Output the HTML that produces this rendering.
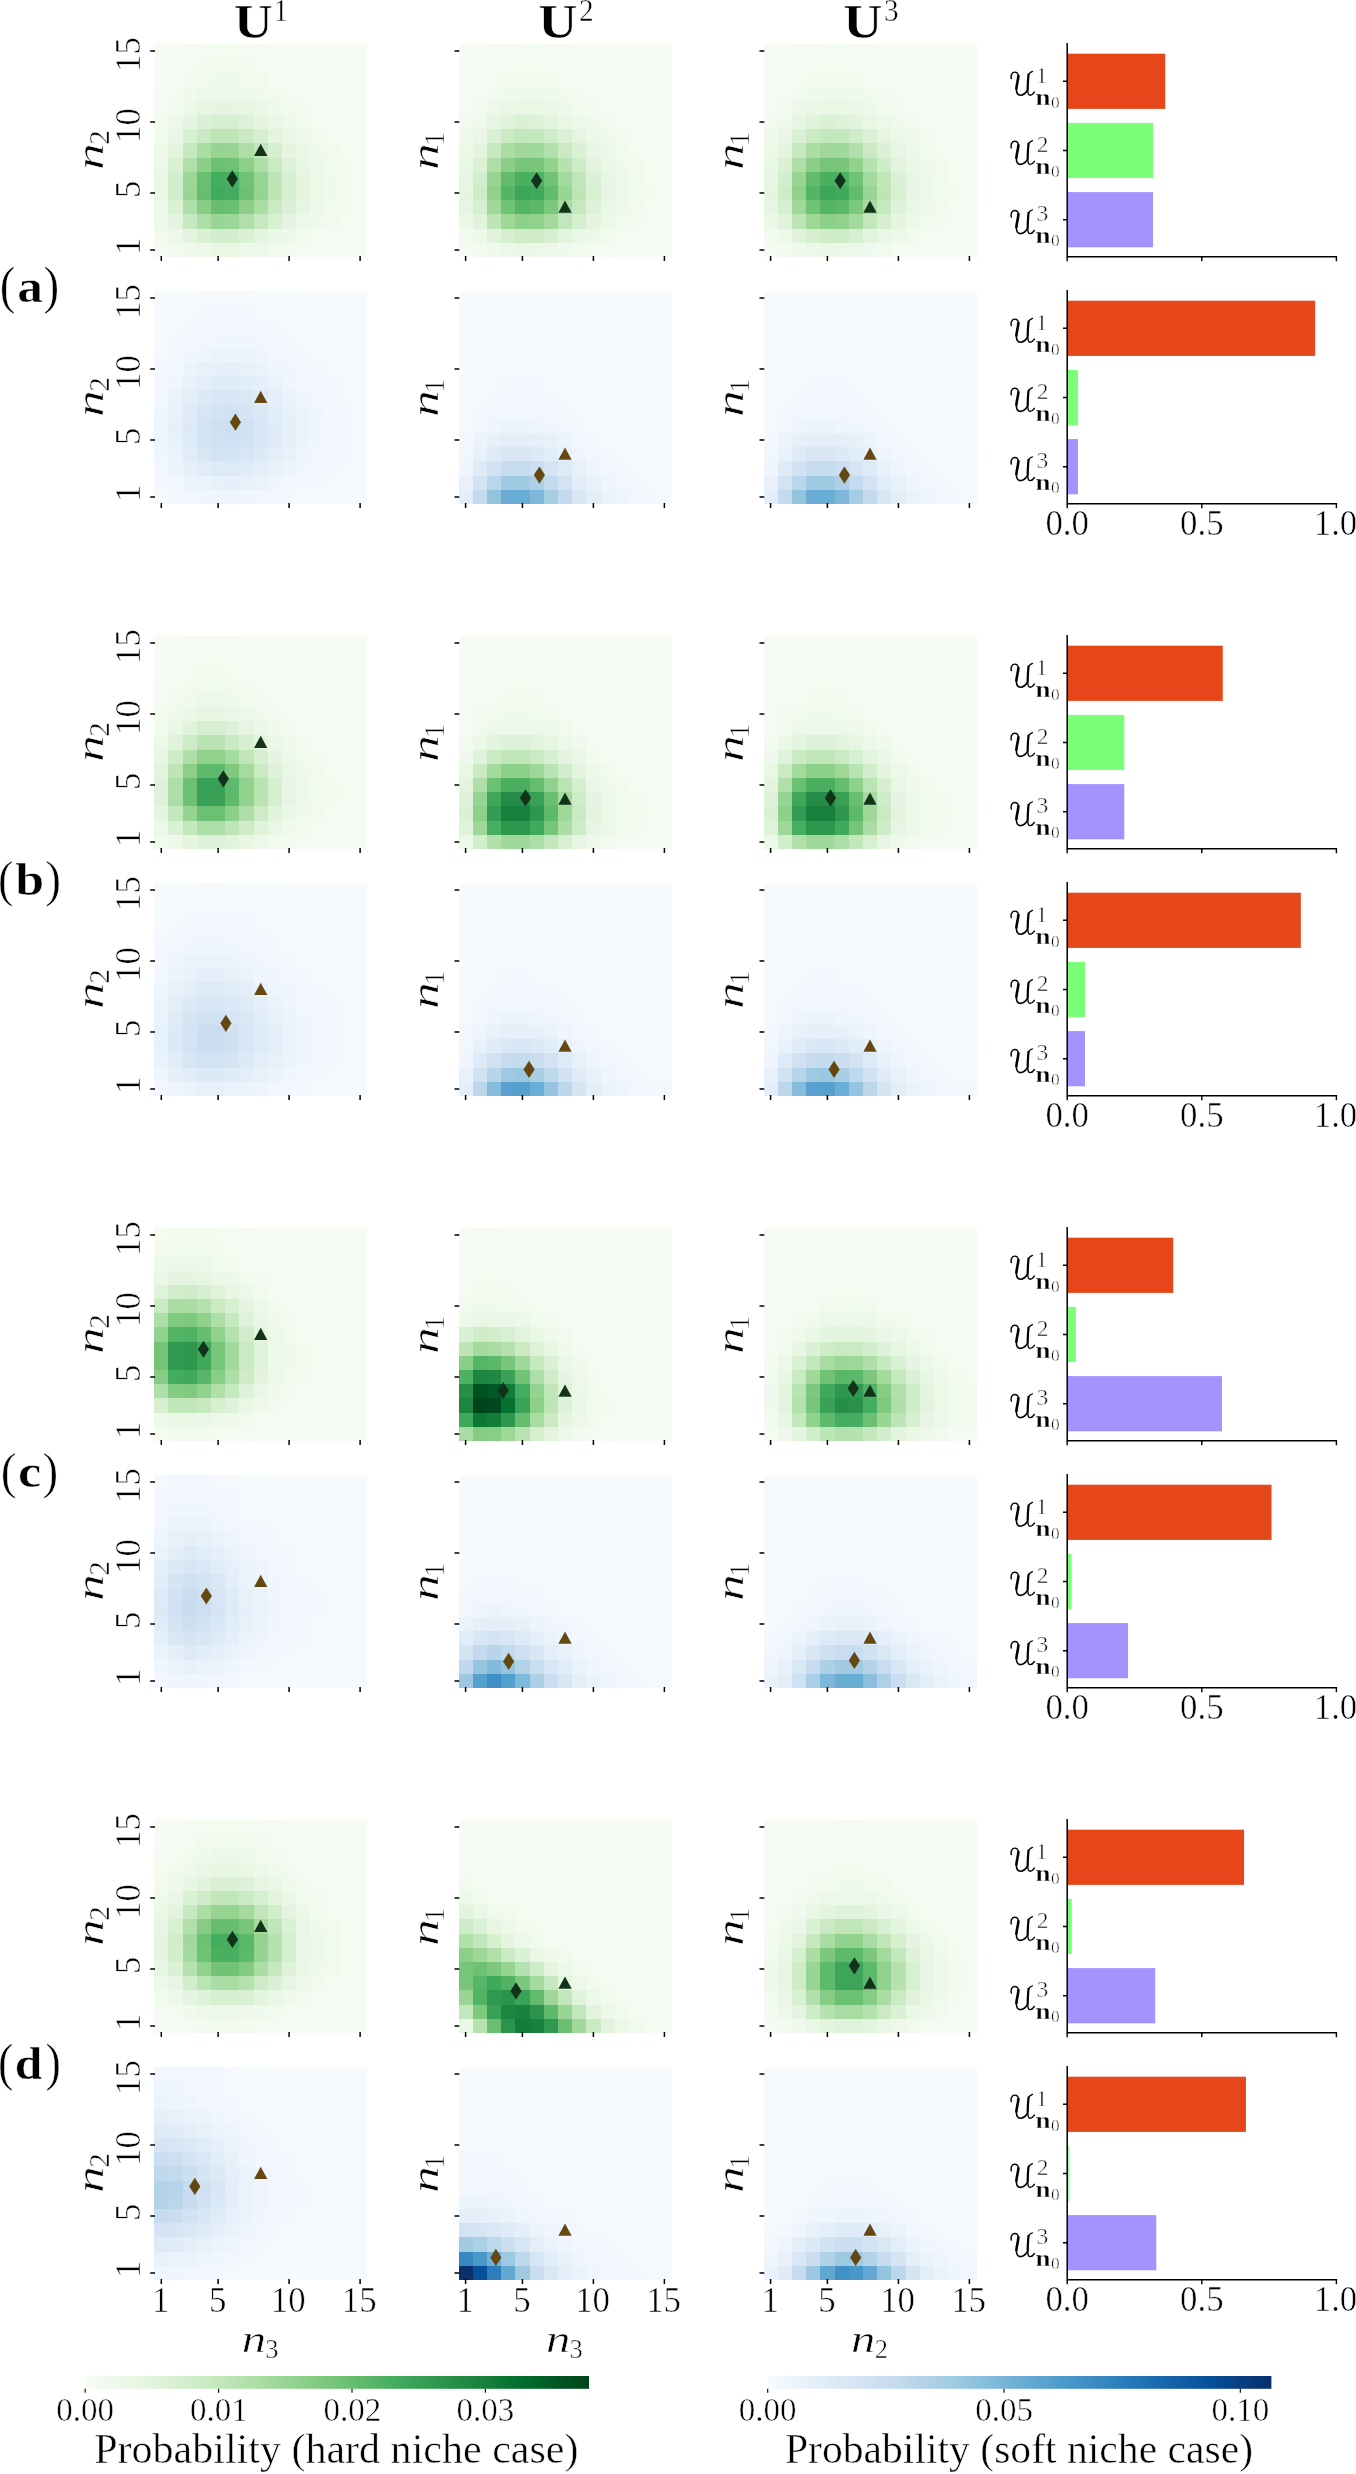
<!DOCTYPE html><html><head><meta charset="utf-8"><style>html,body{margin:0;padding:0;background:#fff}svg{display:block;will-change:transform}text{font-family:"Liberation Serif",serif;font-kerning:none;stroke:#fff;stroke-width:0.5px}</style></head><body><svg width="1356" height="2474" viewBox="0 0 1356 2474">
<rect width="1356" height="2474" fill="#fff"/>
<defs><g id="calU" fill="none" stroke="#000" stroke-linecap="round"><path stroke-width="1.4" d="M3.3 10.6C2.6 8.0 3.6 4.2 6.4 4.1C8.8 4.0 10.6 5.5 10.4 8.5"/><path stroke-width="2.6" d="M10.4 8.0C10.2 12 8.7 16 8.4 20.5"/><path stroke-width="1.6" d="M8.4 20.5C8.2 25 9.8 27.2 12.2 27.2C15.3 27.2 17.8 25.2 19.5 22.0"/><path stroke-width="1.1" d="M24.6 3.4C22.6 4.0 20.9 5.0 20.4 7.5"/><path stroke-width="2.2" d="M20.5 6.5C20.1 11 19.7 16 19.7 21"/><path stroke-width="1.4" d="M19.7 21C19.7 25.3 20.6 27.2 22.2 27.2C23.8 27.2 25.4 25.6 26.4 24.1"/></g></defs>
<text transform="translate(233.85,38.06) scale(1.110,1)" font-size="48.90" font-weight="bold">U</text>
<text transform="translate(273.43,21.00) scale(0.920,1)" font-size="31.80">1</text>
<text transform="translate(538.15,38.06) scale(1.110,1)" font-size="48.90" font-weight="bold">U</text>
<text transform="translate(579.01,21.00) scale(0.920,1)" font-size="31.80">2</text>
<text transform="translate(843.15,38.06) scale(1.110,1)" font-size="48.90" font-weight="bold">U</text>
<text transform="translate(883.90,21.00) scale(0.920,1)" font-size="31.80">3</text>
<g transform="translate(154.20,44.00) scale(14.20000)" shape-rendering="crispEdges">
<path fill="#f5fbf3" d="M0 14h1v1h-1zM11 14h1v1h-1zM13 13h1v1h-1zM14 12h1v1h-1zM14 7h1v1h-1zM13 6h1v1h-1zM12 4h1v1h-1zM0 3h1v1h-1zM10 2h1v1h-1zM1 1h1v1h-1zM8 1h1v1h-1zM2 0h1v1h-1zM7 0h1v1h-1z"/>
<path fill="#f2faf0" d="M1 14h1v1h-1zM0 13h1v1h-1zM12 12h1v1h-1zM13 10h1v1h-1zM13 9h1v1h-1zM12 7h1v1h-1zM11 6h1v1h-1zM8 3h1v1h-1zM2 2h1v1h-1zM7 2h1v1h-1zM4 1h1v1h-1zM5 1h1v1h-1z"/>
<path fill="#eff9eb" d="M2 14h1v1h-1zM0 12h1v1h-1zM10 6h1v1h-1zM9 5h1v1h-1zM8 4h1v1h-1z"/>
<path fill="#ecf8e8" d="M3 14h1v1h-1zM6 14h1v1h-1zM10 12h1v1h-1zM0 11h1v1h-1zM11 10h1v1h-1zM11 9h1v1h-1zM0 8h1v1h-1zM2 4h1v1h-1zM4 3h1v1h-1zM5 3h1v1h-1z"/>
<path fill="#e9f7e5" d="M4 14h1v1h-1zM5 14h1v1h-1zM8 13h1v1h-1zM0 10h1v1h-1zM0 9h1v1h-1zM1 6h1v1h-1z"/>
<path fill="#eef8ea" d="M7 14h1v1h-1zM1 13h1v1h-1zM9 13h1v1h-1zM11 11h1v1h-1zM11 8h1v1h-1zM0 7h1v1h-1zM1 5h1v1h-1zM3 3h1v1h-1zM6 3h1v1h-1z"/>
<path fill="#f1faee" d="M8 14h1v1h-1zM10 13h1v1h-1zM12 11h1v1h-1zM12 8h1v1h-1zM0 6h1v1h-1zM10 5h1v1h-1zM1 4h1v1h-1zM9 4h1v1h-1zM3 2h1v1h-1zM6 2h1v1h-1z"/>
<path fill="#f3faf0" d="M9 14h1v1h-1zM13 11h1v1h-1zM13 8h1v1h-1zM0 5h1v1h-1zM10 4h1v1h-1zM3 1h1v1h-1zM6 1h1v1h-1z"/>
<path fill="#f4fbf2" d="M10 14h1v1h-1zM12 13h1v1h-1zM14 11h1v1h-1zM14 8h1v1h-1zM12 5h1v1h-1zM0 4h1v1h-1zM11 4h1v1h-1zM10 3h1v1h-1zM1 2h1v1h-1zM9 2h1v1h-1zM3 0h1v1h-1zM6 0h1v1h-1z"/>
<path fill="#f6fcf4" d="M12 14h1v1h-1zM13 14h1v1h-1zM14 14h1v1h-1zM14 13h1v1h-1zM14 6h1v1h-1zM13 5h1v1h-1zM14 5h1v1h-1zM13 4h1v1h-1zM14 4h1v1h-1zM11 3h1v1h-1zM12 3h1v1h-1zM13 3h1v1h-1zM14 3h1v1h-1zM0 2h1v1h-1zM11 2h1v1h-1zM12 2h1v1h-1zM13 2h1v1h-1zM14 2h1v1h-1zM0 1h1v1h-1zM9 1h1v1h-1zM10 1h1v1h-1zM11 1h1v1h-1zM12 1h1v1h-1zM13 1h1v1h-1zM14 1h1v1h-1zM0 0h1v1h-1zM1 0h1v1h-1zM8 0h1v1h-1zM9 0h1v1h-1zM10 0h1v1h-1zM11 0h1v1h-1zM12 0h1v1h-1zM13 0h1v1h-1zM14 0h1v1h-1z"/>
<path fill="#e4f5df" d="M2 13h1v1h-1zM7 13h1v1h-1zM1 12h1v1h-1zM1 7h1v1h-1zM8 6h1v1h-1z"/>
<path fill="#dbf1d5" d="M3 13h1v1h-1zM6 13h1v1h-1zM1 11h1v1h-1zM1 8h1v1h-1z"/>
<path fill="#d3eecd" d="M4 13h1v1h-1zM5 13h1v1h-1zM1 10h1v1h-1zM1 9h1v1h-1z"/>
<path fill="#f4fbf1" d="M11 13h1v1h-1zM13 12h1v1h-1zM14 10h1v1h-1zM14 9h1v1h-1zM13 7h1v1h-1zM12 6h1v1h-1zM11 5h1v1h-1zM1 3h1v1h-1zM9 3h1v1h-1zM8 2h1v1h-1zM2 1h1v1h-1zM7 1h1v1h-1zM4 0h1v1h-1zM5 0h1v1h-1z"/>
<path fill="#c7e9c0" d="M2 12h1v1h-1z"/>
<path fill="#aedea7" d="M3 12h1v1h-1zM2 11h1v1h-1zM7 8h1v1h-1zM6 7h1v1h-1z"/>
<path fill="#99d595" d="M4 12h1v1h-1zM2 10h1v1h-1z"/>
<path fill="#9cd797" d="M5 12h1v1h-1zM2 9h1v1h-1z"/>
<path fill="#b0dfaa" d="M6 12h1v1h-1zM2 8h1v1h-1z"/>
<path fill="#c6e8bf" d="M7 12h1v1h-1zM2 7h1v1h-1z"/>
<path fill="#d8f0d2" d="M8 12h1v1h-1zM2 6h1v1h-1z"/>
<path fill="#e6f5e1" d="M9 12h1v1h-1zM2 5h1v1h-1z"/>
<path fill="#f0f9ed" d="M11 12h1v1h-1zM12 9h1v1h-1zM11 7h1v1h-1zM2 3h1v1h-1zM7 3h1v1h-1zM5 2h1v1h-1z"/>
<path fill="#86cc85" d="M3 11h1v1h-1z"/>
<path fill="#68be70" d="M4 11h1v1h-1zM3 10h1v1h-1z"/>
<path fill="#6abf71" d="M5 11h1v1h-1zM3 9h1v1h-1z"/>
<path fill="#8ace88" d="M6 11h1v1h-1zM3 8h1v1h-1z"/>
<path fill="#aadda4" d="M7 11h1v1h-1zM3 7h1v1h-1z"/>
<path fill="#c9eac2" d="M8 11h1v1h-1zM3 6h1v1h-1z"/>
<path fill="#dbf1d6" d="M9 11h1v1h-1zM3 5h1v1h-1z"/>
<path fill="#e7f6e3" d="M10 11h1v1h-1zM3 4h1v1h-1z"/>
<path fill="#40aa5d" d="M4 10h1v1h-1z"/>
<path fill="#45ad5f" d="M5 10h1v1h-1zM4 9h1v1h-1z"/>
<path fill="#6bc072" d="M6 10h1v1h-1zM4 8h1v1h-1z"/>
<path fill="#97d492" d="M7 10h1v1h-1zM4 7h1v1h-1z"/>
<path fill="#bde5b6" d="M8 10h1v1h-1zM4 6h1v1h-1z"/>
<path fill="#d6efd0" d="M9 10h1v1h-1zM9 9h1v1h-1zM4 5h1v1h-1zM5 5h1v1h-1z"/>
<path fill="#e5f5e0" d="M10 10h1v1h-1zM10 9h1v1h-1zM9 7h1v1h-1zM7 5h1v1h-1zM4 4h1v1h-1zM5 4h1v1h-1z"/>
<path fill="#eff9ec" d="M12 10h1v1h-1zM4 2h1v1h-1z"/>
<path fill="#46ae60" d="M5 9h1v1h-1z"/>
<path fill="#70c274" d="M6 9h1v1h-1zM5 8h1v1h-1z"/>
<path fill="#98d594" d="M7 9h1v1h-1zM5 7h1v1h-1z"/>
<path fill="#bee5b8" d="M8 9h1v1h-1zM5 6h1v1h-1z"/>
<path fill="#8dd08a" d="M6 8h1v1h-1z"/>
<path fill="#cbeac4" d="M8 8h1v1h-1zM6 6h1v1h-1z"/>
<path fill="#ddf2d8" d="M9 8h1v1h-1zM6 5h1v1h-1z"/>
<path fill="#e8f6e4" d="M10 8h1v1h-1zM6 4h1v1h-1z"/>
<path fill="#c3e7bc" d="M7 7h1v1h-1z"/>
<path fill="#d7efd1" d="M8 7h1v1h-1zM7 6h1v1h-1z"/>
<path fill="#ebf7e7" d="M10 7h1v1h-1zM7 4h1v1h-1z"/>
<path fill="#eaf7e6" d="M9 6h1v1h-1zM8 5h1v1h-1z"/>
</g>
<path stroke="#000" stroke-width="1.5" d="M150.20 249.90h4.8M161.30 256.00v4.9M150.20 193.10h4.8M218.10 256.00v4.9M150.20 122.10h4.8M289.10 256.00v4.9M150.20 51.10h4.8M360.10 256.00v4.9"/>
<path fill="#13321a" d="M232.30 170.30L237.90 178.90L232.30 187.50L226.70 178.90z"/>
<path fill="#13321a" d="M260.70 143.80L267.35 156.00L254.05 156.00z"/>
<text transform="translate(103.00,150.50) rotate(-90) translate(-19.42,0.00) scale(1.400,1)" font-size="38.40" font-style="italic">n</text>
<text transform="translate(103.00,150.50) rotate(-90) translate(5.73,6.00)" font-size="29.00">2</text>
<text transform="translate(140.1,249.90) rotate(-90) translate(-5.08,0.00)" font-size="34.80">1</text>
<text transform="translate(140.1,193.10) rotate(-90) translate(-4.93,0.00)" font-size="34.80">5</text>
<text transform="translate(140.1,122.10) rotate(-90) translate(-20.87,0.00)" font-size="34.80">10</text>
<text transform="translate(140.1,51.10) rotate(-90) translate(-20.85,0.00)" font-size="34.80">15</text>
<g transform="translate(458.50,44.00) scale(14.20000)" shape-rendering="crispEdges">
<path fill="#f4fbf2" d="M0 14h1v1h-1zM13 12h1v1h-1zM14 11h1v1h-1zM14 10h1v1h-1zM14 9h1v1h-1zM14 8h1v1h-1zM13 7h1v1h-1zM12 6h1v1h-1zM11 5h1v1h-1zM0 4h1v1h-1zM10 4h1v1h-1zM1 3h1v1h-1zM9 3h1v1h-1zM2 1h1v1h-1zM6 1h1v1h-1zM4 0h1v1h-1zM5 0h1v1h-1z"/>
<path fill="#f3faf0" d="M1 14h1v1h-1zM12 12h1v1h-1zM13 10h1v1h-1zM11 6h1v1h-1zM10 5h1v1h-1zM9 4h1v1h-1zM8 3h1v1h-1zM3 2h1v1h-1zM6 2h1v1h-1z"/>
<path fill="#eff9ec" d="M2 14h1v1h-1zM0 6h1v1h-1zM1 5h1v1h-1zM3 3h1v1h-1z"/>
<path fill="#ecf8e8" d="M3 14h1v1h-1zM5 14h1v1h-1zM1 13h1v1h-1zM10 12h1v1h-1zM0 7h1v1h-1zM9 6h1v1h-1zM8 5h1v1h-1z"/>
<path fill="#ebf7e7" d="M4 14h1v1h-1zM0 12h1v1h-1zM10 8h1v1h-1zM6 4h1v1h-1z"/>
<path fill="#edf8ea" d="M6 14h1v1h-1z"/>
<path fill="#f0f9ed" d="M7 14h1v1h-1zM11 8h1v1h-1zM10 6h1v1h-1zM9 5h1v1h-1zM6 3h1v1h-1z"/>
<path fill="#f1faee" d="M8 14h1v1h-1zM0 13h1v1h-1zM10 13h1v1h-1zM11 12h1v1h-1zM12 10h1v1h-1zM12 9h1v1h-1zM11 7h1v1h-1zM8 4h1v1h-1zM2 3h1v1h-1zM7 3h1v1h-1z"/>
<path fill="#f4fbf1" d="M9 14h1v1h-1zM11 13h1v1h-1zM13 11h1v1h-1zM13 9h1v1h-1zM13 8h1v1h-1zM12 7h1v1h-1zM2 2h1v1h-1zM7 2h1v1h-1zM3 1h1v1h-1zM4 1h1v1h-1zM5 1h1v1h-1z"/>
<path fill="#f5fbf3" d="M10 14h1v1h-1zM12 13h1v1h-1zM14 12h1v1h-1zM14 7h1v1h-1zM13 6h1v1h-1zM12 5h1v1h-1zM11 4h1v1h-1zM0 3h1v1h-1zM10 3h1v1h-1zM1 2h1v1h-1zM8 2h1v1h-1zM7 1h1v1h-1zM8 1h1v1h-1zM2 0h1v1h-1zM3 0h1v1h-1zM6 0h1v1h-1zM7 0h1v1h-1z"/>
<path fill="#f6fcf4" d="M11 14h1v1h-1zM12 14h1v1h-1zM13 14h1v1h-1zM14 14h1v1h-1zM13 13h1v1h-1zM14 13h1v1h-1zM14 6h1v1h-1zM13 5h1v1h-1zM14 5h1v1h-1zM12 4h1v1h-1zM13 4h1v1h-1zM14 4h1v1h-1zM11 3h1v1h-1zM12 3h1v1h-1zM13 3h1v1h-1zM14 3h1v1h-1zM0 2h1v1h-1zM9 2h1v1h-1zM10 2h1v1h-1zM11 2h1v1h-1zM12 2h1v1h-1zM13 2h1v1h-1zM14 2h1v1h-1zM0 1h1v1h-1zM1 1h1v1h-1zM9 1h1v1h-1zM10 1h1v1h-1zM11 1h1v1h-1zM12 1h1v1h-1zM13 1h1v1h-1zM14 1h1v1h-1zM0 0h1v1h-1zM1 0h1v1h-1zM8 0h1v1h-1zM9 0h1v1h-1zM10 0h1v1h-1zM11 0h1v1h-1zM12 0h1v1h-1zM13 0h1v1h-1zM14 0h1v1h-1z"/>
<path fill="#e0f3db" d="M2 13h1v1h-1zM1 12h1v1h-1zM3 5h1v1h-1z"/>
<path fill="#d5efcf" d="M3 13h1v1h-1z"/>
<path fill="#ceecc8" d="M4 13h1v1h-1zM8 8h1v1h-1z"/>
<path fill="#cfecc9" d="M5 13h1v1h-1zM1 10h1v1h-1z"/>
<path fill="#d7efd1" d="M6 13h1v1h-1z"/>
<path fill="#e3f4de" d="M7 13h1v1h-1zM6 5h1v1h-1z"/>
<path fill="#e9f7e5" d="M8 13h1v1h-1zM10 11h1v1h-1zM0 8h1v1h-1zM7 5h1v1h-1zM4 4h1v1h-1zM5 4h1v1h-1z"/>
<path fill="#eef8ea" d="M9 13h1v1h-1zM11 10h1v1h-1zM11 9h1v1h-1zM10 7h1v1h-1zM2 4h1v1h-1z"/>
<path fill="#bde5b6" d="M2 12h1v1h-1zM8 10h1v1h-1z"/>
<path fill="#9ed798" d="M3 12h1v1h-1z"/>
<path fill="#8dd08a" d="M4 12h1v1h-1z"/>
<path fill="#90d18d" d="M5 12h1v1h-1zM2 10h1v1h-1z"/>
<path fill="#a4da9e" d="M6 12h1v1h-1z"/>
<path fill="#c3e7bc" d="M7 12h1v1h-1zM4 6h1v1h-1z"/>
<path fill="#d6efd0" d="M8 12h1v1h-1zM1 11h1v1h-1z"/>
<path fill="#e5f5e0" d="M9 12h1v1h-1zM0 10h1v1h-1z"/>
<path fill="#e7f6e3" d="M0 11h1v1h-1zM10 10h1v1h-1zM9 7h1v1h-1zM2 5h1v1h-1z"/>
<path fill="#9fd899" d="M2 11h1v1h-1zM4 7h1v1h-1z"/>
<path fill="#70c274" d="M3 11h1v1h-1zM6 9h1v1h-1z"/>
<path fill="#55b567" d="M4 11h1v1h-1zM3 10h1v1h-1z"/>
<path fill="#5bb86a" d="M5 11h1v1h-1z"/>
<path fill="#7cc87c" d="M6 11h1v1h-1z"/>
<path fill="#a9dca3" d="M7 11h1v1h-1z"/>
<path fill="#c6e8bf" d="M8 11h1v1h-1z"/>
<path fill="#ddf2d8" d="M9 11h1v1h-1zM5 5h1v1h-1z"/>
<path fill="#eff9eb" d="M11 11h1v1h-1zM7 4h1v1h-1zM4 3h1v1h-1zM5 3h1v1h-1z"/>
<path fill="#f2faf0" d="M12 11h1v1h-1zM12 8h1v1h-1zM0 5h1v1h-1zM1 4h1v1h-1zM4 2h1v1h-1zM5 2h1v1h-1z"/>
<path fill="#3ca559" d="M4 10h1v1h-1z"/>
<path fill="#3fa95c" d="M5 10h1v1h-1z"/>
<path fill="#63bc6e" d="M6 10h1v1h-1zM3 9h1v1h-1z"/>
<path fill="#99d595" d="M7 10h1v1h-1z"/>
<path fill="#d8f0d2" d="M9 10h1v1h-1z"/>
<path fill="#e7f6e2" d="M0 9h1v1h-1z"/>
<path fill="#d3eecd" d="M1 9h1v1h-1z"/>
<path fill="#98d594" d="M2 9h1v1h-1z"/>
<path fill="#4aaf61" d="M4 9h1v1h-1z"/>
<path fill="#4db163" d="M5 9h1v1h-1z"/>
<path fill="#a3da9d" d="M7 9h1v1h-1z"/>
<path fill="#c1e6ba" d="M8 9h1v1h-1z"/>
<path fill="#dbf1d5" d="M9 9h1v1h-1zM8 7h1v1h-1z"/>
<path fill="#e8f6e4" d="M10 9h1v1h-1z"/>
<path fill="#dbf1d6" d="M1 8h1v1h-1zM7 6h1v1h-1zM4 5h1v1h-1z"/>
<path fill="#afdfa8" d="M2 8h1v1h-1z"/>
<path fill="#8ace88" d="M3 8h1v1h-1z"/>
<path fill="#76c578" d="M4 8h1v1h-1z"/>
<path fill="#79c67a" d="M5 8h1v1h-1z"/>
<path fill="#92d28f" d="M6 8h1v1h-1z"/>
<path fill="#b6e2af" d="M7 8h1v1h-1z"/>
<path fill="#e2f4dd" d="M9 8h1v1h-1z"/>
<path fill="#e4f5df" d="M1 7h1v1h-1z"/>
<path fill="#c7e9c0" d="M2 7h1v1h-1z"/>
<path fill="#abdda5" d="M3 7h1v1h-1z"/>
<path fill="#a0d99b" d="M5 7h1v1h-1z"/>
<path fill="#b2e0ac" d="M6 7h1v1h-1z"/>
<path fill="#cbeac4" d="M7 7h1v1h-1zM3 6h1v1h-1z"/>
<path fill="#eaf7e6" d="M1 6h1v1h-1zM3 4h1v1h-1z"/>
<path fill="#daf0d4" d="M2 6h1v1h-1z"/>
<path fill="#c4e8bd" d="M5 6h1v1h-1z"/>
<path fill="#cdecc7" d="M6 6h1v1h-1z"/>
<path fill="#e6f5e1" d="M8 6h1v1h-1z"/>
</g>
<path stroke="#000" stroke-width="1.5" d="M454.50 249.90h4.8M465.60 256.00v4.9M454.50 193.10h4.8M522.40 256.00v4.9M454.50 122.10h4.8M593.40 256.00v4.9M454.50 51.10h4.8M664.40 256.00v4.9"/>
<path fill="#13321a" d="M536.60 172.15L542.20 180.75L536.60 189.35L531.00 180.75z"/>
<path fill="#13321a" d="M565.00 200.60L571.65 212.80L558.35 212.80z"/>
<text transform="translate(438.10,150.50) rotate(-90) translate(-19.42,0.00) scale(1.400,1)" font-size="38.40" font-style="italic">n</text>
<text transform="translate(438.10,150.50) rotate(-90) translate(4.45,6.00)" font-size="29.00">1</text>
<g transform="translate(763.50,44.00) scale(14.20000)" shape-rendering="crispEdges">
<path fill="#f4fbf2" d="M0 14h1v1h-1zM13 12h1v1h-1zM14 11h1v1h-1zM14 10h1v1h-1zM14 9h1v1h-1zM14 8h1v1h-1zM13 7h1v1h-1zM12 6h1v1h-1zM11 5h1v1h-1zM0 4h1v1h-1zM10 4h1v1h-1zM1 3h1v1h-1zM9 3h1v1h-1zM2 1h1v1h-1zM6 1h1v1h-1zM4 0h1v1h-1zM5 0h1v1h-1z"/>
<path fill="#f3faf0" d="M1 14h1v1h-1zM12 12h1v1h-1zM13 10h1v1h-1zM11 6h1v1h-1zM10 5h1v1h-1zM9 4h1v1h-1zM8 3h1v1h-1zM3 2h1v1h-1zM6 2h1v1h-1z"/>
<path fill="#eff9ec" d="M2 14h1v1h-1zM0 6h1v1h-1zM1 5h1v1h-1zM3 3h1v1h-1z"/>
<path fill="#ecf8e8" d="M3 14h1v1h-1zM5 14h1v1h-1zM1 13h1v1h-1zM10 12h1v1h-1zM0 7h1v1h-1zM9 6h1v1h-1zM8 5h1v1h-1z"/>
<path fill="#ebf7e7" d="M4 14h1v1h-1zM0 12h1v1h-1zM10 8h1v1h-1zM6 4h1v1h-1z"/>
<path fill="#edf8ea" d="M6 14h1v1h-1z"/>
<path fill="#f0f9ed" d="M7 14h1v1h-1zM11 8h1v1h-1zM10 6h1v1h-1zM9 5h1v1h-1zM6 3h1v1h-1z"/>
<path fill="#f1faee" d="M8 14h1v1h-1zM0 13h1v1h-1zM10 13h1v1h-1zM11 12h1v1h-1zM12 10h1v1h-1zM12 9h1v1h-1zM11 7h1v1h-1zM8 4h1v1h-1zM2 3h1v1h-1zM7 3h1v1h-1z"/>
<path fill="#f4fbf1" d="M9 14h1v1h-1zM11 13h1v1h-1zM13 11h1v1h-1zM13 9h1v1h-1zM13 8h1v1h-1zM12 7h1v1h-1zM2 2h1v1h-1zM7 2h1v1h-1zM3 1h1v1h-1zM4 1h1v1h-1zM5 1h1v1h-1z"/>
<path fill="#f5fbf3" d="M10 14h1v1h-1zM12 13h1v1h-1zM14 12h1v1h-1zM14 7h1v1h-1zM13 6h1v1h-1zM12 5h1v1h-1zM11 4h1v1h-1zM0 3h1v1h-1zM10 3h1v1h-1zM1 2h1v1h-1zM8 2h1v1h-1zM7 1h1v1h-1zM8 1h1v1h-1zM2 0h1v1h-1zM3 0h1v1h-1zM6 0h1v1h-1zM7 0h1v1h-1z"/>
<path fill="#f6fcf4" d="M11 14h1v1h-1zM12 14h1v1h-1zM13 14h1v1h-1zM14 14h1v1h-1zM13 13h1v1h-1zM14 13h1v1h-1zM14 6h1v1h-1zM13 5h1v1h-1zM14 5h1v1h-1zM12 4h1v1h-1zM13 4h1v1h-1zM14 4h1v1h-1zM11 3h1v1h-1zM12 3h1v1h-1zM13 3h1v1h-1zM14 3h1v1h-1zM0 2h1v1h-1zM9 2h1v1h-1zM10 2h1v1h-1zM11 2h1v1h-1zM12 2h1v1h-1zM13 2h1v1h-1zM14 2h1v1h-1zM0 1h1v1h-1zM1 1h1v1h-1zM9 1h1v1h-1zM10 1h1v1h-1zM11 1h1v1h-1zM12 1h1v1h-1zM13 1h1v1h-1zM14 1h1v1h-1zM0 0h1v1h-1zM1 0h1v1h-1zM8 0h1v1h-1zM9 0h1v1h-1zM10 0h1v1h-1zM11 0h1v1h-1zM12 0h1v1h-1zM13 0h1v1h-1zM14 0h1v1h-1z"/>
<path fill="#e0f3db" d="M2 13h1v1h-1zM1 12h1v1h-1zM3 5h1v1h-1z"/>
<path fill="#d5efcf" d="M3 13h1v1h-1z"/>
<path fill="#ceecc8" d="M4 13h1v1h-1zM8 8h1v1h-1z"/>
<path fill="#cfecc9" d="M5 13h1v1h-1zM1 10h1v1h-1z"/>
<path fill="#d7efd1" d="M6 13h1v1h-1z"/>
<path fill="#e3f4de" d="M7 13h1v1h-1zM6 5h1v1h-1z"/>
<path fill="#e9f7e5" d="M8 13h1v1h-1zM10 11h1v1h-1zM0 8h1v1h-1zM7 5h1v1h-1zM4 4h1v1h-1zM5 4h1v1h-1z"/>
<path fill="#eef8ea" d="M9 13h1v1h-1zM11 10h1v1h-1zM11 9h1v1h-1zM10 7h1v1h-1zM2 4h1v1h-1z"/>
<path fill="#bde5b6" d="M2 12h1v1h-1zM8 10h1v1h-1z"/>
<path fill="#9ed798" d="M3 12h1v1h-1z"/>
<path fill="#8dd08a" d="M4 12h1v1h-1z"/>
<path fill="#90d18d" d="M5 12h1v1h-1zM2 10h1v1h-1z"/>
<path fill="#a4da9e" d="M6 12h1v1h-1z"/>
<path fill="#c3e7bc" d="M7 12h1v1h-1zM4 6h1v1h-1z"/>
<path fill="#d6efd0" d="M8 12h1v1h-1zM1 11h1v1h-1z"/>
<path fill="#e5f5e0" d="M9 12h1v1h-1zM0 10h1v1h-1z"/>
<path fill="#e7f6e3" d="M0 11h1v1h-1zM10 10h1v1h-1zM9 7h1v1h-1zM2 5h1v1h-1z"/>
<path fill="#9fd899" d="M2 11h1v1h-1zM4 7h1v1h-1z"/>
<path fill="#70c274" d="M3 11h1v1h-1zM6 9h1v1h-1z"/>
<path fill="#55b567" d="M4 11h1v1h-1zM3 10h1v1h-1z"/>
<path fill="#5bb86a" d="M5 11h1v1h-1z"/>
<path fill="#7cc87c" d="M6 11h1v1h-1z"/>
<path fill="#a9dca3" d="M7 11h1v1h-1z"/>
<path fill="#c6e8bf" d="M8 11h1v1h-1z"/>
<path fill="#ddf2d8" d="M9 11h1v1h-1zM5 5h1v1h-1z"/>
<path fill="#eff9eb" d="M11 11h1v1h-1zM7 4h1v1h-1zM4 3h1v1h-1zM5 3h1v1h-1z"/>
<path fill="#f2faf0" d="M12 11h1v1h-1zM12 8h1v1h-1zM0 5h1v1h-1zM1 4h1v1h-1zM4 2h1v1h-1zM5 2h1v1h-1z"/>
<path fill="#3ca559" d="M4 10h1v1h-1z"/>
<path fill="#3fa95c" d="M5 10h1v1h-1z"/>
<path fill="#63bc6e" d="M6 10h1v1h-1zM3 9h1v1h-1z"/>
<path fill="#99d595" d="M7 10h1v1h-1z"/>
<path fill="#d8f0d2" d="M9 10h1v1h-1z"/>
<path fill="#e7f6e2" d="M0 9h1v1h-1z"/>
<path fill="#d3eecd" d="M1 9h1v1h-1z"/>
<path fill="#98d594" d="M2 9h1v1h-1z"/>
<path fill="#4aaf61" d="M4 9h1v1h-1z"/>
<path fill="#4db163" d="M5 9h1v1h-1z"/>
<path fill="#a3da9d" d="M7 9h1v1h-1z"/>
<path fill="#c1e6ba" d="M8 9h1v1h-1z"/>
<path fill="#dbf1d5" d="M9 9h1v1h-1zM8 7h1v1h-1z"/>
<path fill="#e8f6e4" d="M10 9h1v1h-1z"/>
<path fill="#dbf1d6" d="M1 8h1v1h-1zM7 6h1v1h-1zM4 5h1v1h-1z"/>
<path fill="#afdfa8" d="M2 8h1v1h-1z"/>
<path fill="#8ace88" d="M3 8h1v1h-1z"/>
<path fill="#76c578" d="M4 8h1v1h-1z"/>
<path fill="#79c67a" d="M5 8h1v1h-1z"/>
<path fill="#92d28f" d="M6 8h1v1h-1z"/>
<path fill="#b6e2af" d="M7 8h1v1h-1z"/>
<path fill="#e2f4dd" d="M9 8h1v1h-1z"/>
<path fill="#e4f5df" d="M1 7h1v1h-1z"/>
<path fill="#c7e9c0" d="M2 7h1v1h-1z"/>
<path fill="#abdda5" d="M3 7h1v1h-1z"/>
<path fill="#a0d99b" d="M5 7h1v1h-1z"/>
<path fill="#b2e0ac" d="M6 7h1v1h-1z"/>
<path fill="#cbeac4" d="M7 7h1v1h-1zM3 6h1v1h-1z"/>
<path fill="#eaf7e6" d="M1 6h1v1h-1zM3 4h1v1h-1z"/>
<path fill="#daf0d4" d="M2 6h1v1h-1z"/>
<path fill="#c4e8bd" d="M5 6h1v1h-1z"/>
<path fill="#cdecc7" d="M6 6h1v1h-1z"/>
<path fill="#e6f5e1" d="M8 6h1v1h-1z"/>
</g>
<path stroke="#000" stroke-width="1.5" d="M759.50 249.90h4.8M770.60 256.00v4.9M759.50 193.10h4.8M827.40 256.00v4.9M759.50 122.10h4.8M898.40 256.00v4.9M759.50 51.10h4.8M969.40 256.00v4.9"/>
<path fill="#13321a" d="M840.18 172.15L845.78 180.75L840.18 189.35L834.58 180.75z"/>
<path fill="#13321a" d="M870.00 200.60L876.65 212.80L863.35 212.80z"/>
<text transform="translate(743.10,150.50) rotate(-90) translate(-19.42,0.00) scale(1.400,1)" font-size="38.40" font-style="italic">n</text>
<text transform="translate(743.10,150.50) rotate(-90) translate(4.45,6.00)" font-size="29.00">1</text>
<rect x="1067.20" y="53.70" width="97.99" height="55.2" fill="#e5471a"/>
<rect x="1067.20" y="122.90" width="85.87" height="55.2" fill="#7bff78"/>
<rect x="1067.20" y="192.10" width="85.87" height="55.2" fill="#a493ff"/>
<path stroke="#000" stroke-width="1.5" fill="none" d="M1067.20 43.00V256.70H1337.10"/>
<path stroke="#000" stroke-width="1.4" d="M1063.00 81.30h4.2M1063.00 150.50h4.2M1063.00 219.70h4.2M1067.20 257.00v4.2M1201.80 257.00v4.2M1336.40 257.00v4.2"/>
<use href="#calU" x="1008" y="68.00"/>
<text x="1035.63" y="82.80" font-size="23.50">1</text>
<text transform="translate(1035.36,105.00) scale(1.170,1)" font-size="23.60" font-weight="bold">n</text>
<text x="1050.94" y="107.70" font-size="17.30">0</text>
<use href="#calU" x="1008" y="137.20"/>
<text x="1036.67" y="152.00" font-size="23.50">2</text>
<text transform="translate(1035.36,174.20) scale(1.170,1)" font-size="23.60" font-weight="bold">n</text>
<text x="1050.94" y="176.90" font-size="17.30">0</text>
<use href="#calU" x="1008" y="206.40"/>
<text x="1036.58" y="221.20" font-size="23.50">3</text>
<text transform="translate(1035.36,243.40) scale(1.170,1)" font-size="23.60" font-weight="bold">n</text>
<text x="1050.94" y="246.10" font-size="17.30">0</text>
<g transform="translate(154.20,291.00) scale(14.20000)" shape-rendering="crispEdges">
<path fill="#f5fafe" d="M0 14h1v1h-1zM11 14h1v1h-1zM12 14h1v1h-1zM13 13h1v1h-1zM14 13h1v1h-1zM14 12h1v1h-1zM14 7h1v1h-1zM14 6h1v1h-1zM13 5h1v1h-1zM14 5h1v1h-1zM12 4h1v1h-1zM13 4h1v1h-1zM0 3h1v1h-1zM11 3h1v1h-1zM12 3h1v1h-1zM0 2h1v1h-1zM10 2h1v1h-1zM11 2h1v1h-1zM1 1h1v1h-1zM9 1h1v1h-1zM10 1h1v1h-1zM1 0h1v1h-1zM2 0h1v1h-1zM7 0h1v1h-1zM8 0h1v1h-1zM9 0h1v1h-1z"/>
<path fill="#f3f8fe" d="M1 14h1v1h-1zM9 14h1v1h-1zM0 13h1v1h-1zM11 13h1v1h-1zM12 12h1v1h-1zM13 11h1v1h-1zM13 10h1v1h-1zM13 9h1v1h-1zM13 8h1v1h-1zM12 6h1v1h-1zM0 5h1v1h-1zM11 5h1v1h-1zM10 4h1v1h-1zM1 3h1v1h-1zM9 3h1v1h-1zM2 2h1v1h-1zM8 2h1v1h-1zM3 1h1v1h-1zM4 1h1v1h-1zM5 1h1v1h-1zM6 1h1v1h-1z"/>
<path fill="#f2f7fd" d="M2 14h1v1h-1zM8 14h1v1h-1zM0 12h1v1h-1zM12 10h1v1h-1zM12 9h1v1h-1zM11 7h1v1h-1zM0 6h1v1h-1zM7 3h1v1h-1zM4 2h1v1h-1zM5 2h1v1h-1z"/>
<path fill="#eff6fc" d="M3 14h1v1h-1zM6 14h1v1h-1zM10 12h1v1h-1zM0 11h1v1h-1zM11 10h1v1h-1zM11 9h1v1h-1zM0 8h1v1h-1zM11 8h1v1h-1zM9 5h1v1h-1zM2 4h1v1h-1zM4 3h1v1h-1zM5 3h1v1h-1zM6 3h1v1h-1z"/>
<path fill="#eef5fc" d="M4 14h1v1h-1zM5 14h1v1h-1zM8 13h1v1h-1zM10 11h1v1h-1zM0 10h1v1h-1zM0 9h1v1h-1zM10 7h1v1h-1zM1 6h1v1h-1zM9 6h1v1h-1zM8 5h1v1h-1zM3 4h1v1h-1zM7 4h1v1h-1z"/>
<path fill="#f1f7fd" d="M7 14h1v1h-1zM1 13h1v1h-1zM9 13h1v1h-1zM11 11h1v1h-1zM0 7h1v1h-1zM10 6h1v1h-1zM1 5h1v1h-1zM8 4h1v1h-1zM3 3h1v1h-1z"/>
<path fill="#f5f9fe" d="M10 14h1v1h-1zM12 13h1v1h-1zM13 12h1v1h-1zM14 11h1v1h-1zM14 10h1v1h-1zM14 9h1v1h-1zM14 8h1v1h-1zM13 7h1v1h-1zM13 6h1v1h-1zM12 5h1v1h-1zM0 4h1v1h-1zM11 4h1v1h-1zM10 3h1v1h-1zM1 2h1v1h-1zM9 2h1v1h-1zM2 1h1v1h-1zM7 1h1v1h-1zM8 1h1v1h-1zM3 0h1v1h-1zM4 0h1v1h-1zM5 0h1v1h-1zM6 0h1v1h-1z"/>
<path fill="#f6faff" d="M13 14h1v1h-1zM14 14h1v1h-1zM14 4h1v1h-1zM13 3h1v1h-1zM14 3h1v1h-1zM12 2h1v1h-1zM13 2h1v1h-1zM14 2h1v1h-1zM0 1h1v1h-1zM11 1h1v1h-1zM12 1h1v1h-1zM13 1h1v1h-1zM14 1h1v1h-1zM0 0h1v1h-1zM10 0h1v1h-1zM11 0h1v1h-1zM12 0h1v1h-1zM13 0h1v1h-1zM14 0h1v1h-1z"/>
<path fill="#ecf4fb" d="M2 13h1v1h-1zM1 12h1v1h-1zM9 12h1v1h-1zM10 8h1v1h-1zM2 5h1v1h-1zM6 4h1v1h-1z"/>
<path fill="#eaf2fb" d="M3 13h1v1h-1zM1 11h1v1h-1zM8 6h1v1h-1z"/>
<path fill="#e7f1fa" d="M4 13h1v1h-1zM1 10h1v1h-1zM9 8h1v1h-1zM6 5h1v1h-1z"/>
<path fill="#e7f0fa" d="M5 13h1v1h-1zM2 12h1v1h-1zM9 10h1v1h-1zM1 9h1v1h-1zM4 5h1v1h-1z"/>
<path fill="#e8f1fa" d="M6 13h1v1h-1zM8 12h1v1h-1zM9 11h1v1h-1zM1 8h1v1h-1zM2 6h1v1h-1zM3 5h1v1h-1z"/>
<path fill="#eaf3fb" d="M7 13h1v1h-1zM1 7h1v1h-1zM9 7h1v1h-1zM7 5h1v1h-1z"/>
<path fill="#f2f8fd" d="M10 13h1v1h-1zM11 12h1v1h-1zM12 11h1v1h-1zM12 8h1v1h-1zM12 7h1v1h-1zM11 6h1v1h-1zM10 5h1v1h-1zM1 4h1v1h-1zM9 4h1v1h-1zM2 3h1v1h-1zM8 3h1v1h-1zM3 2h1v1h-1zM6 2h1v1h-1zM7 2h1v1h-1z"/>
<path fill="#e0ecf8" d="M3 12h1v1h-1zM2 11h1v1h-1z"/>
<path fill="#ddeaf7" d="M4 12h1v1h-1zM2 10h1v1h-1z"/>
<path fill="#dceaf6" d="M5 12h1v1h-1zM2 9h1v1h-1z"/>
<path fill="#dfecf7" d="M6 12h1v1h-1zM8 10h1v1h-1zM8 9h1v1h-1zM2 8h1v1h-1zM7 7h1v1h-1zM4 6h1v1h-1zM5 6h1v1h-1z"/>
<path fill="#e3eef9" d="M7 12h1v1h-1zM2 7h1v1h-1z"/>
<path fill="#d9e7f5" d="M3 11h1v1h-1z"/>
<path fill="#d3e4f3" d="M4 11h1v1h-1zM5 11h1v1h-1zM3 10h1v1h-1zM3 9h1v1h-1z"/>
<path fill="#d6e6f4" d="M6 11h1v1h-1zM3 8h1v1h-1z"/>
<path fill="#dce9f6" d="M7 11h1v1h-1zM3 7h1v1h-1z"/>
<path fill="#e3eef8" d="M8 11h1v1h-1zM3 6h1v1h-1z"/>
<path fill="#cfe1f2" d="M4 10h1v1h-1z"/>
<path fill="#cee0f2" d="M5 10h1v1h-1zM4 9h1v1h-1z"/>
<path fill="#d2e3f3" d="M6 10h1v1h-1zM4 8h1v1h-1z"/>
<path fill="#d8e7f5" d="M7 10h1v1h-1zM7 9h1v1h-1zM4 7h1v1h-1zM5 7h1v1h-1z"/>
<path fill="#ebf3fb" d="M10 10h1v1h-1zM10 9h1v1h-1zM4 4h1v1h-1zM5 4h1v1h-1z"/>
<path fill="#cddff1" d="M5 9h1v1h-1z"/>
<path fill="#d1e2f3" d="M6 9h1v1h-1zM5 8h1v1h-1z"/>
<path fill="#e5eff9" d="M9 9h1v1h-1zM8 7h1v1h-1zM7 6h1v1h-1zM5 5h1v1h-1z"/>
<path fill="#d5e5f4" d="M6 8h1v1h-1z"/>
<path fill="#dae8f6" d="M7 8h1v1h-1zM6 7h1v1h-1z"/>
<path fill="#e1edf8" d="M8 8h1v1h-1zM6 6h1v1h-1z"/>
</g>
<path stroke="#000" stroke-width="1.5" d="M150.20 496.90h4.8M161.30 503.00v4.9M150.20 440.10h4.8M218.10 503.00v4.9M150.20 369.10h4.8M289.10 503.00v4.9M150.20 298.10h4.8M360.10 503.00v4.9"/>
<path fill="#654811" d="M235.42 413.61L241.02 422.21L235.42 430.81L229.82 422.21z"/>
<path fill="#654811" d="M260.70 390.80L267.35 403.00L254.05 403.00z"/>
<text transform="translate(103.00,397.50) rotate(-90) translate(-19.42,0.00) scale(1.400,1)" font-size="38.40" font-style="italic">n</text>
<text transform="translate(103.00,397.50) rotate(-90) translate(5.73,6.00)" font-size="29.00">2</text>
<text transform="translate(140.1,496.90) rotate(-90) translate(-5.08,0.00)" font-size="34.80">1</text>
<text transform="translate(140.1,440.10) rotate(-90) translate(-4.93,0.00)" font-size="34.80">5</text>
<text transform="translate(140.1,369.10) rotate(-90) translate(-20.87,0.00)" font-size="34.80">10</text>
<text transform="translate(140.1,298.10) rotate(-90) translate(-20.85,0.00)" font-size="34.80">15</text>
<g transform="translate(458.50,291.00) scale(14.20000)" shape-rendering="crispEdges">
<path fill="#e3eef8" d="M0 14h1v1h-1zM9 14h1v1h-1zM3 10h1v1h-1zM4 10h1v1h-1z"/>
<path fill="#c4daee" d="M1 14h1v1h-1zM7 14h1v1h-1zM6 13h1v1h-1z"/>
<path fill="#92c4de" d="M2 14h1v1h-1z"/>
<path fill="#69add5" d="M3 14h1v1h-1zM4 14h1v1h-1z"/>
<path fill="#7db8da" d="M5 14h1v1h-1z"/>
<path fill="#a5cde3" d="M6 14h1v1h-1z"/>
<path fill="#d9e7f5" d="M8 14h1v1h-1zM3 11h1v1h-1zM4 11h1v1h-1z"/>
<path fill="#eaf3fb" d="M10 14h1v1h-1z"/>
<path fill="#eef5fc" d="M11 14h1v1h-1zM10 13h1v1h-1zM0 12h1v1h-1zM9 12h1v1h-1zM8 11h1v1h-1zM2 9h1v1h-1zM5 9h1v1h-1z"/>
<path fill="#f2f7fd" d="M12 14h1v1h-1zM1 9h1v1h-1zM7 9h1v1h-1zM2 8h1v1h-1zM5 8h1v1h-1z"/>
<path fill="#f3f8fe" d="M13 14h1v1h-1zM12 13h1v1h-1zM10 11h1v1h-1zM8 9h1v1h-1zM1 8h1v1h-1zM7 8h1v1h-1zM2 7h1v1h-1zM5 7h1v1h-1zM6 7h1v1h-1zM3 6h1v1h-1zM4 6h1v1h-1zM5 6h1v1h-1z"/>
<path fill="#f5f9fe" d="M14 14h1v1h-1zM13 13h1v1h-1zM14 13h1v1h-1zM12 12h1v1h-1zM11 11h1v1h-1zM10 10h1v1h-1zM0 9h1v1h-1zM9 9h1v1h-1zM8 8h1v1h-1zM1 7h1v1h-1zM7 7h1v1h-1zM2 6h1v1h-1zM6 6h1v1h-1zM3 5h1v1h-1zM4 5h1v1h-1zM5 5h1v1h-1z"/>
<path fill="#e8f1fa" d="M0 13h1v1h-1zM9 13h1v1h-1zM8 12h1v1h-1zM6 10h1v1h-1z"/>
<path fill="#d3e3f3" d="M1 13h1v1h-1zM7 13h1v1h-1z"/>
<path fill="#b9d6ea" d="M2 13h1v1h-1z"/>
<path fill="#a1cbe2" d="M3 13h1v1h-1zM4 13h1v1h-1z"/>
<path fill="#add0e6" d="M5 13h1v1h-1z"/>
<path fill="#e1edf8" d="M8 13h1v1h-1zM6 11h1v1h-1z"/>
<path fill="#f1f7fd" d="M11 13h1v1h-1zM10 12h1v1h-1zM0 11h1v1h-1zM9 11h1v1h-1zM8 10h1v1h-1zM3 8h1v1h-1zM4 8h1v1h-1z"/>
<path fill="#deebf7" d="M1 12h1v1h-1zM7 12h1v1h-1zM2 11h1v1h-1z"/>
<path fill="#d1e2f3" d="M2 12h1v1h-1z"/>
<path fill="#c7dcef" d="M3 12h1v1h-1zM4 12h1v1h-1z"/>
<path fill="#ccdff1" d="M5 12h1v1h-1z"/>
<path fill="#d6e5f4" d="M6 12h1v1h-1z"/>
<path fill="#f2f8fd" d="M11 12h1v1h-1zM0 10h1v1h-1zM9 10h1v1h-1zM6 8h1v1h-1zM3 7h1v1h-1zM4 7h1v1h-1z"/>
<path fill="#f5fafe" d="M13 12h1v1h-1zM14 12h1v1h-1zM12 11h1v1h-1zM13 11h1v1h-1zM14 11h1v1h-1zM11 10h1v1h-1zM12 10h1v1h-1zM13 10h1v1h-1zM10 9h1v1h-1zM11 9h1v1h-1zM0 8h1v1h-1zM9 8h1v1h-1zM10 8h1v1h-1zM0 7h1v1h-1zM8 7h1v1h-1zM9 7h1v1h-1zM1 6h1v1h-1zM7 6h1v1h-1zM8 6h1v1h-1zM1 5h1v1h-1zM2 5h1v1h-1zM6 5h1v1h-1zM7 5h1v1h-1zM1 4h1v1h-1zM2 4h1v1h-1zM3 4h1v1h-1zM4 4h1v1h-1zM5 4h1v1h-1zM6 4h1v1h-1zM7 4h1v1h-1zM2 3h1v1h-1zM3 3h1v1h-1zM4 3h1v1h-1zM5 3h1v1h-1z"/>
<path fill="#e7f1fa" d="M1 11h1v1h-1zM7 11h1v1h-1z"/>
<path fill="#dce9f6" d="M5 11h1v1h-1z"/>
<path fill="#ecf4fb" d="M1 10h1v1h-1zM7 10h1v1h-1zM3 9h1v1h-1zM4 9h1v1h-1z"/>
<path fill="#e7f0fa" d="M2 10h1v1h-1z"/>
<path fill="#e4eff9" d="M5 10h1v1h-1z"/>
<path fill="#f6faff" d="M14 10h1v1h-1zM12 9h1v1h-1zM13 9h1v1h-1zM14 9h1v1h-1zM11 8h1v1h-1zM12 8h1v1h-1zM13 8h1v1h-1zM14 8h1v1h-1zM10 7h1v1h-1zM11 7h1v1h-1zM12 7h1v1h-1zM13 7h1v1h-1zM14 7h1v1h-1zM0 6h1v1h-1zM9 6h1v1h-1zM10 6h1v1h-1zM11 6h1v1h-1zM12 6h1v1h-1zM13 6h1v1h-1zM14 6h1v1h-1zM0 5h1v1h-1zM8 5h1v1h-1zM9 5h1v1h-1zM10 5h1v1h-1zM11 5h1v1h-1zM12 5h1v1h-1zM13 5h1v1h-1zM14 5h1v1h-1zM0 4h1v1h-1zM8 4h1v1h-1zM9 4h1v1h-1zM10 4h1v1h-1zM11 4h1v1h-1zM12 4h1v1h-1zM13 4h1v1h-1zM14 4h1v1h-1zM0 3h1v1h-1zM1 3h1v1h-1zM6 3h1v1h-1zM7 3h1v1h-1zM8 3h1v1h-1zM9 3h1v1h-1zM10 3h1v1h-1zM11 3h1v1h-1zM12 3h1v1h-1zM13 3h1v1h-1zM14 3h1v1h-1zM0 2h1v1h-1zM1 2h1v1h-1zM2 2h1v1h-1zM3 2h1v1h-1zM4 2h1v1h-1zM5 2h1v1h-1zM6 2h1v1h-1zM7 2h1v1h-1zM8 2h1v1h-1zM9 2h1v1h-1zM10 2h1v1h-1zM11 2h1v1h-1zM12 2h1v1h-1zM13 2h1v1h-1zM14 2h1v1h-1zM0 1h1v1h-1zM1 1h1v1h-1zM2 1h1v1h-1zM3 1h1v1h-1zM4 1h1v1h-1zM5 1h1v1h-1zM6 1h1v1h-1zM7 1h1v1h-1zM8 1h1v1h-1zM9 1h1v1h-1zM10 1h1v1h-1zM11 1h1v1h-1zM12 1h1v1h-1zM13 1h1v1h-1zM14 1h1v1h-1zM0 0h1v1h-1zM1 0h1v1h-1zM2 0h1v1h-1zM3 0h1v1h-1zM4 0h1v1h-1zM5 0h1v1h-1zM6 0h1v1h-1zM7 0h1v1h-1zM8 0h1v1h-1zM9 0h1v1h-1zM10 0h1v1h-1zM11 0h1v1h-1zM12 0h1v1h-1zM13 0h1v1h-1zM14 0h1v1h-1z"/>
<path fill="#eff6fc" d="M6 9h1v1h-1z"/>
</g>
<path stroke="#000" stroke-width="1.5" d="M454.50 496.90h4.8M465.60 503.00v4.9M454.50 440.10h4.8M522.40 503.00v4.9M454.50 369.10h4.8M593.40 503.00v4.9M454.50 298.10h4.8M664.40 503.00v4.9"/>
<path fill="#654811" d="M539.44 466.43L545.04 475.03L539.44 483.63L533.84 475.03z"/>
<path fill="#654811" d="M565.00 447.60L571.65 459.80L558.35 459.80z"/>
<text transform="translate(438.10,397.50) rotate(-90) translate(-19.42,0.00) scale(1.400,1)" font-size="38.40" font-style="italic">n</text>
<text transform="translate(438.10,397.50) rotate(-90) translate(4.45,6.00)" font-size="29.00">1</text>
<g transform="translate(763.50,291.00) scale(14.20000)" shape-rendering="crispEdges">
<path fill="#e3eef8" d="M0 14h1v1h-1zM9 14h1v1h-1zM3 10h1v1h-1zM4 10h1v1h-1z"/>
<path fill="#c4daee" d="M1 14h1v1h-1zM7 14h1v1h-1zM6 13h1v1h-1z"/>
<path fill="#92c4de" d="M2 14h1v1h-1z"/>
<path fill="#69add5" d="M3 14h1v1h-1zM4 14h1v1h-1z"/>
<path fill="#7db8da" d="M5 14h1v1h-1z"/>
<path fill="#a5cde3" d="M6 14h1v1h-1z"/>
<path fill="#d9e7f5" d="M8 14h1v1h-1zM3 11h1v1h-1zM4 11h1v1h-1z"/>
<path fill="#eaf3fb" d="M10 14h1v1h-1z"/>
<path fill="#eef5fc" d="M11 14h1v1h-1zM10 13h1v1h-1zM0 12h1v1h-1zM9 12h1v1h-1zM8 11h1v1h-1zM2 9h1v1h-1zM5 9h1v1h-1z"/>
<path fill="#f2f7fd" d="M12 14h1v1h-1zM1 9h1v1h-1zM7 9h1v1h-1zM2 8h1v1h-1zM5 8h1v1h-1z"/>
<path fill="#f3f8fe" d="M13 14h1v1h-1zM12 13h1v1h-1zM10 11h1v1h-1zM8 9h1v1h-1zM1 8h1v1h-1zM7 8h1v1h-1zM2 7h1v1h-1zM5 7h1v1h-1zM6 7h1v1h-1zM3 6h1v1h-1zM4 6h1v1h-1zM5 6h1v1h-1z"/>
<path fill="#f5f9fe" d="M14 14h1v1h-1zM13 13h1v1h-1zM14 13h1v1h-1zM12 12h1v1h-1zM11 11h1v1h-1zM10 10h1v1h-1zM0 9h1v1h-1zM9 9h1v1h-1zM8 8h1v1h-1zM1 7h1v1h-1zM7 7h1v1h-1zM2 6h1v1h-1zM6 6h1v1h-1zM3 5h1v1h-1zM4 5h1v1h-1zM5 5h1v1h-1z"/>
<path fill="#e8f1fa" d="M0 13h1v1h-1zM9 13h1v1h-1zM8 12h1v1h-1zM6 10h1v1h-1z"/>
<path fill="#d3e3f3" d="M1 13h1v1h-1zM7 13h1v1h-1z"/>
<path fill="#b9d6ea" d="M2 13h1v1h-1z"/>
<path fill="#a1cbe2" d="M3 13h1v1h-1zM4 13h1v1h-1z"/>
<path fill="#add0e6" d="M5 13h1v1h-1z"/>
<path fill="#e1edf8" d="M8 13h1v1h-1zM6 11h1v1h-1z"/>
<path fill="#f1f7fd" d="M11 13h1v1h-1zM10 12h1v1h-1zM0 11h1v1h-1zM9 11h1v1h-1zM8 10h1v1h-1zM3 8h1v1h-1zM4 8h1v1h-1z"/>
<path fill="#deebf7" d="M1 12h1v1h-1zM7 12h1v1h-1zM2 11h1v1h-1z"/>
<path fill="#d1e2f3" d="M2 12h1v1h-1z"/>
<path fill="#c7dcef" d="M3 12h1v1h-1zM4 12h1v1h-1z"/>
<path fill="#ccdff1" d="M5 12h1v1h-1z"/>
<path fill="#d6e5f4" d="M6 12h1v1h-1z"/>
<path fill="#f2f8fd" d="M11 12h1v1h-1zM0 10h1v1h-1zM9 10h1v1h-1zM6 8h1v1h-1zM3 7h1v1h-1zM4 7h1v1h-1z"/>
<path fill="#f5fafe" d="M13 12h1v1h-1zM14 12h1v1h-1zM12 11h1v1h-1zM13 11h1v1h-1zM14 11h1v1h-1zM11 10h1v1h-1zM12 10h1v1h-1zM13 10h1v1h-1zM10 9h1v1h-1zM11 9h1v1h-1zM0 8h1v1h-1zM9 8h1v1h-1zM10 8h1v1h-1zM0 7h1v1h-1zM8 7h1v1h-1zM9 7h1v1h-1zM1 6h1v1h-1zM7 6h1v1h-1zM8 6h1v1h-1zM1 5h1v1h-1zM2 5h1v1h-1zM6 5h1v1h-1zM7 5h1v1h-1zM1 4h1v1h-1zM2 4h1v1h-1zM3 4h1v1h-1zM4 4h1v1h-1zM5 4h1v1h-1zM6 4h1v1h-1zM7 4h1v1h-1zM2 3h1v1h-1zM3 3h1v1h-1zM4 3h1v1h-1zM5 3h1v1h-1z"/>
<path fill="#e7f1fa" d="M1 11h1v1h-1zM7 11h1v1h-1z"/>
<path fill="#dce9f6" d="M5 11h1v1h-1z"/>
<path fill="#ecf4fb" d="M1 10h1v1h-1zM7 10h1v1h-1zM3 9h1v1h-1zM4 9h1v1h-1z"/>
<path fill="#e7f0fa" d="M2 10h1v1h-1z"/>
<path fill="#e4eff9" d="M5 10h1v1h-1z"/>
<path fill="#f6faff" d="M14 10h1v1h-1zM12 9h1v1h-1zM13 9h1v1h-1zM14 9h1v1h-1zM11 8h1v1h-1zM12 8h1v1h-1zM13 8h1v1h-1zM14 8h1v1h-1zM10 7h1v1h-1zM11 7h1v1h-1zM12 7h1v1h-1zM13 7h1v1h-1zM14 7h1v1h-1zM0 6h1v1h-1zM9 6h1v1h-1zM10 6h1v1h-1zM11 6h1v1h-1zM12 6h1v1h-1zM13 6h1v1h-1zM14 6h1v1h-1zM0 5h1v1h-1zM8 5h1v1h-1zM9 5h1v1h-1zM10 5h1v1h-1zM11 5h1v1h-1zM12 5h1v1h-1zM13 5h1v1h-1zM14 5h1v1h-1zM0 4h1v1h-1zM8 4h1v1h-1zM9 4h1v1h-1zM10 4h1v1h-1zM11 4h1v1h-1zM12 4h1v1h-1zM13 4h1v1h-1zM14 4h1v1h-1zM0 3h1v1h-1zM1 3h1v1h-1zM6 3h1v1h-1zM7 3h1v1h-1zM8 3h1v1h-1zM9 3h1v1h-1zM10 3h1v1h-1zM11 3h1v1h-1zM12 3h1v1h-1zM13 3h1v1h-1zM14 3h1v1h-1zM0 2h1v1h-1zM1 2h1v1h-1zM2 2h1v1h-1zM3 2h1v1h-1zM4 2h1v1h-1zM5 2h1v1h-1zM6 2h1v1h-1zM7 2h1v1h-1zM8 2h1v1h-1zM9 2h1v1h-1zM10 2h1v1h-1zM11 2h1v1h-1zM12 2h1v1h-1zM13 2h1v1h-1zM14 2h1v1h-1zM0 1h1v1h-1zM1 1h1v1h-1zM2 1h1v1h-1zM3 1h1v1h-1zM4 1h1v1h-1zM5 1h1v1h-1zM6 1h1v1h-1zM7 1h1v1h-1zM8 1h1v1h-1zM9 1h1v1h-1zM10 1h1v1h-1zM11 1h1v1h-1zM12 1h1v1h-1zM13 1h1v1h-1zM14 1h1v1h-1zM0 0h1v1h-1zM1 0h1v1h-1zM2 0h1v1h-1zM3 0h1v1h-1zM4 0h1v1h-1zM5 0h1v1h-1zM6 0h1v1h-1zM7 0h1v1h-1zM8 0h1v1h-1zM9 0h1v1h-1zM10 0h1v1h-1zM11 0h1v1h-1zM12 0h1v1h-1zM13 0h1v1h-1zM14 0h1v1h-1z"/>
<path fill="#eff6fc" d="M6 9h1v1h-1z"/>
</g>
<path stroke="#000" stroke-width="1.5" d="M759.50 496.90h4.8M770.60 503.00v4.9M759.50 440.10h4.8M827.40 503.00v4.9M759.50 369.10h4.8M898.40 503.00v4.9M759.50 298.10h4.8M969.40 503.00v4.9"/>
<path fill="#654811" d="M844.44 466.43L850.04 475.03L844.44 483.63L838.84 475.03z"/>
<path fill="#654811" d="M870.00 447.60L876.65 459.80L863.35 459.80z"/>
<text transform="translate(743.10,397.50) rotate(-90) translate(-19.42,0.00) scale(1.400,1)" font-size="38.40" font-style="italic">n</text>
<text transform="translate(743.10,397.50) rotate(-90) translate(4.45,6.00)" font-size="29.00">1</text>
<rect x="1067.20" y="300.70" width="247.93" height="55.2" fill="#e5471a"/>
<rect x="1067.20" y="369.90" width="10.77" height="55.2" fill="#7bff78"/>
<rect x="1067.20" y="439.10" width="10.77" height="55.2" fill="#a493ff"/>
<path stroke="#000" stroke-width="1.5" fill="none" d="M1067.20 290.00V503.70H1337.10"/>
<path stroke="#000" stroke-width="1.4" d="M1063.00 328.30h4.2M1063.00 397.50h4.2M1063.00 466.70h4.2M1067.20 504.00v4.2M1201.80 504.00v4.2M1336.40 504.00v4.2"/>
<use href="#calU" x="1008" y="315.00"/>
<text x="1035.63" y="329.80" font-size="23.50">1</text>
<text transform="translate(1035.36,352.00) scale(1.170,1)" font-size="23.60" font-weight="bold">n</text>
<text x="1050.94" y="354.70" font-size="17.30">0</text>
<use href="#calU" x="1008" y="384.20"/>
<text x="1036.67" y="399.00" font-size="23.50">2</text>
<text transform="translate(1035.36,421.20) scale(1.170,1)" font-size="23.60" font-weight="bold">n</text>
<text x="1050.94" y="423.90" font-size="17.30">0</text>
<use href="#calU" x="1008" y="453.40"/>
<text x="1036.58" y="468.20" font-size="23.50">3</text>
<text transform="translate(1035.36,490.40) scale(1.170,1)" font-size="23.60" font-weight="bold">n</text>
<text x="1050.94" y="493.10" font-size="17.30">0</text>
<text x="1045.45" y="535.30" font-size="34.80">0.0</text>
<text x="1180.07" y="535.30" font-size="34.80">0.5</text>
<text x="1313.78" y="535.30" font-size="34.80">1.0</text>
<text transform="translate(-0.27,302.86) scale(0.909,1)" font-size="51.83">(</text>
<text transform="translate(17.14,302.35) scale(1.121,1)" font-size="45.93" font-weight="bold">a</text>
<text transform="translate(43.38,302.86) scale(0.909,1)" font-size="51.83">)</text>
<g transform="translate(154.20,636.00) scale(14.20000)" shape-rendering="crispEdges">
<path fill="#f1faee" d="M0 14h1v1h-1zM8 14h1v1h-1zM11 11h1v1h-1zM11 10h1v1h-1zM10 8h1v1h-1zM0 6h1v1h-1zM6 4h1v1h-1zM3 3h1v1h-1zM4 3h1v1h-1z"/>
<path fill="#ecf8e8" d="M1 14h1v1h-1zM7 14h1v1h-1zM0 13h1v1h-1zM0 7h1v1h-1z"/>
<path fill="#e5f5e0" d="M2 14h1v1h-1zM0 12h1v1h-1z"/>
<path fill="#ddf2d8" d="M3 14h1v1h-1zM4 14h1v1h-1zM0 11h1v1h-1zM0 10h1v1h-1zM8 9h1v1h-1zM5 6h1v1h-1z"/>
<path fill="#e3f4de" d="M5 14h1v1h-1zM0 9h1v1h-1z"/>
<path fill="#e8f6e4" d="M6 14h1v1h-1zM0 8h1v1h-1z"/>
<path fill="#f3faf0" d="M9 14h1v1h-1zM12 11h1v1h-1zM12 10h1v1h-1zM11 8h1v1h-1zM10 7h1v1h-1zM0 5h1v1h-1zM7 4h1v1h-1zM6 3h1v1h-1zM3 2h1v1h-1zM4 2h1v1h-1z"/>
<path fill="#f4fbf2" d="M10 14h1v1h-1zM13 12h1v1h-1zM13 9h1v1h-1zM12 8h1v1h-1zM11 7h1v1h-1zM10 6h1v1h-1zM9 5h1v1h-1zM0 4h1v1h-1zM8 4h1v1h-1zM7 3h1v1h-1zM6 2h1v1h-1zM2 1h1v1h-1zM5 1h1v1h-1z"/>
<path fill="#f5fbf3" d="M11 14h1v1h-1zM12 13h1v1h-1zM13 13h1v1h-1zM14 12h1v1h-1zM14 11h1v1h-1zM14 10h1v1h-1zM14 9h1v1h-1zM13 8h1v1h-1zM12 7h1v1h-1zM11 6h1v1h-1zM10 5h1v1h-1zM9 4h1v1h-1zM0 3h1v1h-1zM8 3h1v1h-1zM1 2h1v1h-1zM7 2h1v1h-1zM1 1h1v1h-1zM6 1h1v1h-1zM2 0h1v1h-1zM3 0h1v1h-1zM4 0h1v1h-1zM5 0h1v1h-1z"/>
<path fill="#f6fcf4" d="M12 14h1v1h-1zM13 14h1v1h-1zM14 14h1v1h-1zM14 13h1v1h-1zM14 8h1v1h-1zM13 7h1v1h-1zM14 7h1v1h-1zM12 6h1v1h-1zM13 6h1v1h-1zM14 6h1v1h-1zM11 5h1v1h-1zM12 5h1v1h-1zM13 5h1v1h-1zM14 5h1v1h-1zM10 4h1v1h-1zM11 4h1v1h-1zM12 4h1v1h-1zM13 4h1v1h-1zM14 4h1v1h-1zM9 3h1v1h-1zM10 3h1v1h-1zM11 3h1v1h-1zM12 3h1v1h-1zM13 3h1v1h-1zM14 3h1v1h-1zM0 2h1v1h-1zM8 2h1v1h-1zM9 2h1v1h-1zM10 2h1v1h-1zM11 2h1v1h-1zM12 2h1v1h-1zM13 2h1v1h-1zM14 2h1v1h-1zM0 1h1v1h-1zM7 1h1v1h-1zM8 1h1v1h-1zM9 1h1v1h-1zM10 1h1v1h-1zM11 1h1v1h-1zM12 1h1v1h-1zM13 1h1v1h-1zM14 1h1v1h-1zM0 0h1v1h-1zM1 0h1v1h-1zM6 0h1v1h-1zM7 0h1v1h-1zM8 0h1v1h-1zM9 0h1v1h-1zM10 0h1v1h-1zM11 0h1v1h-1zM12 0h1v1h-1zM13 0h1v1h-1zM14 0h1v1h-1z"/>
<path fill="#dbf1d5" d="M1 13h1v1h-1z"/>
<path fill="#c4e8bd" d="M2 13h1v1h-1zM1 12h1v1h-1z"/>
<path fill="#aedea7" d="M3 13h1v1h-1zM4 13h1v1h-1zM1 11h1v1h-1zM1 10h1v1h-1z"/>
<path fill="#bee5b8" d="M5 13h1v1h-1zM1 9h1v1h-1z"/>
<path fill="#cfecc9" d="M6 13h1v1h-1zM1 8h1v1h-1z"/>
<path fill="#dff3da" d="M7 13h1v1h-1zM1 7h1v1h-1z"/>
<path fill="#e9f7e5" d="M8 13h1v1h-1zM1 6h1v1h-1z"/>
<path fill="#eff9ec" d="M9 13h1v1h-1zM10 12h1v1h-1zM8 6h1v1h-1zM1 5h1v1h-1zM2 4h1v1h-1z"/>
<path fill="#f2faf0" d="M10 13h1v1h-1zM11 12h1v1h-1zM11 9h1v1h-1zM9 6h1v1h-1zM8 5h1v1h-1zM1 4h1v1h-1zM2 3h1v1h-1zM5 3h1v1h-1z"/>
<path fill="#f4fbf1" d="M11 13h1v1h-1zM12 12h1v1h-1zM13 11h1v1h-1zM13 10h1v1h-1zM12 9h1v1h-1zM1 3h1v1h-1zM2 2h1v1h-1zM5 2h1v1h-1zM3 1h1v1h-1zM4 1h1v1h-1z"/>
<path fill="#97d492" d="M2 12h1v1h-1z"/>
<path fill="#6bc072" d="M3 12h1v1h-1zM4 12h1v1h-1zM2 11h1v1h-1zM2 10h1v1h-1z"/>
<path fill="#8bcf89" d="M5 12h1v1h-1zM2 9h1v1h-1z"/>
<path fill="#afdfa8" d="M6 12h1v1h-1zM2 8h1v1h-1z"/>
<path fill="#ccebc6" d="M7 12h1v1h-1zM2 7h1v1h-1z"/>
<path fill="#e0f3db" d="M8 12h1v1h-1zM2 6h1v1h-1z"/>
<path fill="#ebf7e7" d="M9 12h1v1h-1zM8 7h1v1h-1zM7 6h1v1h-1zM2 5h1v1h-1z"/>
<path fill="#37a055" d="M3 11h1v1h-1zM4 11h1v1h-1zM3 10h1v1h-1zM4 10h1v1h-1z"/>
<path fill="#5db96b" d="M5 11h1v1h-1zM5 10h1v1h-1zM3 9h1v1h-1zM4 9h1v1h-1z"/>
<path fill="#90d18d" d="M6 11h1v1h-1zM6 10h1v1h-1zM3 8h1v1h-1zM4 8h1v1h-1z"/>
<path fill="#bae3b3" d="M7 11h1v1h-1zM7 10h1v1h-1zM3 7h1v1h-1zM4 7h1v1h-1z"/>
<path fill="#d6efd0" d="M8 11h1v1h-1zM8 10h1v1h-1zM7 8h1v1h-1zM6 7h1v1h-1zM3 6h1v1h-1zM4 6h1v1h-1z"/>
<path fill="#e7f6e3" d="M9 11h1v1h-1zM9 10h1v1h-1zM3 5h1v1h-1zM4 5h1v1h-1z"/>
<path fill="#edf8ea" d="M10 11h1v1h-1zM10 10h1v1h-1zM9 8h1v1h-1zM6 5h1v1h-1zM3 4h1v1h-1zM4 4h1v1h-1z"/>
<path fill="#7fc97f" d="M5 9h1v1h-1z"/>
<path fill="#a5db9f" d="M6 9h1v1h-1zM5 8h1v1h-1z"/>
<path fill="#c9eac2" d="M7 9h1v1h-1zM5 7h1v1h-1z"/>
<path fill="#eaf7e6" d="M9 9h1v1h-1zM5 5h1v1h-1z"/>
<path fill="#eff9eb" d="M10 9h1v1h-1zM5 4h1v1h-1z"/>
<path fill="#c0e6b9" d="M6 8h1v1h-1z"/>
<path fill="#e6f5e1" d="M8 8h1v1h-1zM6 6h1v1h-1z"/>
<path fill="#e4f5df" d="M7 7h1v1h-1z"/>
<path fill="#f0f9ed" d="M9 7h1v1h-1zM7 5h1v1h-1z"/>
</g>
<path stroke="#000" stroke-width="1.5" d="M150.20 841.90h4.8M161.30 848.00v4.9M150.20 785.10h4.8M218.10 848.00v4.9M150.20 714.10h4.8M289.10 848.00v4.9M150.20 643.10h4.8M360.10 848.00v4.9"/>
<path fill="#13321a" d="M223.35 770.25L228.95 778.85L223.35 787.45L217.75 778.85z"/>
<path fill="#13321a" d="M260.70 735.80L267.35 748.00L254.05 748.00z"/>
<text transform="translate(103.00,742.50) rotate(-90) translate(-19.42,0.00) scale(1.400,1)" font-size="38.40" font-style="italic">n</text>
<text transform="translate(103.00,742.50) rotate(-90) translate(5.73,6.00)" font-size="29.00">2</text>
<text transform="translate(140.1,841.90) rotate(-90) translate(-5.08,0.00)" font-size="34.80">1</text>
<text transform="translate(140.1,785.10) rotate(-90) translate(-4.93,0.00)" font-size="34.80">5</text>
<text transform="translate(140.1,714.10) rotate(-90) translate(-20.87,0.00)" font-size="34.80">10</text>
<text transform="translate(140.1,643.10) rotate(-90) translate(-20.85,0.00)" font-size="34.80">15</text>
<g transform="translate(458.50,636.00) scale(14.20000)" shape-rendering="crispEdges">
<path fill="#ecf8e8" d="M0 14h1v1h-1zM10 12h1v1h-1zM7 7h1v1h-1zM3 6h1v1h-1zM4 6h1v1h-1zM5 6h1v1h-1z"/>
<path fill="#d2edcc" d="M1 14h1v1h-1z"/>
<path fill="#b2e0ac" d="M2 14h1v1h-1z"/>
<path fill="#a0d99b" d="M3 14h1v1h-1zM4 14h1v1h-1z"/>
<path fill="#aedea7" d="M5 14h1v1h-1z"/>
<path fill="#c3e7bc" d="M6 14h1v1h-1z"/>
<path fill="#d8f0d2" d="M7 14h1v1h-1z"/>
<path fill="#e7f6e2" d="M8 14h1v1h-1zM9 13h1v1h-1z"/>
<path fill="#eff9eb" d="M9 14h1v1h-1zM0 8h1v1h-1zM6 6h1v1h-1z"/>
<path fill="#f2faf0" d="M10 14h1v1h-1zM11 10h1v1h-1zM0 7h1v1h-1zM6 5h1v1h-1z"/>
<path fill="#f4fbf2" d="M11 14h1v1h-1zM13 13h1v1h-1zM14 12h1v1h-1zM13 11h1v1h-1zM14 11h1v1h-1zM13 10h1v1h-1zM12 9h1v1h-1zM0 6h1v1h-1zM1 4h1v1h-1zM6 4h1v1h-1zM2 3h1v1h-1zM5 3h1v1h-1zM3 2h1v1h-1zM4 2h1v1h-1z"/>
<path fill="#f5fbf3" d="M12 14h1v1h-1zM14 13h1v1h-1zM14 10h1v1h-1zM13 9h1v1h-1zM11 8h1v1h-1zM10 7h1v1h-1zM9 6h1v1h-1zM0 5h1v1h-1zM8 5h1v1h-1zM7 4h1v1h-1zM1 3h1v1h-1zM6 3h1v1h-1zM2 2h1v1h-1zM5 2h1v1h-1zM6 2h1v1h-1zM2 1h1v1h-1zM3 1h1v1h-1zM4 1h1v1h-1zM5 1h1v1h-1z"/>
<path fill="#f6fcf4" d="M13 14h1v1h-1zM14 14h1v1h-1zM14 9h1v1h-1zM12 8h1v1h-1zM13 8h1v1h-1zM14 8h1v1h-1zM11 7h1v1h-1zM12 7h1v1h-1zM13 7h1v1h-1zM14 7h1v1h-1zM10 6h1v1h-1zM11 6h1v1h-1zM12 6h1v1h-1zM13 6h1v1h-1zM14 6h1v1h-1zM9 5h1v1h-1zM10 5h1v1h-1zM11 5h1v1h-1zM12 5h1v1h-1zM13 5h1v1h-1zM14 5h1v1h-1zM0 4h1v1h-1zM8 4h1v1h-1zM9 4h1v1h-1zM10 4h1v1h-1zM11 4h1v1h-1zM12 4h1v1h-1zM13 4h1v1h-1zM14 4h1v1h-1zM0 3h1v1h-1zM7 3h1v1h-1zM8 3h1v1h-1zM9 3h1v1h-1zM10 3h1v1h-1zM11 3h1v1h-1zM12 3h1v1h-1zM13 3h1v1h-1zM14 3h1v1h-1zM0 2h1v1h-1zM1 2h1v1h-1zM7 2h1v1h-1zM8 2h1v1h-1zM9 2h1v1h-1zM10 2h1v1h-1zM11 2h1v1h-1zM12 2h1v1h-1zM13 2h1v1h-1zM14 2h1v1h-1zM0 1h1v1h-1zM1 1h1v1h-1zM6 1h1v1h-1zM7 1h1v1h-1zM8 1h1v1h-1zM9 1h1v1h-1zM10 1h1v1h-1zM11 1h1v1h-1zM12 1h1v1h-1zM13 1h1v1h-1zM14 1h1v1h-1zM0 0h1v1h-1zM1 0h1v1h-1zM2 0h1v1h-1zM3 0h1v1h-1zM4 0h1v1h-1zM5 0h1v1h-1zM6 0h1v1h-1zM7 0h1v1h-1zM8 0h1v1h-1zM9 0h1v1h-1zM10 0h1v1h-1zM11 0h1v1h-1zM12 0h1v1h-1zM13 0h1v1h-1zM14 0h1v1h-1z"/>
<path fill="#dff3da" d="M0 13h1v1h-1zM1 8h1v1h-1z"/>
<path fill="#9ed798" d="M1 13h1v1h-1zM5 9h1v1h-1z"/>
<path fill="#46ae60" d="M2 13h1v1h-1z"/>
<path fill="#2e964d" d="M3 13h1v1h-1zM4 13h1v1h-1zM5 12h1v1h-1z"/>
<path fill="#3fa95c" d="M5 13h1v1h-1z"/>
<path fill="#76c578" d="M6 13h1v1h-1z"/>
<path fill="#abdda5" d="M7 13h1v1h-1z"/>
<path fill="#cfecc9" d="M8 13h1v1h-1z"/>
<path fill="#eef8ea" d="M10 13h1v1h-1z"/>
<path fill="#f1faee" d="M11 13h1v1h-1zM11 12h1v1h-1zM11 11h1v1h-1zM10 9h1v1h-1zM9 8h1v1h-1zM1 6h1v1h-1zM7 6h1v1h-1zM2 5h1v1h-1zM5 5h1v1h-1z"/>
<path fill="#f3faf0" d="M12 13h1v1h-1zM12 12h1v1h-1zM12 11h1v1h-1zM1 5h1v1h-1zM3 4h1v1h-1zM4 4h1v1h-1zM5 4h1v1h-1z"/>
<path fill="#dbf1d5" d="M0 12h1v1h-1z"/>
<path fill="#8dd08a" d="M1 12h1v1h-1zM3 9h1v1h-1zM4 9h1v1h-1z"/>
<path fill="#339c52" d="M2 12h1v1h-1z"/>
<path fill="#16803c" d="M3 12h1v1h-1zM4 12h1v1h-1z"/>
<path fill="#5db96b" d="M6 12h1v1h-1z"/>
<path fill="#9fd899" d="M7 12h1v1h-1z"/>
<path fill="#caeac3" d="M8 12h1v1h-1zM5 8h1v1h-1z"/>
<path fill="#e4f5df" d="M9 12h1v1h-1zM0 10h1v1h-1zM8 9h1v1h-1zM7 8h1v1h-1zM2 7h1v1h-1z"/>
<path fill="#f4fbf1" d="M13 12h1v1h-1zM12 10h1v1h-1zM11 9h1v1h-1zM10 8h1v1h-1zM9 7h1v1h-1zM8 6h1v1h-1zM7 5h1v1h-1zM2 4h1v1h-1zM3 3h1v1h-1zM4 3h1v1h-1z"/>
<path fill="#ddf2d8" d="M0 11h1v1h-1z"/>
<path fill="#97d492" d="M1 11h1v1h-1z"/>
<path fill="#3ea75a" d="M2 11h1v1h-1z"/>
<path fill="#248c46" d="M3 11h1v1h-1zM4 11h1v1h-1z"/>
<path fill="#37a055" d="M5 11h1v1h-1z"/>
<path fill="#6abf71" d="M6 11h1v1h-1z"/>
<path fill="#a5db9f" d="M7 11h1v1h-1z"/>
<path fill="#cdecc7" d="M8 11h1v1h-1z"/>
<path fill="#e6f5e1" d="M9 11h1v1h-1z"/>
<path fill="#edf8ea" d="M10 11h1v1h-1zM9 9h1v1h-1zM2 6h1v1h-1z"/>
<path fill="#b0dfaa" d="M1 10h1v1h-1z"/>
<path fill="#6bc072" d="M2 10h1v1h-1z"/>
<path fill="#4aaf61" d="M3 10h1v1h-1zM4 10h1v1h-1z"/>
<path fill="#66bd6f" d="M5 10h1v1h-1z"/>
<path fill="#90d18d" d="M6 10h1v1h-1z"/>
<path fill="#bbe4b4" d="M7 10h1v1h-1z"/>
<path fill="#d7efd1" d="M8 10h1v1h-1z"/>
<path fill="#e9f7e5" d="M9 10h1v1h-1zM0 9h1v1h-1z"/>
<path fill="#eff9ec" d="M10 10h1v1h-1z"/>
<path fill="#cbeac4" d="M1 9h1v1h-1zM2 8h1v1h-1z"/>
<path fill="#a3da9d" d="M2 9h1v1h-1z"/>
<path fill="#b8e3b2" d="M6 9h1v1h-1z"/>
<path fill="#d1edcb" d="M7 9h1v1h-1z"/>
<path fill="#c1e6ba" d="M3 8h1v1h-1zM4 8h1v1h-1z"/>
<path fill="#d6efd0" d="M6 8h1v1h-1z"/>
<path fill="#ebf7e7" d="M8 8h1v1h-1zM1 7h1v1h-1z"/>
<path fill="#def2d9" d="M3 7h1v1h-1zM4 7h1v1h-1z"/>
<path fill="#e3f4de" d="M5 7h1v1h-1z"/>
<path fill="#e7f6e3" d="M6 7h1v1h-1z"/>
<path fill="#f0f9ed" d="M8 7h1v1h-1zM3 5h1v1h-1zM4 5h1v1h-1z"/>
</g>
<path stroke="#000" stroke-width="1.5" d="M454.50 841.90h4.8M465.60 848.00v4.9M454.50 785.10h4.8M522.40 848.00v4.9M454.50 714.10h4.8M593.40 848.00v4.9M454.50 643.10h4.8M664.40 848.00v4.9"/>
<path fill="#13321a" d="M525.52 789.28L531.12 797.88L525.52 806.48L519.92 797.88z"/>
<path fill="#13321a" d="M565.00 792.60L571.65 804.80L558.35 804.80z"/>
<text transform="translate(438.10,742.50) rotate(-90) translate(-19.42,0.00) scale(1.400,1)" font-size="38.40" font-style="italic">n</text>
<text transform="translate(438.10,742.50) rotate(-90) translate(4.45,6.00)" font-size="29.00">1</text>
<g transform="translate(763.50,636.00) scale(14.20000)" shape-rendering="crispEdges">
<path fill="#ecf8e8" d="M0 14h1v1h-1zM10 12h1v1h-1zM7 7h1v1h-1zM3 6h1v1h-1zM4 6h1v1h-1zM5 6h1v1h-1z"/>
<path fill="#d2edcc" d="M1 14h1v1h-1z"/>
<path fill="#b2e0ac" d="M2 14h1v1h-1z"/>
<path fill="#a0d99b" d="M3 14h1v1h-1zM4 14h1v1h-1z"/>
<path fill="#aedea7" d="M5 14h1v1h-1z"/>
<path fill="#c3e7bc" d="M6 14h1v1h-1z"/>
<path fill="#d8f0d2" d="M7 14h1v1h-1z"/>
<path fill="#e7f6e2" d="M8 14h1v1h-1zM9 13h1v1h-1z"/>
<path fill="#eff9eb" d="M9 14h1v1h-1zM0 8h1v1h-1zM6 6h1v1h-1z"/>
<path fill="#f2faf0" d="M10 14h1v1h-1zM11 10h1v1h-1zM0 7h1v1h-1zM6 5h1v1h-1z"/>
<path fill="#f4fbf2" d="M11 14h1v1h-1zM13 13h1v1h-1zM14 12h1v1h-1zM13 11h1v1h-1zM14 11h1v1h-1zM13 10h1v1h-1zM12 9h1v1h-1zM0 6h1v1h-1zM1 4h1v1h-1zM6 4h1v1h-1zM2 3h1v1h-1zM5 3h1v1h-1zM3 2h1v1h-1zM4 2h1v1h-1z"/>
<path fill="#f5fbf3" d="M12 14h1v1h-1zM14 13h1v1h-1zM14 10h1v1h-1zM13 9h1v1h-1zM11 8h1v1h-1zM10 7h1v1h-1zM9 6h1v1h-1zM0 5h1v1h-1zM8 5h1v1h-1zM7 4h1v1h-1zM1 3h1v1h-1zM6 3h1v1h-1zM2 2h1v1h-1zM5 2h1v1h-1zM6 2h1v1h-1zM2 1h1v1h-1zM3 1h1v1h-1zM4 1h1v1h-1zM5 1h1v1h-1z"/>
<path fill="#f6fcf4" d="M13 14h1v1h-1zM14 14h1v1h-1zM14 9h1v1h-1zM12 8h1v1h-1zM13 8h1v1h-1zM14 8h1v1h-1zM11 7h1v1h-1zM12 7h1v1h-1zM13 7h1v1h-1zM14 7h1v1h-1zM10 6h1v1h-1zM11 6h1v1h-1zM12 6h1v1h-1zM13 6h1v1h-1zM14 6h1v1h-1zM9 5h1v1h-1zM10 5h1v1h-1zM11 5h1v1h-1zM12 5h1v1h-1zM13 5h1v1h-1zM14 5h1v1h-1zM0 4h1v1h-1zM8 4h1v1h-1zM9 4h1v1h-1zM10 4h1v1h-1zM11 4h1v1h-1zM12 4h1v1h-1zM13 4h1v1h-1zM14 4h1v1h-1zM0 3h1v1h-1zM7 3h1v1h-1zM8 3h1v1h-1zM9 3h1v1h-1zM10 3h1v1h-1zM11 3h1v1h-1zM12 3h1v1h-1zM13 3h1v1h-1zM14 3h1v1h-1zM0 2h1v1h-1zM1 2h1v1h-1zM7 2h1v1h-1zM8 2h1v1h-1zM9 2h1v1h-1zM10 2h1v1h-1zM11 2h1v1h-1zM12 2h1v1h-1zM13 2h1v1h-1zM14 2h1v1h-1zM0 1h1v1h-1zM1 1h1v1h-1zM6 1h1v1h-1zM7 1h1v1h-1zM8 1h1v1h-1zM9 1h1v1h-1zM10 1h1v1h-1zM11 1h1v1h-1zM12 1h1v1h-1zM13 1h1v1h-1zM14 1h1v1h-1zM0 0h1v1h-1zM1 0h1v1h-1zM2 0h1v1h-1zM3 0h1v1h-1zM4 0h1v1h-1zM5 0h1v1h-1zM6 0h1v1h-1zM7 0h1v1h-1zM8 0h1v1h-1zM9 0h1v1h-1zM10 0h1v1h-1zM11 0h1v1h-1zM12 0h1v1h-1zM13 0h1v1h-1zM14 0h1v1h-1z"/>
<path fill="#dff3da" d="M0 13h1v1h-1zM1 8h1v1h-1z"/>
<path fill="#9ed798" d="M1 13h1v1h-1zM5 9h1v1h-1z"/>
<path fill="#46ae60" d="M2 13h1v1h-1z"/>
<path fill="#2e964d" d="M3 13h1v1h-1zM4 13h1v1h-1zM5 12h1v1h-1z"/>
<path fill="#3fa95c" d="M5 13h1v1h-1z"/>
<path fill="#76c578" d="M6 13h1v1h-1z"/>
<path fill="#abdda5" d="M7 13h1v1h-1z"/>
<path fill="#cfecc9" d="M8 13h1v1h-1z"/>
<path fill="#eef8ea" d="M10 13h1v1h-1z"/>
<path fill="#f1faee" d="M11 13h1v1h-1zM11 12h1v1h-1zM11 11h1v1h-1zM10 9h1v1h-1zM9 8h1v1h-1zM1 6h1v1h-1zM7 6h1v1h-1zM2 5h1v1h-1zM5 5h1v1h-1z"/>
<path fill="#f3faf0" d="M12 13h1v1h-1zM12 12h1v1h-1zM12 11h1v1h-1zM1 5h1v1h-1zM3 4h1v1h-1zM4 4h1v1h-1zM5 4h1v1h-1z"/>
<path fill="#dbf1d5" d="M0 12h1v1h-1z"/>
<path fill="#8dd08a" d="M1 12h1v1h-1zM3 9h1v1h-1zM4 9h1v1h-1z"/>
<path fill="#339c52" d="M2 12h1v1h-1z"/>
<path fill="#16803c" d="M3 12h1v1h-1zM4 12h1v1h-1z"/>
<path fill="#5db96b" d="M6 12h1v1h-1z"/>
<path fill="#9fd899" d="M7 12h1v1h-1z"/>
<path fill="#caeac3" d="M8 12h1v1h-1zM5 8h1v1h-1z"/>
<path fill="#e4f5df" d="M9 12h1v1h-1zM0 10h1v1h-1zM8 9h1v1h-1zM7 8h1v1h-1zM2 7h1v1h-1z"/>
<path fill="#f4fbf1" d="M13 12h1v1h-1zM12 10h1v1h-1zM11 9h1v1h-1zM10 8h1v1h-1zM9 7h1v1h-1zM8 6h1v1h-1zM7 5h1v1h-1zM2 4h1v1h-1zM3 3h1v1h-1zM4 3h1v1h-1z"/>
<path fill="#ddf2d8" d="M0 11h1v1h-1z"/>
<path fill="#97d492" d="M1 11h1v1h-1z"/>
<path fill="#3ea75a" d="M2 11h1v1h-1z"/>
<path fill="#248c46" d="M3 11h1v1h-1zM4 11h1v1h-1z"/>
<path fill="#37a055" d="M5 11h1v1h-1z"/>
<path fill="#6abf71" d="M6 11h1v1h-1z"/>
<path fill="#a5db9f" d="M7 11h1v1h-1z"/>
<path fill="#cdecc7" d="M8 11h1v1h-1z"/>
<path fill="#e6f5e1" d="M9 11h1v1h-1z"/>
<path fill="#edf8ea" d="M10 11h1v1h-1zM9 9h1v1h-1zM2 6h1v1h-1z"/>
<path fill="#b0dfaa" d="M1 10h1v1h-1z"/>
<path fill="#6bc072" d="M2 10h1v1h-1z"/>
<path fill="#4aaf61" d="M3 10h1v1h-1zM4 10h1v1h-1z"/>
<path fill="#66bd6f" d="M5 10h1v1h-1z"/>
<path fill="#90d18d" d="M6 10h1v1h-1z"/>
<path fill="#bbe4b4" d="M7 10h1v1h-1z"/>
<path fill="#d7efd1" d="M8 10h1v1h-1z"/>
<path fill="#e9f7e5" d="M9 10h1v1h-1zM0 9h1v1h-1z"/>
<path fill="#eff9ec" d="M10 10h1v1h-1z"/>
<path fill="#cbeac4" d="M1 9h1v1h-1zM2 8h1v1h-1z"/>
<path fill="#a3da9d" d="M2 9h1v1h-1z"/>
<path fill="#b8e3b2" d="M6 9h1v1h-1z"/>
<path fill="#d1edcb" d="M7 9h1v1h-1z"/>
<path fill="#c1e6ba" d="M3 8h1v1h-1zM4 8h1v1h-1z"/>
<path fill="#d6efd0" d="M6 8h1v1h-1z"/>
<path fill="#ebf7e7" d="M8 8h1v1h-1zM1 7h1v1h-1z"/>
<path fill="#def2d9" d="M3 7h1v1h-1zM4 7h1v1h-1z"/>
<path fill="#e3f4de" d="M5 7h1v1h-1z"/>
<path fill="#e7f6e3" d="M6 7h1v1h-1z"/>
<path fill="#f0f9ed" d="M8 7h1v1h-1zM3 5h1v1h-1zM4 5h1v1h-1z"/>
</g>
<path stroke="#000" stroke-width="1.5" d="M759.50 841.90h4.8M770.60 848.00v4.9M759.50 785.10h4.8M827.40 848.00v4.9M759.50 714.10h4.8M898.40 848.00v4.9M759.50 643.10h4.8M969.40 848.00v4.9"/>
<path fill="#13321a" d="M830.52 789.28L836.12 797.88L830.52 806.48L824.92 797.88z"/>
<path fill="#13321a" d="M870.00 792.60L876.65 804.80L863.35 804.80z"/>
<text transform="translate(743.10,742.50) rotate(-90) translate(-19.42,0.00) scale(1.400,1)" font-size="38.40" font-style="italic">n</text>
<text transform="translate(743.10,742.50) rotate(-90) translate(4.45,6.00)" font-size="29.00">1</text>
<rect x="1067.20" y="645.70" width="155.60" height="55.2" fill="#e5471a"/>
<rect x="1067.20" y="714.90" width="57.07" height="55.2" fill="#7bff78"/>
<rect x="1067.20" y="784.10" width="57.07" height="55.2" fill="#a493ff"/>
<path stroke="#000" stroke-width="1.5" fill="none" d="M1067.20 635.00V848.70H1337.10"/>
<path stroke="#000" stroke-width="1.4" d="M1063.00 673.30h4.2M1063.00 742.50h4.2M1063.00 811.70h4.2M1067.20 849.00v4.2M1201.80 849.00v4.2M1336.40 849.00v4.2"/>
<use href="#calU" x="1008" y="660.00"/>
<text x="1035.63" y="674.80" font-size="23.50">1</text>
<text transform="translate(1035.36,697.00) scale(1.170,1)" font-size="23.60" font-weight="bold">n</text>
<text x="1050.94" y="699.70" font-size="17.30">0</text>
<use href="#calU" x="1008" y="729.20"/>
<text x="1036.67" y="744.00" font-size="23.50">2</text>
<text transform="translate(1035.36,766.20) scale(1.170,1)" font-size="23.60" font-weight="bold">n</text>
<text x="1050.94" y="768.90" font-size="17.30">0</text>
<use href="#calU" x="1008" y="798.40"/>
<text x="1036.58" y="813.20" font-size="23.50">3</text>
<text transform="translate(1035.36,835.40) scale(1.170,1)" font-size="23.60" font-weight="bold">n</text>
<text x="1050.94" y="838.10" font-size="17.30">0</text>
<g transform="translate(154.20,883.00) scale(14.20000)" shape-rendering="crispEdges">
<path fill="#f2f7fd" d="M0 14h1v1h-1zM10 13h1v1h-1zM11 12h1v1h-1zM11 9h1v1h-1zM9 6h1v1h-1zM8 5h1v1h-1zM1 4h1v1h-1zM2 3h1v1h-1zM5 3h1v1h-1z"/>
<path fill="#eef5fc" d="M1 14h1v1h-1zM7 14h1v1h-1zM0 13h1v1h-1zM10 11h1v1h-1zM10 10h1v1h-1zM9 8h1v1h-1zM0 7h1v1h-1zM8 7h1v1h-1zM7 6h1v1h-1zM6 5h1v1h-1zM3 4h1v1h-1zM4 4h1v1h-1z"/>
<path fill="#eaf2fb" d="M2 14h1v1h-1zM5 14h1v1h-1zM0 12h1v1h-1zM0 9h1v1h-1zM7 7h1v1h-1z"/>
<path fill="#e7f1fa" d="M3 14h1v1h-1zM4 14h1v1h-1zM8 12h1v1h-1zM0 11h1v1h-1zM0 10h1v1h-1zM8 9h1v1h-1zM2 6h1v1h-1zM5 6h1v1h-1z"/>
<path fill="#ebf3fb" d="M6 14h1v1h-1zM9 9h1v1h-1zM0 8h1v1h-1zM5 5h1v1h-1z"/>
<path fill="#f1f7fd" d="M8 14h1v1h-1zM11 11h1v1h-1zM11 10h1v1h-1zM10 8h1v1h-1zM0 6h1v1h-1zM6 4h1v1h-1zM3 3h1v1h-1zM4 3h1v1h-1z"/>
<path fill="#f2f8fd" d="M9 14h1v1h-1zM12 11h1v1h-1zM12 10h1v1h-1zM11 8h1v1h-1zM10 7h1v1h-1zM0 5h1v1h-1zM7 4h1v1h-1zM6 3h1v1h-1zM3 2h1v1h-1zM4 2h1v1h-1z"/>
<path fill="#f3f8fe" d="M10 14h1v1h-1zM11 13h1v1h-1zM12 12h1v1h-1zM12 9h1v1h-1zM12 8h1v1h-1zM11 7h1v1h-1zM10 6h1v1h-1zM9 5h1v1h-1zM0 4h1v1h-1zM8 4h1v1h-1zM1 3h1v1h-1zM7 3h1v1h-1zM2 2h1v1h-1zM5 2h1v1h-1zM6 2h1v1h-1z"/>
<path fill="#f5f9fe" d="M11 14h1v1h-1zM12 13h1v1h-1zM13 12h1v1h-1zM13 11h1v1h-1zM14 11h1v1h-1zM13 10h1v1h-1zM14 10h1v1h-1zM13 9h1v1h-1zM13 8h1v1h-1zM12 7h1v1h-1zM11 6h1v1h-1zM10 5h1v1h-1zM9 4h1v1h-1zM0 3h1v1h-1zM8 3h1v1h-1zM1 2h1v1h-1zM7 2h1v1h-1zM2 1h1v1h-1zM3 1h1v1h-1zM4 1h1v1h-1zM5 1h1v1h-1zM6 1h1v1h-1zM3 0h1v1h-1zM4 0h1v1h-1z"/>
<path fill="#f5fafe" d="M12 14h1v1h-1zM13 14h1v1h-1zM13 13h1v1h-1zM14 13h1v1h-1zM14 12h1v1h-1zM14 9h1v1h-1zM14 8h1v1h-1zM13 7h1v1h-1zM14 7h1v1h-1zM12 6h1v1h-1zM13 6h1v1h-1zM14 6h1v1h-1zM11 5h1v1h-1zM12 5h1v1h-1zM13 5h1v1h-1zM10 4h1v1h-1zM11 4h1v1h-1zM12 4h1v1h-1zM9 3h1v1h-1zM10 3h1v1h-1zM11 3h1v1h-1zM0 2h1v1h-1zM8 2h1v1h-1zM9 2h1v1h-1zM10 2h1v1h-1zM0 1h1v1h-1zM1 1h1v1h-1zM7 1h1v1h-1zM8 1h1v1h-1zM9 1h1v1h-1zM1 0h1v1h-1zM2 0h1v1h-1zM5 0h1v1h-1zM6 0h1v1h-1zM7 0h1v1h-1zM8 0h1v1h-1z"/>
<path fill="#f6faff" d="M14 14h1v1h-1zM14 5h1v1h-1zM13 4h1v1h-1zM14 4h1v1h-1zM12 3h1v1h-1zM13 3h1v1h-1zM14 3h1v1h-1zM11 2h1v1h-1zM12 2h1v1h-1zM13 2h1v1h-1zM14 2h1v1h-1zM10 1h1v1h-1zM11 1h1v1h-1zM12 1h1v1h-1zM13 1h1v1h-1zM14 1h1v1h-1zM0 0h1v1h-1zM9 0h1v1h-1zM10 0h1v1h-1zM11 0h1v1h-1zM12 0h1v1h-1zM13 0h1v1h-1zM14 0h1v1h-1z"/>
<path fill="#e7f0fa" d="M1 13h1v1h-1z"/>
<path fill="#e0ecf8" d="M2 13h1v1h-1zM1 12h1v1h-1z"/>
<path fill="#dceaf6" d="M3 13h1v1h-1zM4 13h1v1h-1zM1 11h1v1h-1zM1 10h1v1h-1z"/>
<path fill="#dfecf7" d="M5 13h1v1h-1zM1 9h1v1h-1zM6 8h1v1h-1z"/>
<path fill="#e3eef9" d="M6 13h1v1h-1zM1 8h1v1h-1z"/>
<path fill="#e8f1fa" d="M7 13h1v1h-1zM1 7h1v1h-1z"/>
<path fill="#ecf4fb" d="M8 13h1v1h-1zM9 12h1v1h-1zM1 6h1v1h-1zM2 5h1v1h-1z"/>
<path fill="#eff6fc" d="M9 13h1v1h-1zM10 12h1v1h-1zM10 9h1v1h-1zM9 7h1v1h-1zM8 6h1v1h-1zM1 5h1v1h-1zM7 5h1v1h-1zM2 4h1v1h-1zM5 4h1v1h-1z"/>
<path fill="#d6e6f4" d="M2 12h1v1h-1z"/>
<path fill="#d2e3f3" d="M3 12h1v1h-1zM4 12h1v1h-1zM2 11h1v1h-1zM2 10h1v1h-1z"/>
<path fill="#d6e5f4" d="M5 12h1v1h-1zM2 9h1v1h-1z"/>
<path fill="#dce9f6" d="M6 12h1v1h-1zM2 8h1v1h-1z"/>
<path fill="#e3eef8" d="M7 12h1v1h-1zM2 7h1v1h-1z"/>
<path fill="#cbdef1" d="M3 11h1v1h-1zM4 11h1v1h-1zM3 10h1v1h-1zM4 10h1v1h-1z"/>
<path fill="#d0e1f2" d="M5 11h1v1h-1zM5 10h1v1h-1zM3 9h1v1h-1zM4 9h1v1h-1z"/>
<path fill="#d8e7f5" d="M6 11h1v1h-1zM6 10h1v1h-1zM3 8h1v1h-1zM4 8h1v1h-1z"/>
<path fill="#deebf7" d="M7 11h1v1h-1zM7 10h1v1h-1zM3 7h1v1h-1zM4 7h1v1h-1z"/>
<path fill="#e5eff9" d="M8 11h1v1h-1zM8 10h1v1h-1zM7 8h1v1h-1zM6 7h1v1h-1zM3 6h1v1h-1zM4 6h1v1h-1z"/>
<path fill="#eaf3fb" d="M9 11h1v1h-1zM9 10h1v1h-1zM8 8h1v1h-1zM6 6h1v1h-1zM3 5h1v1h-1zM4 5h1v1h-1z"/>
<path fill="#d5e5f4" d="M5 9h1v1h-1z"/>
<path fill="#dae8f6" d="M6 9h1v1h-1zM5 8h1v1h-1z"/>
<path fill="#e1edf8" d="M7 9h1v1h-1zM5 7h1v1h-1z"/>
</g>
<path stroke="#000" stroke-width="1.5" d="M150.20 1088.90h4.8M161.30 1095.00v4.9M150.20 1032.10h4.8M218.10 1095.00v4.9M150.20 961.10h4.8M289.10 1095.00v4.9M150.20 890.10h4.8M360.10 1095.00v4.9"/>
<path fill="#654811" d="M225.91 1014.70L231.51 1023.30L225.91 1031.90L220.31 1023.30z"/>
<path fill="#654811" d="M260.70 982.80L267.35 995.00L254.05 995.00z"/>
<text transform="translate(103.00,989.50) rotate(-90) translate(-19.42,0.00) scale(1.400,1)" font-size="38.40" font-style="italic">n</text>
<text transform="translate(103.00,989.50) rotate(-90) translate(5.73,6.00)" font-size="29.00">2</text>
<text transform="translate(140.1,1088.90) rotate(-90) translate(-5.08,0.00)" font-size="34.80">1</text>
<text transform="translate(140.1,1032.10) rotate(-90) translate(-4.93,0.00)" font-size="34.80">5</text>
<text transform="translate(140.1,961.10) rotate(-90) translate(-20.87,0.00)" font-size="34.80">10</text>
<text transform="translate(140.1,890.10) rotate(-90) translate(-20.85,0.00)" font-size="34.80">15</text>
<g transform="translate(458.50,883.00) scale(14.20000)" shape-rendering="crispEdges">
<path fill="#e3eef8" d="M0 14h1v1h-1zM9 14h1v1h-1z"/>
<path fill="#bcd7eb" d="M1 14h1v1h-1zM7 14h1v1h-1z"/>
<path fill="#85bcdc" d="M2 14h1v1h-1z"/>
<path fill="#58a1cf" d="M3 14h1v1h-1z"/>
<path fill="#56a0ce" d="M4 14h1v1h-1z"/>
<path fill="#6aaed6" d="M5 14h1v1h-1z"/>
<path fill="#94c4df" d="M6 14h1v1h-1z"/>
<path fill="#d6e5f4" d="M8 14h1v1h-1z"/>
<path fill="#eaf3fb" d="M10 14h1v1h-1z"/>
<path fill="#eef5fc" d="M11 14h1v1h-1zM10 13h1v1h-1zM0 12h1v1h-1zM9 12h1v1h-1zM8 11h1v1h-1zM1 10h1v1h-1zM7 10h1v1h-1zM2 9h1v1h-1zM5 9h1v1h-1z"/>
<path fill="#f2f7fd" d="M12 14h1v1h-1zM11 13h1v1h-1zM10 12h1v1h-1zM0 11h1v1h-1zM9 11h1v1h-1zM8 10h1v1h-1zM1 9h1v1h-1zM7 9h1v1h-1zM2 8h1v1h-1zM5 8h1v1h-1z"/>
<path fill="#f2f8fd" d="M13 14h1v1h-1zM12 13h1v1h-1zM6 8h1v1h-1zM3 7h1v1h-1zM4 7h1v1h-1z"/>
<path fill="#f3f8fe" d="M14 14h1v1h-1zM11 12h1v1h-1zM10 11h1v1h-1zM0 10h1v1h-1zM9 10h1v1h-1zM8 9h1v1h-1zM1 8h1v1h-1zM7 8h1v1h-1zM2 7h1v1h-1zM5 7h1v1h-1zM6 7h1v1h-1zM3 6h1v1h-1zM4 6h1v1h-1z"/>
<path fill="#e8f1fa" d="M0 13h1v1h-1zM9 13h1v1h-1zM2 10h1v1h-1z"/>
<path fill="#d1e2f3" d="M1 13h1v1h-1zM7 13h1v1h-1z"/>
<path fill="#b8d5ea" d="M2 13h1v1h-1z"/>
<path fill="#9dcae1" d="M3 13h1v1h-1z"/>
<path fill="#9ac8e0" d="M4 13h1v1h-1z"/>
<path fill="#a8cee4" d="M5 13h1v1h-1z"/>
<path fill="#bed8ec" d="M6 13h1v1h-1z"/>
<path fill="#dfecf7" d="M8 13h1v1h-1zM2 11h1v1h-1z"/>
<path fill="#f5f9fe" d="M13 13h1v1h-1zM14 13h1v1h-1zM12 12h1v1h-1zM13 12h1v1h-1zM11 11h1v1h-1zM10 10h1v1h-1zM0 9h1v1h-1zM9 9h1v1h-1zM8 8h1v1h-1zM1 7h1v1h-1zM7 7h1v1h-1zM2 6h1v1h-1zM5 6h1v1h-1zM6 6h1v1h-1zM2 5h1v1h-1zM3 5h1v1h-1zM4 5h1v1h-1zM5 5h1v1h-1z"/>
<path fill="#ddeaf7" d="M1 12h1v1h-1zM7 12h1v1h-1z"/>
<path fill="#d0e1f2" d="M2 12h1v1h-1z"/>
<path fill="#c6dbef" d="M3 12h1v1h-1z"/>
<path fill="#c4daee" d="M4 12h1v1h-1z"/>
<path fill="#cadef0" d="M5 12h1v1h-1z"/>
<path fill="#d3e3f3" d="M6 12h1v1h-1z"/>
<path fill="#e7f1fa" d="M8 12h1v1h-1zM1 11h1v1h-1zM7 11h1v1h-1z"/>
<path fill="#f5fafe" d="M14 12h1v1h-1zM12 11h1v1h-1zM13 11h1v1h-1zM14 11h1v1h-1zM11 10h1v1h-1zM12 10h1v1h-1zM10 9h1v1h-1zM11 9h1v1h-1zM0 8h1v1h-1zM9 8h1v1h-1zM0 7h1v1h-1zM8 7h1v1h-1zM9 7h1v1h-1zM1 6h1v1h-1zM7 6h1v1h-1zM8 6h1v1h-1zM1 5h1v1h-1zM6 5h1v1h-1zM7 5h1v1h-1zM1 4h1v1h-1zM2 4h1v1h-1zM3 4h1v1h-1zM4 4h1v1h-1zM5 4h1v1h-1zM6 4h1v1h-1zM7 4h1v1h-1zM2 3h1v1h-1zM3 3h1v1h-1zM4 3h1v1h-1zM5 3h1v1h-1zM6 3h1v1h-1zM3 2h1v1h-1zM4 2h1v1h-1z"/>
<path fill="#d9e8f5" d="M3 11h1v1h-1z"/>
<path fill="#d9e7f5" d="M4 11h1v1h-1z"/>
<path fill="#dce9f6" d="M5 11h1v1h-1z"/>
<path fill="#e1edf8" d="M6 11h1v1h-1z"/>
<path fill="#e5eff9" d="M3 10h1v1h-1z"/>
<path fill="#e4eff9" d="M4 10h1v1h-1z"/>
<path fill="#e7f0fa" d="M5 10h1v1h-1z"/>
<path fill="#eaf2fb" d="M6 10h1v1h-1z"/>
<path fill="#f6faff" d="M13 10h1v1h-1zM14 10h1v1h-1zM12 9h1v1h-1zM13 9h1v1h-1zM14 9h1v1h-1zM10 8h1v1h-1zM11 8h1v1h-1zM12 8h1v1h-1zM13 8h1v1h-1zM14 8h1v1h-1zM10 7h1v1h-1zM11 7h1v1h-1zM12 7h1v1h-1zM13 7h1v1h-1zM14 7h1v1h-1zM0 6h1v1h-1zM9 6h1v1h-1zM10 6h1v1h-1zM11 6h1v1h-1zM12 6h1v1h-1zM13 6h1v1h-1zM14 6h1v1h-1zM0 5h1v1h-1zM8 5h1v1h-1zM9 5h1v1h-1zM10 5h1v1h-1zM11 5h1v1h-1zM12 5h1v1h-1zM13 5h1v1h-1zM14 5h1v1h-1zM0 4h1v1h-1zM8 4h1v1h-1zM9 4h1v1h-1zM10 4h1v1h-1zM11 4h1v1h-1zM12 4h1v1h-1zM13 4h1v1h-1zM14 4h1v1h-1zM0 3h1v1h-1zM1 3h1v1h-1zM7 3h1v1h-1zM8 3h1v1h-1zM9 3h1v1h-1zM10 3h1v1h-1zM11 3h1v1h-1zM12 3h1v1h-1zM13 3h1v1h-1zM14 3h1v1h-1zM0 2h1v1h-1zM1 2h1v1h-1zM2 2h1v1h-1zM5 2h1v1h-1zM6 2h1v1h-1zM7 2h1v1h-1zM8 2h1v1h-1zM9 2h1v1h-1zM10 2h1v1h-1zM11 2h1v1h-1zM12 2h1v1h-1zM13 2h1v1h-1zM14 2h1v1h-1zM0 1h1v1h-1zM1 1h1v1h-1zM2 1h1v1h-1zM3 1h1v1h-1zM4 1h1v1h-1zM5 1h1v1h-1zM6 1h1v1h-1zM7 1h1v1h-1zM8 1h1v1h-1zM9 1h1v1h-1zM10 1h1v1h-1zM11 1h1v1h-1zM12 1h1v1h-1zM13 1h1v1h-1zM14 1h1v1h-1zM0 0h1v1h-1zM1 0h1v1h-1zM2 0h1v1h-1zM3 0h1v1h-1zM4 0h1v1h-1zM5 0h1v1h-1zM6 0h1v1h-1zM7 0h1v1h-1zM8 0h1v1h-1zM9 0h1v1h-1zM10 0h1v1h-1zM11 0h1v1h-1zM12 0h1v1h-1zM13 0h1v1h-1zM14 0h1v1h-1z"/>
<path fill="#ecf4fb" d="M3 9h1v1h-1zM4 9h1v1h-1z"/>
<path fill="#eff6fc" d="M6 9h1v1h-1z"/>
<path fill="#f1f7fd" d="M3 8h1v1h-1zM4 8h1v1h-1z"/>
</g>
<path stroke="#000" stroke-width="1.5" d="M454.50 1088.90h4.8M465.60 1095.00v4.9M454.50 1032.10h4.8M522.40 1095.00v4.9M454.50 961.10h4.8M593.40 1095.00v4.9M454.50 890.10h4.8M664.40 1095.00v4.9"/>
<path fill="#654811" d="M529.07 1060.85L534.67 1069.45L529.07 1078.05L523.47 1069.45z"/>
<path fill="#654811" d="M565.00 1039.60L571.65 1051.80L558.35 1051.80z"/>
<text transform="translate(438.10,989.50) rotate(-90) translate(-19.42,0.00) scale(1.400,1)" font-size="38.40" font-style="italic">n</text>
<text transform="translate(438.10,989.50) rotate(-90) translate(4.45,6.00)" font-size="29.00">1</text>
<g transform="translate(763.50,883.00) scale(14.20000)" shape-rendering="crispEdges">
<path fill="#e3eef8" d="M0 14h1v1h-1zM9 14h1v1h-1z"/>
<path fill="#bcd7eb" d="M1 14h1v1h-1zM7 14h1v1h-1z"/>
<path fill="#85bcdc" d="M2 14h1v1h-1z"/>
<path fill="#58a1cf" d="M3 14h1v1h-1z"/>
<path fill="#56a0ce" d="M4 14h1v1h-1z"/>
<path fill="#6aaed6" d="M5 14h1v1h-1z"/>
<path fill="#94c4df" d="M6 14h1v1h-1z"/>
<path fill="#d6e5f4" d="M8 14h1v1h-1z"/>
<path fill="#eaf3fb" d="M10 14h1v1h-1z"/>
<path fill="#eef5fc" d="M11 14h1v1h-1zM10 13h1v1h-1zM0 12h1v1h-1zM9 12h1v1h-1zM8 11h1v1h-1zM1 10h1v1h-1zM7 10h1v1h-1zM2 9h1v1h-1zM5 9h1v1h-1z"/>
<path fill="#f2f7fd" d="M12 14h1v1h-1zM11 13h1v1h-1zM10 12h1v1h-1zM0 11h1v1h-1zM9 11h1v1h-1zM8 10h1v1h-1zM1 9h1v1h-1zM7 9h1v1h-1zM2 8h1v1h-1zM5 8h1v1h-1z"/>
<path fill="#f2f8fd" d="M13 14h1v1h-1zM12 13h1v1h-1zM6 8h1v1h-1zM3 7h1v1h-1zM4 7h1v1h-1z"/>
<path fill="#f3f8fe" d="M14 14h1v1h-1zM11 12h1v1h-1zM10 11h1v1h-1zM0 10h1v1h-1zM9 10h1v1h-1zM8 9h1v1h-1zM1 8h1v1h-1zM7 8h1v1h-1zM2 7h1v1h-1zM5 7h1v1h-1zM6 7h1v1h-1zM3 6h1v1h-1zM4 6h1v1h-1z"/>
<path fill="#e8f1fa" d="M0 13h1v1h-1zM9 13h1v1h-1zM2 10h1v1h-1z"/>
<path fill="#d1e2f3" d="M1 13h1v1h-1zM7 13h1v1h-1z"/>
<path fill="#b8d5ea" d="M2 13h1v1h-1z"/>
<path fill="#9dcae1" d="M3 13h1v1h-1z"/>
<path fill="#9ac8e0" d="M4 13h1v1h-1z"/>
<path fill="#a8cee4" d="M5 13h1v1h-1z"/>
<path fill="#bed8ec" d="M6 13h1v1h-1z"/>
<path fill="#dfecf7" d="M8 13h1v1h-1zM2 11h1v1h-1z"/>
<path fill="#f5f9fe" d="M13 13h1v1h-1zM14 13h1v1h-1zM12 12h1v1h-1zM13 12h1v1h-1zM11 11h1v1h-1zM10 10h1v1h-1zM0 9h1v1h-1zM9 9h1v1h-1zM8 8h1v1h-1zM1 7h1v1h-1zM7 7h1v1h-1zM2 6h1v1h-1zM5 6h1v1h-1zM6 6h1v1h-1zM2 5h1v1h-1zM3 5h1v1h-1zM4 5h1v1h-1zM5 5h1v1h-1z"/>
<path fill="#ddeaf7" d="M1 12h1v1h-1zM7 12h1v1h-1z"/>
<path fill="#d0e1f2" d="M2 12h1v1h-1z"/>
<path fill="#c6dbef" d="M3 12h1v1h-1z"/>
<path fill="#c4daee" d="M4 12h1v1h-1z"/>
<path fill="#cadef0" d="M5 12h1v1h-1z"/>
<path fill="#d3e3f3" d="M6 12h1v1h-1z"/>
<path fill="#e7f1fa" d="M8 12h1v1h-1zM1 11h1v1h-1zM7 11h1v1h-1z"/>
<path fill="#f5fafe" d="M14 12h1v1h-1zM12 11h1v1h-1zM13 11h1v1h-1zM14 11h1v1h-1zM11 10h1v1h-1zM12 10h1v1h-1zM10 9h1v1h-1zM11 9h1v1h-1zM0 8h1v1h-1zM9 8h1v1h-1zM0 7h1v1h-1zM8 7h1v1h-1zM9 7h1v1h-1zM1 6h1v1h-1zM7 6h1v1h-1zM8 6h1v1h-1zM1 5h1v1h-1zM6 5h1v1h-1zM7 5h1v1h-1zM1 4h1v1h-1zM2 4h1v1h-1zM3 4h1v1h-1zM4 4h1v1h-1zM5 4h1v1h-1zM6 4h1v1h-1zM7 4h1v1h-1zM2 3h1v1h-1zM3 3h1v1h-1zM4 3h1v1h-1zM5 3h1v1h-1zM6 3h1v1h-1zM3 2h1v1h-1zM4 2h1v1h-1z"/>
<path fill="#d9e8f5" d="M3 11h1v1h-1z"/>
<path fill="#d9e7f5" d="M4 11h1v1h-1z"/>
<path fill="#dce9f6" d="M5 11h1v1h-1z"/>
<path fill="#e1edf8" d="M6 11h1v1h-1z"/>
<path fill="#e5eff9" d="M3 10h1v1h-1z"/>
<path fill="#e4eff9" d="M4 10h1v1h-1z"/>
<path fill="#e7f0fa" d="M5 10h1v1h-1z"/>
<path fill="#eaf2fb" d="M6 10h1v1h-1z"/>
<path fill="#f6faff" d="M13 10h1v1h-1zM14 10h1v1h-1zM12 9h1v1h-1zM13 9h1v1h-1zM14 9h1v1h-1zM10 8h1v1h-1zM11 8h1v1h-1zM12 8h1v1h-1zM13 8h1v1h-1zM14 8h1v1h-1zM10 7h1v1h-1zM11 7h1v1h-1zM12 7h1v1h-1zM13 7h1v1h-1zM14 7h1v1h-1zM0 6h1v1h-1zM9 6h1v1h-1zM10 6h1v1h-1zM11 6h1v1h-1zM12 6h1v1h-1zM13 6h1v1h-1zM14 6h1v1h-1zM0 5h1v1h-1zM8 5h1v1h-1zM9 5h1v1h-1zM10 5h1v1h-1zM11 5h1v1h-1zM12 5h1v1h-1zM13 5h1v1h-1zM14 5h1v1h-1zM0 4h1v1h-1zM8 4h1v1h-1zM9 4h1v1h-1zM10 4h1v1h-1zM11 4h1v1h-1zM12 4h1v1h-1zM13 4h1v1h-1zM14 4h1v1h-1zM0 3h1v1h-1zM1 3h1v1h-1zM7 3h1v1h-1zM8 3h1v1h-1zM9 3h1v1h-1zM10 3h1v1h-1zM11 3h1v1h-1zM12 3h1v1h-1zM13 3h1v1h-1zM14 3h1v1h-1zM0 2h1v1h-1zM1 2h1v1h-1zM2 2h1v1h-1zM5 2h1v1h-1zM6 2h1v1h-1zM7 2h1v1h-1zM8 2h1v1h-1zM9 2h1v1h-1zM10 2h1v1h-1zM11 2h1v1h-1zM12 2h1v1h-1zM13 2h1v1h-1zM14 2h1v1h-1zM0 1h1v1h-1zM1 1h1v1h-1zM2 1h1v1h-1zM3 1h1v1h-1zM4 1h1v1h-1zM5 1h1v1h-1zM6 1h1v1h-1zM7 1h1v1h-1zM8 1h1v1h-1zM9 1h1v1h-1zM10 1h1v1h-1zM11 1h1v1h-1zM12 1h1v1h-1zM13 1h1v1h-1zM14 1h1v1h-1zM0 0h1v1h-1zM1 0h1v1h-1zM2 0h1v1h-1zM3 0h1v1h-1zM4 0h1v1h-1zM5 0h1v1h-1zM6 0h1v1h-1zM7 0h1v1h-1zM8 0h1v1h-1zM9 0h1v1h-1zM10 0h1v1h-1zM11 0h1v1h-1zM12 0h1v1h-1zM13 0h1v1h-1zM14 0h1v1h-1z"/>
<path fill="#ecf4fb" d="M3 9h1v1h-1zM4 9h1v1h-1z"/>
<path fill="#eff6fc" d="M6 9h1v1h-1z"/>
<path fill="#f1f7fd" d="M3 8h1v1h-1zM4 8h1v1h-1z"/>
</g>
<path stroke="#000" stroke-width="1.5" d="M759.50 1088.90h4.8M770.60 1095.00v4.9M759.50 1032.10h4.8M827.40 1095.00v4.9M759.50 961.10h4.8M898.40 1095.00v4.9M759.50 890.10h4.8M969.40 1095.00v4.9"/>
<path fill="#654811" d="M834.07 1060.85L839.67 1069.45L834.07 1078.05L828.47 1069.45z"/>
<path fill="#654811" d="M870.00 1039.60L876.65 1051.80L863.35 1051.80z"/>
<text transform="translate(743.10,989.50) rotate(-90) translate(-19.42,0.00) scale(1.400,1)" font-size="38.40" font-style="italic">n</text>
<text transform="translate(743.10,989.50) rotate(-90) translate(4.45,6.00)" font-size="29.00">1</text>
<rect x="1067.20" y="892.70" width="233.67" height="55.2" fill="#e5471a"/>
<rect x="1067.20" y="961.90" width="17.77" height="55.2" fill="#7bff78"/>
<rect x="1067.20" y="1031.10" width="17.77" height="55.2" fill="#a493ff"/>
<path stroke="#000" stroke-width="1.5" fill="none" d="M1067.20 882.00V1095.70H1337.10"/>
<path stroke="#000" stroke-width="1.4" d="M1063.00 920.30h4.2M1063.00 989.50h4.2M1063.00 1058.70h4.2M1067.20 1096.00v4.2M1201.80 1096.00v4.2M1336.40 1096.00v4.2"/>
<use href="#calU" x="1008" y="907.00"/>
<text x="1035.63" y="921.80" font-size="23.50">1</text>
<text transform="translate(1035.36,944.00) scale(1.170,1)" font-size="23.60" font-weight="bold">n</text>
<text x="1050.94" y="946.70" font-size="17.30">0</text>
<use href="#calU" x="1008" y="976.20"/>
<text x="1036.67" y="991.00" font-size="23.50">2</text>
<text transform="translate(1035.36,1013.20) scale(1.170,1)" font-size="23.60" font-weight="bold">n</text>
<text x="1050.94" y="1015.90" font-size="17.30">0</text>
<use href="#calU" x="1008" y="1045.40"/>
<text x="1036.58" y="1060.20" font-size="23.50">3</text>
<text transform="translate(1035.36,1082.40) scale(1.170,1)" font-size="23.60" font-weight="bold">n</text>
<text x="1050.94" y="1085.10" font-size="17.30">0</text>
<text x="1045.45" y="1127.30" font-size="34.80">0.0</text>
<text x="1180.07" y="1127.30" font-size="34.80">0.5</text>
<text x="1313.78" y="1127.30" font-size="34.80">1.0</text>
<text transform="translate(-2.04,895.64) scale(0.900,1)" font-size="51.50">(</text>
<text transform="translate(15.34,895.34) scale(1.103,1)" font-size="47.04" font-weight="bold">b</text>
<text transform="translate(45.17,895.64) scale(0.922,1)" font-size="51.50">)</text>
<g transform="translate(154.20,1228.00) scale(14.20000)" shape-rendering="crispEdges">
<path fill="#f4fbf1" d="M0 14h1v1h-1zM4 14h1v1h-1zM7 13h1v1h-1zM11 9h1v1h-1zM11 8h1v1h-1zM10 7h1v1h-1zM9 5h1v1h-1zM8 4h1v1h-1zM6 2h1v1h-1zM5 1h1v1h-1zM0 0h1v1h-1zM4 0h1v1h-1z"/>
<path fill="#f3faf0" d="M1 14h1v1h-1zM2 14h1v1h-1zM3 14h1v1h-1zM10 10h1v1h-1zM10 9h1v1h-1zM10 8h1v1h-1zM7 3h1v1h-1zM4 1h1v1h-1zM1 0h1v1h-1zM2 0h1v1h-1zM3 0h1v1h-1z"/>
<path fill="#f4fbf2" d="M5 14h1v1h-1zM9 12h1v1h-1zM10 11h1v1h-1zM11 10h1v1h-1zM11 7h1v1h-1zM10 6h1v1h-1zM9 4h1v1h-1zM5 0h1v1h-1z"/>
<path fill="#f5fbf3" d="M6 14h1v1h-1zM8 13h1v1h-1zM10 12h1v1h-1zM11 11h1v1h-1zM12 10h1v1h-1zM12 9h1v1h-1zM13 9h1v1h-1zM12 8h1v1h-1zM13 8h1v1h-1zM12 7h1v1h-1zM11 6h1v1h-1zM10 5h1v1h-1zM11 5h1v1h-1zM8 3h1v1h-1zM7 2h1v1h-1zM6 1h1v1h-1zM6 0h1v1h-1z"/>
<path fill="#f6fcf4" d="M7 14h1v1h-1zM8 14h1v1h-1zM9 14h1v1h-1zM10 14h1v1h-1zM11 14h1v1h-1zM12 14h1v1h-1zM13 14h1v1h-1zM14 14h1v1h-1zM9 13h1v1h-1zM10 13h1v1h-1zM11 13h1v1h-1zM12 13h1v1h-1zM13 13h1v1h-1zM14 13h1v1h-1zM11 12h1v1h-1zM12 12h1v1h-1zM13 12h1v1h-1zM14 12h1v1h-1zM12 11h1v1h-1zM13 11h1v1h-1zM14 11h1v1h-1zM13 10h1v1h-1zM14 10h1v1h-1zM14 9h1v1h-1zM14 8h1v1h-1zM13 7h1v1h-1zM14 7h1v1h-1zM12 6h1v1h-1zM13 6h1v1h-1zM14 6h1v1h-1zM12 5h1v1h-1zM13 5h1v1h-1zM14 5h1v1h-1zM10 4h1v1h-1zM11 4h1v1h-1zM12 4h1v1h-1zM13 4h1v1h-1zM14 4h1v1h-1zM9 3h1v1h-1zM10 3h1v1h-1zM11 3h1v1h-1zM12 3h1v1h-1zM13 3h1v1h-1zM14 3h1v1h-1zM8 2h1v1h-1zM9 2h1v1h-1zM10 2h1v1h-1zM11 2h1v1h-1zM12 2h1v1h-1zM13 2h1v1h-1zM14 2h1v1h-1zM7 1h1v1h-1zM8 1h1v1h-1zM9 1h1v1h-1zM10 1h1v1h-1zM11 1h1v1h-1zM12 1h1v1h-1zM13 1h1v1h-1zM14 1h1v1h-1zM7 0h1v1h-1zM8 0h1v1h-1zM9 0h1v1h-1zM10 0h1v1h-1zM11 0h1v1h-1zM12 0h1v1h-1zM13 0h1v1h-1zM14 0h1v1h-1z"/>
<path fill="#ecf8e8" d="M0 13h1v1h-1zM8 9h1v1h-1zM8 8h1v1h-1zM7 5h1v1h-1zM6 4h1v1h-1z"/>
<path fill="#e9f7e5" d="M1 13h1v1h-1zM2 13h1v1h-1zM6 12h1v1h-1zM7 11h1v1h-1zM7 6h1v1h-1z"/>
<path fill="#eaf7e6" d="M3 13h1v1h-1z"/>
<path fill="#edf8ea" d="M4 13h1v1h-1zM8 10h1v1h-1zM8 7h1v1h-1z"/>
<path fill="#eff9ec" d="M5 13h1v1h-1zM8 11h1v1h-1zM8 6h1v1h-1z"/>
<path fill="#f2faf0" d="M6 13h1v1h-1zM8 12h1v1h-1zM9 11h1v1h-1zM9 6h1v1h-1zM5 2h1v1h-1zM0 1h1v1h-1z"/>
<path fill="#d5efcf" d="M0 12h1v1h-1zM4 12h1v1h-1z"/>
<path fill="#c1e6ba" d="M1 12h1v1h-1z"/>
<path fill="#c0e6b9" d="M2 12h1v1h-1z"/>
<path fill="#c7e9c0" d="M3 12h1v1h-1zM5 11h1v1h-1zM5 6h1v1h-1z"/>
<path fill="#dff3da" d="M5 12h1v1h-1zM7 9h1v1h-1zM7 8h1v1h-1zM0 4h1v1h-1zM4 4h1v1h-1z"/>
<path fill="#eff9eb" d="M7 12h1v1h-1zM3 2h1v1h-1z"/>
<path fill="#afdfa8" d="M0 11h1v1h-1zM4 6h1v1h-1z"/>
<path fill="#84cc83" d="M1 11h1v1h-1z"/>
<path fill="#80ca80" d="M2 11h1v1h-1zM1 6h1v1h-1z"/>
<path fill="#91d28e" d="M3 11h1v1h-1zM0 7h1v1h-1z"/>
<path fill="#b0dfaa" d="M4 11h1v1h-1z"/>
<path fill="#ddf2d8" d="M6 11h1v1h-1zM6 6h1v1h-1z"/>
<path fill="#86cc85" d="M0 10h1v1h-1z"/>
<path fill="#43ac5e" d="M1 10h1v1h-1z"/>
<path fill="#3fa85b" d="M2 10h1v1h-1zM3 9h1v1h-1zM3 8h1v1h-1z"/>
<path fill="#58b668" d="M3 10h1v1h-1z"/>
<path fill="#88ce87" d="M4 10h1v1h-1z"/>
<path fill="#aedea7" d="M5 10h1v1h-1zM0 6h1v1h-1z"/>
<path fill="#cfecc9" d="M6 10h1v1h-1zM2 4h1v1h-1z"/>
<path fill="#e3f4de" d="M7 10h1v1h-1z"/>
<path fill="#f1faee" d="M9 10h1v1h-1zM9 7h1v1h-1zM8 5h1v1h-1zM7 4h1v1h-1zM6 3h1v1h-1zM4 2h1v1h-1zM1 1h1v1h-1zM2 1h1v1h-1zM3 1h1v1h-1z"/>
<path fill="#73c476" d="M0 9h1v1h-1zM0 8h1v1h-1z"/>
<path fill="#319a50" d="M1 9h1v1h-1zM1 8h1v1h-1z"/>
<path fill="#2e964d" d="M2 9h1v1h-1zM2 8h1v1h-1z"/>
<path fill="#76c578" d="M4 9h1v1h-1zM4 8h1v1h-1z"/>
<path fill="#a0d99b" d="M5 9h1v1h-1zM5 8h1v1h-1z"/>
<path fill="#caeac3" d="M6 9h1v1h-1zM6 8h1v1h-1z"/>
<path fill="#f0f9ed" d="M9 9h1v1h-1zM9 8h1v1h-1zM0 2h1v1h-1z"/>
<path fill="#53b466" d="M1 7h1v1h-1z"/>
<path fill="#4eb264" d="M2 7h1v1h-1z"/>
<path fill="#68be70" d="M3 7h1v1h-1z"/>
<path fill="#92d28f" d="M4 7h1v1h-1z"/>
<path fill="#b4e1ad" d="M5 7h1v1h-1z"/>
<path fill="#d2edcc" d="M6 7h1v1h-1z"/>
<path fill="#e5f5e0" d="M7 7h1v1h-1z"/>
<path fill="#7fc97f" d="M2 6h1v1h-1z"/>
<path fill="#90d18d" d="M3 6h1v1h-1z"/>
<path fill="#c9eac2" d="M0 5h1v1h-1zM4 5h1v1h-1z"/>
<path fill="#abdda5" d="M1 5h1v1h-1z"/>
<path fill="#aadda4" d="M2 5h1v1h-1z"/>
<path fill="#b5e1ae" d="M3 5h1v1h-1z"/>
<path fill="#d7efd1" d="M5 5h1v1h-1z"/>
<path fill="#e6f5e1" d="M6 5h1v1h-1zM1 3h1v1h-1zM2 3h1v1h-1z"/>
<path fill="#d1edcb" d="M1 4h1v1h-1z"/>
<path fill="#d6efd0" d="M3 4h1v1h-1z"/>
<path fill="#e7f6e2" d="M5 4h1v1h-1z"/>
<path fill="#ebf7e7" d="M0 3h1v1h-1zM4 3h1v1h-1z"/>
<path fill="#e7f6e3" d="M3 3h1v1h-1z"/>
<path fill="#eef8ea" d="M5 3h1v1h-1zM1 2h1v1h-1zM2 2h1v1h-1z"/>
</g>
<path stroke="#000" stroke-width="1.5" d="M150.20 1433.90h4.8M161.30 1440.00v4.9M150.20 1377.10h4.8M218.10 1440.00v4.9M150.20 1306.10h4.8M289.10 1440.00v4.9M150.20 1235.10h4.8M360.10 1440.00v4.9"/>
<path fill="#13321a" d="M203.47 1340.67L209.07 1349.27L203.47 1357.87L197.87 1349.27z"/>
<path fill="#13321a" d="M260.70 1327.80L267.35 1340.00L254.05 1340.00z"/>
<text transform="translate(103.00,1334.50) rotate(-90) translate(-19.42,0.00) scale(1.400,1)" font-size="38.40" font-style="italic">n</text>
<text transform="translate(103.00,1334.50) rotate(-90) translate(5.73,6.00)" font-size="29.00">2</text>
<text transform="translate(140.1,1433.90) rotate(-90) translate(-5.08,0.00)" font-size="34.80">1</text>
<text transform="translate(140.1,1377.10) rotate(-90) translate(-4.93,0.00)" font-size="34.80">5</text>
<text transform="translate(140.1,1306.10) rotate(-90) translate(-20.87,0.00)" font-size="34.80">10</text>
<text transform="translate(140.1,1235.10) rotate(-90) translate(-20.85,0.00)" font-size="34.80">15</text>
<g transform="translate(458.50,1228.00) scale(14.20000)" shape-rendering="crispEdges">
<path fill="#a9dca3" d="M0 14h1v1h-1z"/>
<path fill="#84cc83" d="M1 14h1v1h-1z"/>
<path fill="#88ce87" d="M2 14h1v1h-1z"/>
<path fill="#9ed798" d="M3 14h1v1h-1z"/>
<path fill="#bae3b3" d="M4 14h1v1h-1z"/>
<path fill="#d5efcf" d="M5 14h1v1h-1z"/>
<path fill="#e4f5df" d="M6 14h1v1h-1z"/>
<path fill="#edf8ea" d="M7 14h1v1h-1zM8 13h1v1h-1zM4 6h1v1h-1z"/>
<path fill="#f1faee" d="M8 14h1v1h-1zM9 12h1v1h-1zM9 11h1v1h-1zM5 6h1v1h-1zM0 5h1v1h-1zM3 5h1v1h-1z"/>
<path fill="#f4fbf2" d="M9 14h1v1h-1zM11 12h1v1h-1zM10 10h1v1h-1zM8 7h1v1h-1zM7 6h1v1h-1zM4 4h1v1h-1zM0 3h1v1h-1zM3 3h1v1h-1zM1 2h1v1h-1zM2 2h1v1h-1z"/>
<path fill="#f5fbf3" d="M10 14h1v1h-1zM11 13h1v1h-1zM12 12h1v1h-1zM13 12h1v1h-1zM14 12h1v1h-1zM11 11h1v1h-1zM11 10h1v1h-1zM10 9h1v1h-1zM9 8h1v1h-1zM6 5h1v1h-1zM5 4h1v1h-1zM4 3h1v1h-1zM0 2h1v1h-1zM3 2h1v1h-1zM4 2h1v1h-1zM1 1h1v1h-1zM2 1h1v1h-1zM1 0h1v1h-1zM2 0h1v1h-1z"/>
<path fill="#f6fcf4" d="M11 14h1v1h-1zM12 14h1v1h-1zM13 14h1v1h-1zM14 14h1v1h-1zM12 13h1v1h-1zM13 13h1v1h-1zM14 13h1v1h-1zM12 11h1v1h-1zM13 11h1v1h-1zM14 11h1v1h-1zM12 10h1v1h-1zM13 10h1v1h-1zM14 10h1v1h-1zM11 9h1v1h-1zM12 9h1v1h-1zM13 9h1v1h-1zM14 9h1v1h-1zM10 8h1v1h-1zM11 8h1v1h-1zM12 8h1v1h-1zM13 8h1v1h-1zM14 8h1v1h-1zM9 7h1v1h-1zM10 7h1v1h-1zM11 7h1v1h-1zM12 7h1v1h-1zM13 7h1v1h-1zM14 7h1v1h-1zM8 6h1v1h-1zM9 6h1v1h-1zM10 6h1v1h-1zM11 6h1v1h-1zM12 6h1v1h-1zM13 6h1v1h-1zM14 6h1v1h-1zM7 5h1v1h-1zM8 5h1v1h-1zM9 5h1v1h-1zM10 5h1v1h-1zM11 5h1v1h-1zM12 5h1v1h-1zM13 5h1v1h-1zM14 5h1v1h-1zM6 4h1v1h-1zM7 4h1v1h-1zM8 4h1v1h-1zM9 4h1v1h-1zM10 4h1v1h-1zM11 4h1v1h-1zM12 4h1v1h-1zM13 4h1v1h-1zM14 4h1v1h-1zM5 3h1v1h-1zM6 3h1v1h-1zM7 3h1v1h-1zM8 3h1v1h-1zM9 3h1v1h-1zM10 3h1v1h-1zM11 3h1v1h-1zM12 3h1v1h-1zM13 3h1v1h-1zM14 3h1v1h-1zM5 2h1v1h-1zM6 2h1v1h-1zM7 2h1v1h-1zM8 2h1v1h-1zM9 2h1v1h-1zM10 2h1v1h-1zM11 2h1v1h-1zM12 2h1v1h-1zM13 2h1v1h-1zM14 2h1v1h-1zM0 1h1v1h-1zM3 1h1v1h-1zM4 1h1v1h-1zM5 1h1v1h-1zM6 1h1v1h-1zM7 1h1v1h-1zM8 1h1v1h-1zM9 1h1v1h-1zM10 1h1v1h-1zM11 1h1v1h-1zM12 1h1v1h-1zM13 1h1v1h-1zM14 1h1v1h-1zM0 0h1v1h-1zM3 0h1v1h-1zM4 0h1v1h-1zM5 0h1v1h-1zM6 0h1v1h-1zM7 0h1v1h-1zM8 0h1v1h-1zM9 0h1v1h-1zM10 0h1v1h-1zM11 0h1v1h-1zM12 0h1v1h-1zM13 0h1v1h-1zM14 0h1v1h-1z"/>
<path fill="#3fa85b" d="M0 13h1v1h-1z"/>
<path fill="#0d7836" d="M1 13h1v1h-1z"/>
<path fill="#137d39" d="M2 13h1v1h-1z"/>
<path fill="#2f974e" d="M3 13h1v1h-1z"/>
<path fill="#66bd6f" d="M4 13h1v1h-1z"/>
<path fill="#a8dca2" d="M5 13h1v1h-1zM2 8h1v1h-1z"/>
<path fill="#cbeac4" d="M6 13h1v1h-1zM4 8h1v1h-1z"/>
<path fill="#e5f5e0" d="M7 13h1v1h-1z"/>
<path fill="#f2faf0" d="M9 13h1v1h-1zM9 10h1v1h-1zM7 7h1v1h-1zM4 5h1v1h-1zM1 4h1v1h-1z"/>
<path fill="#f4fbf1" d="M10 13h1v1h-1zM10 11h1v1h-1zM9 9h1v1h-1zM5 5h1v1h-1zM0 4h1v1h-1zM1 3h1v1h-1zM2 3h1v1h-1z"/>
<path fill="#1c8540" d="M0 12h1v1h-1zM1 10h1v1h-1z"/>
<path fill="#00441b" d="M1 12h1v1h-1z"/>
<path fill="#00481d" d="M2 12h1v1h-1z"/>
<path fill="#067230" d="M3 12h1v1h-1z"/>
<path fill="#3aa357" d="M4 12h1v1h-1z"/>
<path fill="#8bcf89" d="M5 12h1v1h-1z"/>
<path fill="#bde5b6" d="M6 12h1v1h-1z"/>
<path fill="#def2d9" d="M7 12h1v1h-1z"/>
<path fill="#ebf7e7" d="M8 12h1v1h-1z"/>
<path fill="#f3faf0" d="M10 12h1v1h-1zM8 8h1v1h-1zM6 6h1v1h-1zM2 4h1v1h-1zM3 4h1v1h-1z"/>
<path fill="#268e47" d="M0 11h1v1h-1z"/>
<path fill="#005221" d="M1 11h1v1h-1z"/>
<path fill="#005924" d="M2 11h1v1h-1z"/>
<path fill="#127c39" d="M3 11h1v1h-1z"/>
<path fill="#43ac5e" d="M4 11h1v1h-1z"/>
<path fill="#95d391" d="M5 11h1v1h-1z"/>
<path fill="#c1e6ba" d="M6 11h1v1h-1z"/>
<path fill="#e0f3db" d="M7 11h1v1h-1z"/>
<path fill="#ecf8e8" d="M8 11h1v1h-1zM0 6h1v1h-1z"/>
<path fill="#4db163" d="M0 10h1v1h-1z"/>
<path fill="#208843" d="M2 10h1v1h-1z"/>
<path fill="#39a257" d="M3 10h1v1h-1z"/>
<path fill="#72c375" d="M4 10h1v1h-1z"/>
<path fill="#aedea7" d="M5 10h1v1h-1z"/>
<path fill="#ceecc8" d="M6 10h1v1h-1z"/>
<path fill="#e6f5e1" d="M7 10h1v1h-1z"/>
<path fill="#eef8ea" d="M8 10h1v1h-1z"/>
<path fill="#8ace88" d="M0 9h1v1h-1z"/>
<path fill="#55b567" d="M1 9h1v1h-1z"/>
<path fill="#5bb86a" d="M2 9h1v1h-1z"/>
<path fill="#79c67a" d="M3 9h1v1h-1z"/>
<path fill="#a0d99b" d="M4 9h1v1h-1z"/>
<path fill="#c7e9c0" d="M5 9h1v1h-1z"/>
<path fill="#dbf1d6" d="M6 9h1v1h-1zM0 7h1v1h-1z"/>
<path fill="#eaf7e6" d="M7 9h1v1h-1zM3 6h1v1h-1z"/>
<path fill="#f0f9ed" d="M8 9h1v1h-1zM2 5h1v1h-1z"/>
<path fill="#bee5b8" d="M0 8h1v1h-1z"/>
<path fill="#a4da9e" d="M1 8h1v1h-1z"/>
<path fill="#b5e1ae" d="M3 8h1v1h-1z"/>
<path fill="#ddf2d8" d="M5 8h1v1h-1z"/>
<path fill="#e8f6e4" d="M6 8h1v1h-1zM1 6h1v1h-1z"/>
<path fill="#eff9ec" d="M7 8h1v1h-1zM1 5h1v1h-1z"/>
<path fill="#cfecc9" d="M1 7h1v1h-1z"/>
<path fill="#d1edcb" d="M2 7h1v1h-1z"/>
<path fill="#d8f0d2" d="M3 7h1v1h-1z"/>
<path fill="#e2f4dd" d="M4 7h1v1h-1z"/>
<path fill="#e9f7e5" d="M5 7h1v1h-1zM2 6h1v1h-1z"/>
<path fill="#eff9eb" d="M6 7h1v1h-1z"/>
</g>
<path stroke="#000" stroke-width="1.5" d="M454.50 1433.90h4.8M465.60 1440.00v4.9M454.50 1377.10h4.8M522.40 1440.00v4.9M454.50 1306.10h4.8M593.40 1440.00v4.9M454.50 1235.10h4.8M664.40 1440.00v4.9"/>
<path fill="#13321a" d="M503.23 1381.99L508.83 1390.59L503.23 1399.19L497.63 1390.59z"/>
<path fill="#13321a" d="M565.00 1384.60L571.65 1396.80L558.35 1396.80z"/>
<text transform="translate(438.10,1334.50) rotate(-90) translate(-19.42,0.00) scale(1.400,1)" font-size="38.40" font-style="italic">n</text>
<text transform="translate(438.10,1334.50) rotate(-90) translate(4.45,6.00)" font-size="29.00">1</text>
<g transform="translate(763.50,1228.00) scale(14.20000)" shape-rendering="crispEdges">
<path fill="#f4fbf1" d="M0 14h1v1h-1zM14 10h1v1h-1zM13 9h1v1h-1zM12 8h1v1h-1zM10 6h1v1h-1zM3 5h1v1h-1zM8 5h1v1h-1zM4 4h1v1h-1zM5 4h1v1h-1zM6 4h1v1h-1z"/>
<path fill="#eff9eb" d="M1 14h1v1h-1zM11 14h1v1h-1zM12 10h1v1h-1zM2 7h1v1h-1z"/>
<path fill="#e4f5df" d="M2 14h1v1h-1zM1 11h1v1h-1zM11 11h1v1h-1zM4 7h1v1h-1z"/>
<path fill="#d1edcb" d="M3 14h1v1h-1z"/>
<path fill="#bee5b8" d="M4 14h1v1h-1zM9 13h1v1h-1z"/>
<path fill="#b5e1ae" d="M5 14h1v1h-1zM2 12h1v1h-1z"/>
<path fill="#b6e2af" d="M6 14h1v1h-1z"/>
<path fill="#c4e8bd" d="M7 14h1v1h-1zM2 13h1v1h-1zM3 9h1v1h-1z"/>
<path fill="#d3eecd" d="M8 14h1v1h-1z"/>
<path fill="#e2f4dd" d="M9 14h1v1h-1zM5 7h1v1h-1zM6 7h1v1h-1z"/>
<path fill="#e9f7e5" d="M10 14h1v1h-1zM3 7h1v1h-1z"/>
<path fill="#f2faf0" d="M12 14h1v1h-1zM13 10h1v1h-1zM2 6h1v1h-1zM9 6h1v1h-1zM4 5h1v1h-1zM7 5h1v1h-1z"/>
<path fill="#f4fbf2" d="M13 14h1v1h-1zM14 9h1v1h-1zM0 8h1v1h-1zM2 5h1v1h-1zM9 5h1v1h-1zM3 4h1v1h-1zM7 4h1v1h-1zM5 3h1v1h-1z"/>
<path fill="#f5fbf3" d="M14 14h1v1h-1zM13 8h1v1h-1zM14 8h1v1h-1zM0 7h1v1h-1zM12 7h1v1h-1zM1 6h1v1h-1zM11 6h1v1h-1zM10 5h1v1h-1zM8 4h1v1h-1zM9 4h1v1h-1zM3 3h1v1h-1zM4 3h1v1h-1zM6 3h1v1h-1zM7 3h1v1h-1zM4 2h1v1h-1zM5 2h1v1h-1zM6 2h1v1h-1z"/>
<path fill="#f1faee" d="M0 13h1v1h-1zM13 13h1v1h-1zM13 12h1v1h-1zM13 11h1v1h-1zM0 10h1v1h-1zM12 9h1v1h-1zM1 8h1v1h-1zM11 8h1v1h-1zM10 7h1v1h-1zM5 5h1v1h-1zM6 5h1v1h-1z"/>
<path fill="#e7f6e2" d="M1 13h1v1h-1zM11 13h1v1h-1z"/>
<path fill="#92d28f" d="M3 13h1v1h-1z"/>
<path fill="#5db96b" d="M4 13h1v1h-1z"/>
<path fill="#45ad5f" d="M5 13h1v1h-1zM7 12h1v1h-1z"/>
<path fill="#46ae60" d="M6 13h1v1h-1z"/>
<path fill="#6bc072" d="M7 13h1v1h-1z"/>
<path fill="#99d595" d="M8 13h1v1h-1z"/>
<path fill="#d7efd1" d="M10 13h1v1h-1z"/>
<path fill="#eef8ea" d="M12 13h1v1h-1zM9 7h1v1h-1zM7 6h1v1h-1z"/>
<path fill="#f3faf0" d="M14 13h1v1h-1zM14 12h1v1h-1zM14 11h1v1h-1zM0 9h1v1h-1zM1 7h1v1h-1zM11 7h1v1h-1z"/>
<path fill="#eff9ec" d="M0 12h1v1h-1z"/>
<path fill="#e3f4de" d="M1 12h1v1h-1zM11 12h1v1h-1z"/>
<path fill="#78c679" d="M3 12h1v1h-1z"/>
<path fill="#39a257" d="M4 12h1v1h-1z"/>
<path fill="#268e47" d="M5 12h1v1h-1z"/>
<path fill="#29914a" d="M6 12h1v1h-1z"/>
<path fill="#7fc97f" d="M8 12h1v1h-1z"/>
<path fill="#afdfa8" d="M9 12h1v1h-1zM7 9h1v1h-1z"/>
<path fill="#ceecc8" d="M10 12h1v1h-1zM4 8h1v1h-1z"/>
<path fill="#ecf8e8" d="M12 12h1v1h-1zM12 11h1v1h-1zM1 9h1v1h-1zM11 9h1v1h-1zM10 8h1v1h-1zM5 6h1v1h-1zM6 6h1v1h-1z"/>
<path fill="#f0f9ed" d="M0 11h1v1h-1zM3 6h1v1h-1zM8 6h1v1h-1z"/>
<path fill="#bae3b3" d="M2 11h1v1h-1z"/>
<path fill="#7dc87e" d="M3 11h1v1h-1zM7 10h1v1h-1z"/>
<path fill="#3fa85b" d="M4 11h1v1h-1z"/>
<path fill="#2e964d" d="M5 11h1v1h-1z"/>
<path fill="#309950" d="M6 11h1v1h-1z"/>
<path fill="#4eb264" d="M7 11h1v1h-1z"/>
<path fill="#86cc85" d="M8 11h1v1h-1z"/>
<path fill="#b2e0ac" d="M9 11h1v1h-1z"/>
<path fill="#cfecc9" d="M10 11h1v1h-1z"/>
<path fill="#e8f6e4" d="M1 10h1v1h-1zM11 10h1v1h-1zM2 8h1v1h-1z"/>
<path fill="#caeac3" d="M2 10h1v1h-1zM6 8h1v1h-1z"/>
<path fill="#9fd899" d="M3 10h1v1h-1z"/>
<path fill="#70c274" d="M4 10h1v1h-1z"/>
<path fill="#5ab769" d="M5 10h1v1h-1z"/>
<path fill="#5bb86a" d="M6 10h1v1h-1z"/>
<path fill="#a4da9e" d="M8 10h1v1h-1z"/>
<path fill="#c6e8bf" d="M9 10h1v1h-1z"/>
<path fill="#dbf1d5" d="M10 10h1v1h-1z"/>
<path fill="#dbf1d6" d="M2 9h1v1h-1zM3 8h1v1h-1z"/>
<path fill="#a9dca3" d="M4 9h1v1h-1z"/>
<path fill="#9cd797" d="M5 9h1v1h-1z"/>
<path fill="#9ed798" d="M6 9h1v1h-1z"/>
<path fill="#c7e9c0" d="M8 9h1v1h-1z"/>
<path fill="#daf0d4" d="M9 9h1v1h-1z"/>
<path fill="#e6f5e1" d="M10 9h1v1h-1zM7 7h1v1h-1z"/>
<path fill="#c9eac2" d="M5 8h1v1h-1z"/>
<path fill="#d2edcc" d="M7 8h1v1h-1z"/>
<path fill="#def2d9" d="M8 8h1v1h-1z"/>
<path fill="#e7f6e3" d="M9 8h1v1h-1z"/>
<path fill="#eaf7e6" d="M8 7h1v1h-1z"/>
<path fill="#f6fcf4" d="M13 7h1v1h-1zM14 7h1v1h-1zM0 6h1v1h-1zM12 6h1v1h-1zM13 6h1v1h-1zM14 6h1v1h-1zM0 5h1v1h-1zM1 5h1v1h-1zM11 5h1v1h-1zM12 5h1v1h-1zM13 5h1v1h-1zM14 5h1v1h-1zM0 4h1v1h-1zM1 4h1v1h-1zM2 4h1v1h-1zM10 4h1v1h-1zM11 4h1v1h-1zM12 4h1v1h-1zM13 4h1v1h-1zM14 4h1v1h-1zM0 3h1v1h-1zM1 3h1v1h-1zM2 3h1v1h-1zM8 3h1v1h-1zM9 3h1v1h-1zM10 3h1v1h-1zM11 3h1v1h-1zM12 3h1v1h-1zM13 3h1v1h-1zM14 3h1v1h-1zM0 2h1v1h-1zM1 2h1v1h-1zM2 2h1v1h-1zM3 2h1v1h-1zM7 2h1v1h-1zM8 2h1v1h-1zM9 2h1v1h-1zM10 2h1v1h-1zM11 2h1v1h-1zM12 2h1v1h-1zM13 2h1v1h-1zM14 2h1v1h-1zM0 1h1v1h-1zM1 1h1v1h-1zM2 1h1v1h-1zM3 1h1v1h-1zM4 1h1v1h-1zM5 1h1v1h-1zM6 1h1v1h-1zM7 1h1v1h-1zM8 1h1v1h-1zM9 1h1v1h-1zM10 1h1v1h-1zM11 1h1v1h-1zM12 1h1v1h-1zM13 1h1v1h-1zM14 1h1v1h-1zM0 0h1v1h-1zM1 0h1v1h-1zM2 0h1v1h-1zM3 0h1v1h-1zM4 0h1v1h-1zM5 0h1v1h-1zM6 0h1v1h-1zM7 0h1v1h-1zM8 0h1v1h-1zM9 0h1v1h-1zM10 0h1v1h-1zM11 0h1v1h-1zM12 0h1v1h-1zM13 0h1v1h-1zM14 0h1v1h-1z"/>
<path fill="#edf8ea" d="M4 6h1v1h-1z"/>
</g>
<path stroke="#000" stroke-width="1.5" d="M759.50 1433.90h4.8M770.60 1440.00v4.9M759.50 1377.10h4.8M827.40 1440.00v4.9M759.50 1306.10h4.8M898.40 1440.00v4.9M759.50 1235.10h4.8M969.40 1440.00v4.9"/>
<path fill="#13321a" d="M853.24 1379.86L858.84 1388.46L853.24 1397.06L847.64 1388.46z"/>
<path fill="#13321a" d="M870.00 1384.60L876.65 1396.80L863.35 1396.80z"/>
<text transform="translate(743.10,1334.50) rotate(-90) translate(-19.42,0.00) scale(1.400,1)" font-size="38.40" font-style="italic">n</text>
<text transform="translate(743.10,1334.50) rotate(-90) translate(4.45,6.00)" font-size="29.00">1</text>
<rect x="1067.20" y="1237.70" width="106.06" height="55.2" fill="#e5471a"/>
<rect x="1067.20" y="1306.90" width="8.61" height="55.2" fill="#7bff78"/>
<rect x="1067.20" y="1376.10" width="154.79" height="55.2" fill="#a493ff"/>
<path stroke="#000" stroke-width="1.5" fill="none" d="M1067.20 1227.00V1440.70H1337.10"/>
<path stroke="#000" stroke-width="1.4" d="M1063.00 1265.30h4.2M1063.00 1334.50h4.2M1063.00 1403.70h4.2M1067.20 1441.00v4.2M1201.80 1441.00v4.2M1336.40 1441.00v4.2"/>
<use href="#calU" x="1008" y="1252.00"/>
<text x="1035.63" y="1266.80" font-size="23.50">1</text>
<text transform="translate(1035.36,1289.00) scale(1.170,1)" font-size="23.60" font-weight="bold">n</text>
<text x="1050.94" y="1291.70" font-size="17.30">0</text>
<use href="#calU" x="1008" y="1321.20"/>
<text x="1036.67" y="1336.00" font-size="23.50">2</text>
<text transform="translate(1035.36,1358.20) scale(1.170,1)" font-size="23.60" font-weight="bold">n</text>
<text x="1050.94" y="1360.90" font-size="17.30">0</text>
<use href="#calU" x="1008" y="1390.40"/>
<text x="1036.58" y="1405.20" font-size="23.50">3</text>
<text transform="translate(1035.36,1427.40) scale(1.170,1)" font-size="23.60" font-weight="bold">n</text>
<text x="1050.94" y="1430.10" font-size="17.30">0</text>
<g transform="translate(154.20,1475.00) scale(14.20000)" shape-rendering="crispEdges">
<path fill="#f2f8fd" d="M0 14h1v1h-1zM5 14h1v1h-1zM6 13h1v1h-1zM8 12h1v1h-1zM9 11h1v1h-1zM10 9h1v1h-1zM9 6h1v1h-1zM8 5h1v1h-1zM7 4h1v1h-1zM6 3h1v1h-1zM0 2h1v1h-1zM5 2h1v1h-1zM4 1h1v1h-1zM2 0h1v1h-1z"/>
<path fill="#eff6fc" d="M1 14h1v1h-1zM3 14h1v1h-1zM0 13h1v1h-1zM5 13h1v1h-1zM8 10h1v1h-1zM8 7h1v1h-1zM1 2h1v1h-1zM3 2h1v1h-1z"/>
<path fill="#eef5fc" d="M2 14h1v1h-1zM6 12h1v1h-1zM7 11h1v1h-1zM8 9h1v1h-1zM8 8h1v1h-1zM7 6h1v1h-1zM6 5h1v1h-1zM0 4h1v1h-1zM5 4h1v1h-1zM4 3h1v1h-1zM2 2h1v1h-1z"/>
<path fill="#f1f7fd" d="M4 14h1v1h-1zM7 12h1v1h-1zM8 11h1v1h-1zM9 9h1v1h-1zM7 5h1v1h-1zM6 4h1v1h-1zM0 3h1v1h-1zM5 3h1v1h-1zM4 2h1v1h-1zM2 1h1v1h-1z"/>
<path fill="#f5f9fe" d="M6 14h1v1h-1zM7 14h1v1h-1zM8 13h1v1h-1zM10 12h1v1h-1zM11 11h1v1h-1zM11 10h1v1h-1zM12 9h1v1h-1zM12 8h1v1h-1zM11 7h1v1h-1zM10 6h1v1h-1zM11 6h1v1h-1zM10 5h1v1h-1zM9 4h1v1h-1zM8 3h1v1h-1zM6 2h1v1h-1zM7 2h1v1h-1zM6 1h1v1h-1zM0 0h1v1h-1zM4 0h1v1h-1zM5 0h1v1h-1z"/>
<path fill="#f5fafe" d="M8 14h1v1h-1zM9 14h1v1h-1zM9 13h1v1h-1zM10 13h1v1h-1zM11 13h1v1h-1zM11 12h1v1h-1zM12 12h1v1h-1zM13 12h1v1h-1zM12 11h1v1h-1zM13 11h1v1h-1zM12 10h1v1h-1zM13 10h1v1h-1zM14 10h1v1h-1zM13 9h1v1h-1zM14 9h1v1h-1zM13 8h1v1h-1zM14 8h1v1h-1zM12 7h1v1h-1zM13 7h1v1h-1zM14 7h1v1h-1zM12 6h1v1h-1zM13 6h1v1h-1zM11 5h1v1h-1zM12 5h1v1h-1zM13 5h1v1h-1zM10 4h1v1h-1zM11 4h1v1h-1zM12 4h1v1h-1zM9 3h1v1h-1zM10 3h1v1h-1zM11 3h1v1h-1zM8 2h1v1h-1zM9 2h1v1h-1zM7 1h1v1h-1zM8 1h1v1h-1zM6 0h1v1h-1zM7 0h1v1h-1z"/>
<path fill="#f6faff" d="M10 14h1v1h-1zM11 14h1v1h-1zM12 14h1v1h-1zM13 14h1v1h-1zM14 14h1v1h-1zM12 13h1v1h-1zM13 13h1v1h-1zM14 13h1v1h-1zM14 12h1v1h-1zM14 11h1v1h-1zM14 6h1v1h-1zM14 5h1v1h-1zM13 4h1v1h-1zM14 4h1v1h-1zM12 3h1v1h-1zM13 3h1v1h-1zM14 3h1v1h-1zM10 2h1v1h-1zM11 2h1v1h-1zM12 2h1v1h-1zM13 2h1v1h-1zM14 2h1v1h-1zM9 1h1v1h-1zM10 1h1v1h-1zM11 1h1v1h-1zM12 1h1v1h-1zM13 1h1v1h-1zM14 1h1v1h-1zM8 0h1v1h-1zM9 0h1v1h-1zM10 0h1v1h-1zM11 0h1v1h-1zM12 0h1v1h-1zM13 0h1v1h-1zM14 0h1v1h-1z"/>
<path fill="#ebf3fb" d="M1 13h1v1h-1zM6 11h1v1h-1zM7 8h1v1h-1z"/>
<path fill="#e8f1fa" d="M2 13h1v1h-1zM6 10h1v1h-1z"/>
<path fill="#eaf3fb" d="M3 13h1v1h-1zM5 12h1v1h-1zM7 9h1v1h-1zM5 5h1v1h-1zM4 4h1v1h-1zM2 3h1v1h-1z"/>
<path fill="#ecf4fb" d="M4 13h1v1h-1zM7 10h1v1h-1zM7 7h1v1h-1zM6 6h1v1h-1zM1 3h1v1h-1zM3 3h1v1h-1z"/>
<path fill="#f3f8fe" d="M7 13h1v1h-1zM9 12h1v1h-1zM10 11h1v1h-1zM10 10h1v1h-1zM11 9h1v1h-1zM10 8h1v1h-1zM11 8h1v1h-1zM10 7h1v1h-1zM9 5h1v1h-1zM8 4h1v1h-1zM7 3h1v1h-1zM0 1h1v1h-1zM5 1h1v1h-1zM1 0h1v1h-1zM3 0h1v1h-1z"/>
<path fill="#eaf2fb" d="M0 12h1v1h-1zM6 7h1v1h-1zM0 5h1v1h-1z"/>
<path fill="#e3eef8" d="M1 12h1v1h-1zM5 7h1v1h-1zM1 5h1v1h-1z"/>
<path fill="#deebf7" d="M2 12h1v1h-1zM4 11h1v1h-1zM5 9h1v1h-1zM2 5h1v1h-1z"/>
<path fill="#e1edf8" d="M3 12h1v1h-1zM5 10h1v1h-1zM0 7h1v1h-1zM3 5h1v1h-1z"/>
<path fill="#e5eff9" d="M4 12h1v1h-1zM5 11h1v1h-1zM0 6h1v1h-1zM4 5h1v1h-1z"/>
<path fill="#e4eff9" d="M0 11h1v1h-1zM2 4h1v1h-1z"/>
<path fill="#dae8f6" d="M1 11h1v1h-1zM4 7h1v1h-1zM3 6h1v1h-1z"/>
<path fill="#d5e5f4" d="M2 11h1v1h-1z"/>
<path fill="#d9e7f5" d="M3 11h1v1h-1z"/>
<path fill="#dfecf7" d="M0 10h1v1h-1zM5 8h1v1h-1z"/>
<path fill="#d3e4f3" d="M1 10h1v1h-1zM3 7h1v1h-1z"/>
<path fill="#cddff1" d="M2 10h1v1h-1zM3 9h1v1h-1z"/>
<path fill="#d2e3f3" d="M3 10h1v1h-1z"/>
<path fill="#d9e8f5" d="M4 10h1v1h-1z"/>
<path fill="#f2f7fd" d="M9 10h1v1h-1zM9 8h1v1h-1zM9 7h1v1h-1zM8 6h1v1h-1zM1 1h1v1h-1zM3 1h1v1h-1z"/>
<path fill="#dceaf6" d="M0 9h1v1h-1zM1 6h1v1h-1z"/>
<path fill="#cfe1f2" d="M1 9h1v1h-1zM3 8h1v1h-1zM2 7h1v1h-1z"/>
<path fill="#c7dcef" d="M2 9h1v1h-1z"/>
<path fill="#d6e5f4" d="M4 9h1v1h-1zM1 7h1v1h-1z"/>
<path fill="#e7f0fa" d="M6 9h1v1h-1zM5 6h1v1h-1z"/>
<path fill="#ddeaf7" d="M0 8h1v1h-1z"/>
<path fill="#d1e2f3" d="M1 8h1v1h-1z"/>
<path fill="#c9ddf0" d="M2 8h1v1h-1z"/>
<path fill="#d6e6f4" d="M4 8h1v1h-1zM2 6h1v1h-1z"/>
<path fill="#e7f1fa" d="M6 8h1v1h-1zM1 4h1v1h-1zM3 4h1v1h-1z"/>
<path fill="#e0ecf8" d="M4 6h1v1h-1z"/>
</g>
<path stroke="#000" stroke-width="1.5" d="M150.20 1680.90h4.8M161.30 1687.00v4.9M150.20 1624.10h4.8M218.10 1687.00v4.9M150.20 1553.10h4.8M289.10 1687.00v4.9M150.20 1482.10h4.8M360.10 1687.00v4.9"/>
<path fill="#654811" d="M206.31 1587.38L211.91 1595.98L206.31 1604.58L200.71 1595.98z"/>
<path fill="#654811" d="M260.70 1574.80L267.35 1587.00L254.05 1587.00z"/>
<text transform="translate(103.00,1581.50) rotate(-90) translate(-19.42,0.00) scale(1.400,1)" font-size="38.40" font-style="italic">n</text>
<text transform="translate(103.00,1581.50) rotate(-90) translate(5.73,6.00)" font-size="29.00">2</text>
<text transform="translate(140.1,1680.90) rotate(-90) translate(-5.08,0.00)" font-size="34.80">1</text>
<text transform="translate(140.1,1624.10) rotate(-90) translate(-4.93,0.00)" font-size="34.80">5</text>
<text transform="translate(140.1,1553.10) rotate(-90) translate(-20.87,0.00)" font-size="34.80">10</text>
<text transform="translate(140.1,1482.10) rotate(-90) translate(-20.85,0.00)" font-size="34.80">15</text>
<g transform="translate(458.50,1475.00) scale(14.20000)" shape-rendering="crispEdges">
<path fill="#9cc9e1" d="M0 14h1v1h-1z"/>
<path fill="#56a0ce" d="M1 14h1v1h-1z"/>
<path fill="#3f8fc5" d="M2 14h1v1h-1z"/>
<path fill="#549fcd" d="M3 14h1v1h-1z"/>
<path fill="#7fb9da" d="M4 14h1v1h-1z"/>
<path fill="#add0e6" d="M5 14h1v1h-1z"/>
<path fill="#cbdef1" d="M6 14h1v1h-1z"/>
<path fill="#d9e7f5" d="M7 14h1v1h-1zM5 12h1v1h-1z"/>
<path fill="#e5eff9" d="M8 14h1v1h-1z"/>
<path fill="#eaf3fb" d="M9 14h1v1h-1zM8 13h1v1h-1zM6 11h1v1h-1zM0 10h1v1h-1z"/>
<path fill="#eef5fc" d="M10 14h1v1h-1zM9 13h1v1h-1zM8 12h1v1h-1zM7 11h1v1h-1zM1 9h1v1h-1zM3 9h1v1h-1z"/>
<path fill="#f2f7fd" d="M11 14h1v1h-1zM10 13h1v1h-1zM9 12h1v1h-1zM8 11h1v1h-1zM7 10h1v1h-1zM5 9h1v1h-1zM1 8h1v1h-1zM3 8h1v1h-1z"/>
<path fill="#f2f8fd" d="M12 14h1v1h-1zM0 8h1v1h-1zM4 8h1v1h-1zM2 7h1v1h-1z"/>
<path fill="#f5f9fe" d="M13 14h1v1h-1zM14 14h1v1h-1zM12 13h1v1h-1zM13 13h1v1h-1zM11 12h1v1h-1zM12 12h1v1h-1zM10 11h1v1h-1zM9 10h1v1h-1zM7 9h1v1h-1zM6 8h1v1h-1zM0 7h1v1h-1zM4 7h1v1h-1zM5 7h1v1h-1zM1 6h1v1h-1zM2 6h1v1h-1zM3 6h1v1h-1zM4 6h1v1h-1zM2 5h1v1h-1z"/>
<path fill="#bfd8ed" d="M0 13h1v1h-1z"/>
<path fill="#95c5df" d="M1 13h1v1h-1z"/>
<path fill="#82bbdb" d="M2 13h1v1h-1z"/>
<path fill="#94c4df" d="M3 13h1v1h-1z"/>
<path fill="#b2d2e8" d="M4 13h1v1h-1z"/>
<path fill="#c9ddf0" d="M5 13h1v1h-1z"/>
<path fill="#d8e7f5" d="M6 13h1v1h-1zM1 11h1v1h-1z"/>
<path fill="#e1edf8" d="M7 13h1v1h-1zM0 11h1v1h-1z"/>
<path fill="#f3f8fe" d="M11 13h1v1h-1zM10 12h1v1h-1zM9 11h1v1h-1zM8 10h1v1h-1zM6 9h1v1h-1zM5 8h1v1h-1zM1 7h1v1h-1zM3 7h1v1h-1z"/>
<path fill="#f5fafe" d="M14 13h1v1h-1zM13 12h1v1h-1zM14 12h1v1h-1zM11 11h1v1h-1zM12 11h1v1h-1zM13 11h1v1h-1zM10 10h1v1h-1zM11 10h1v1h-1zM8 9h1v1h-1zM9 9h1v1h-1zM7 8h1v1h-1zM8 8h1v1h-1zM6 7h1v1h-1zM7 7h1v1h-1zM0 6h1v1h-1zM5 6h1v1h-1zM6 6h1v1h-1zM0 5h1v1h-1zM1 5h1v1h-1zM3 5h1v1h-1zM4 5h1v1h-1zM5 5h1v1h-1zM0 4h1v1h-1zM1 4h1v1h-1zM2 4h1v1h-1zM3 4h1v1h-1zM4 4h1v1h-1zM1 3h1v1h-1zM2 3h1v1h-1zM3 3h1v1h-1z"/>
<path fill="#d3e4f3" d="M0 12h1v1h-1zM2 11h1v1h-1z"/>
<path fill="#c3daee" d="M1 12h1v1h-1z"/>
<path fill="#b8d5ea" d="M2 12h1v1h-1z"/>
<path fill="#c2d9ee" d="M3 12h1v1h-1z"/>
<path fill="#cee0f2" d="M4 12h1v1h-1z"/>
<path fill="#e3eef8" d="M6 12h1v1h-1zM2 10h1v1h-1z"/>
<path fill="#e8f1fa" d="M7 12h1v1h-1zM4 10h1v1h-1z"/>
<path fill="#d6e6f4" d="M3 11h1v1h-1z"/>
<path fill="#ddeaf7" d="M4 11h1v1h-1z"/>
<path fill="#e4eff9" d="M5 11h1v1h-1zM1 10h1v1h-1zM3 10h1v1h-1z"/>
<path fill="#f6faff" d="M14 11h1v1h-1zM12 10h1v1h-1zM13 10h1v1h-1zM14 10h1v1h-1zM10 9h1v1h-1zM11 9h1v1h-1zM12 9h1v1h-1zM13 9h1v1h-1zM14 9h1v1h-1zM9 8h1v1h-1zM10 8h1v1h-1zM11 8h1v1h-1zM12 8h1v1h-1zM13 8h1v1h-1zM14 8h1v1h-1zM8 7h1v1h-1zM9 7h1v1h-1zM10 7h1v1h-1zM11 7h1v1h-1zM12 7h1v1h-1zM13 7h1v1h-1zM14 7h1v1h-1zM7 6h1v1h-1zM8 6h1v1h-1zM9 6h1v1h-1zM10 6h1v1h-1zM11 6h1v1h-1zM12 6h1v1h-1zM13 6h1v1h-1zM14 6h1v1h-1zM6 5h1v1h-1zM7 5h1v1h-1zM8 5h1v1h-1zM9 5h1v1h-1zM10 5h1v1h-1zM11 5h1v1h-1zM12 5h1v1h-1zM13 5h1v1h-1zM14 5h1v1h-1zM5 4h1v1h-1zM6 4h1v1h-1zM7 4h1v1h-1zM8 4h1v1h-1zM9 4h1v1h-1zM10 4h1v1h-1zM11 4h1v1h-1zM12 4h1v1h-1zM13 4h1v1h-1zM14 4h1v1h-1zM0 3h1v1h-1zM4 3h1v1h-1zM5 3h1v1h-1zM6 3h1v1h-1zM7 3h1v1h-1zM8 3h1v1h-1zM9 3h1v1h-1zM10 3h1v1h-1zM11 3h1v1h-1zM12 3h1v1h-1zM13 3h1v1h-1zM14 3h1v1h-1zM0 2h1v1h-1zM1 2h1v1h-1zM2 2h1v1h-1zM3 2h1v1h-1zM4 2h1v1h-1zM5 2h1v1h-1zM6 2h1v1h-1zM7 2h1v1h-1zM8 2h1v1h-1zM9 2h1v1h-1zM10 2h1v1h-1zM11 2h1v1h-1zM12 2h1v1h-1zM13 2h1v1h-1zM14 2h1v1h-1zM0 1h1v1h-1zM1 1h1v1h-1zM2 1h1v1h-1zM3 1h1v1h-1zM4 1h1v1h-1zM5 1h1v1h-1zM6 1h1v1h-1zM7 1h1v1h-1zM8 1h1v1h-1zM9 1h1v1h-1zM10 1h1v1h-1zM11 1h1v1h-1zM12 1h1v1h-1zM13 1h1v1h-1zM14 1h1v1h-1zM0 0h1v1h-1zM1 0h1v1h-1zM2 0h1v1h-1zM3 0h1v1h-1zM4 0h1v1h-1zM5 0h1v1h-1zM6 0h1v1h-1zM7 0h1v1h-1zM8 0h1v1h-1zM9 0h1v1h-1zM10 0h1v1h-1zM11 0h1v1h-1zM12 0h1v1h-1zM13 0h1v1h-1zM14 0h1v1h-1z"/>
<path fill="#ecf4fb" d="M5 10h1v1h-1zM2 9h1v1h-1z"/>
<path fill="#eff6fc" d="M6 10h1v1h-1zM4 9h1v1h-1z"/>
<path fill="#f1f7fd" d="M0 9h1v1h-1zM2 8h1v1h-1z"/>
</g>
<path stroke="#000" stroke-width="1.5" d="M454.50 1680.90h4.8M465.60 1687.00v4.9M454.50 1624.10h4.8M522.40 1687.00v4.9M454.50 1553.10h4.8M593.40 1687.00v4.9M454.50 1482.10h4.8M664.40 1687.00v4.9"/>
<path fill="#654811" d="M508.63 1652.85L514.23 1661.45L508.63 1670.05L503.03 1661.45z"/>
<path fill="#654811" d="M565.00 1631.60L571.65 1643.80L558.35 1643.80z"/>
<text transform="translate(438.10,1581.50) rotate(-90) translate(-19.42,0.00) scale(1.400,1)" font-size="38.40" font-style="italic">n</text>
<text transform="translate(438.10,1581.50) rotate(-90) translate(4.45,6.00)" font-size="29.00">1</text>
<g transform="translate(763.50,1475.00) scale(14.20000)" shape-rendering="crispEdges">
<path fill="#eaf3fb" d="M0 14h1v1h-1zM12 14h1v1h-1zM9 11h1v1h-1zM4 10h1v1h-1zM7 10h1v1h-1z"/>
<path fill="#e3eef8" d="M1 14h1v1h-1zM10 13h1v1h-1zM9 12h1v1h-1z"/>
<path fill="#cfe1f2" d="M2 14h1v1h-1z"/>
<path fill="#abd0e6" d="M3 14h1v1h-1z"/>
<path fill="#7db8da" d="M4 14h1v1h-1z"/>
<path fill="#69add5" d="M5 14h1v1h-1zM6 14h1v1h-1z"/>
<path fill="#8abfdd" d="M7 14h1v1h-1z"/>
<path fill="#aed1e7" d="M8 14h1v1h-1z"/>
<path fill="#cbdef1" d="M9 14h1v1h-1z"/>
<path fill="#dae8f6" d="M10 14h1v1h-1zM5 11h1v1h-1zM6 11h1v1h-1z"/>
<path fill="#e4eff9" d="M11 14h1v1h-1zM2 12h1v1h-1zM3 11h1v1h-1zM8 11h1v1h-1z"/>
<path fill="#eef5fc" d="M13 14h1v1h-1zM0 13h1v1h-1zM12 13h1v1h-1zM1 12h1v1h-1zM11 12h1v1h-1zM10 11h1v1h-1zM3 10h1v1h-1zM8 10h1v1h-1zM5 9h1v1h-1zM6 9h1v1h-1z"/>
<path fill="#f2f7fd" d="M14 14h1v1h-1zM0 12h1v1h-1zM12 12h1v1h-1zM1 11h1v1h-1zM11 11h1v1h-1zM2 10h1v1h-1zM3 9h1v1h-1zM8 9h1v1h-1zM5 8h1v1h-1zM6 8h1v1h-1z"/>
<path fill="#e8f1fa" d="M1 13h1v1h-1zM5 10h1v1h-1zM6 10h1v1h-1z"/>
<path fill="#d9e8f5" d="M2 13h1v1h-1zM8 12h1v1h-1z"/>
<path fill="#c8dcf0" d="M3 13h1v1h-1z"/>
<path fill="#add0e6" d="M4 13h1v1h-1z"/>
<path fill="#a1cbe2" d="M5 13h1v1h-1zM6 13h1v1h-1z"/>
<path fill="#b4d3e9" d="M7 13h1v1h-1z"/>
<path fill="#c9ddf0" d="M8 13h1v1h-1zM5 12h1v1h-1zM6 12h1v1h-1z"/>
<path fill="#d8e7f5" d="M9 13h1v1h-1z"/>
<path fill="#eaf2fb" d="M11 13h1v1h-1zM10 12h1v1h-1z"/>
<path fill="#f1f7fd" d="M13 13h1v1h-1zM9 10h1v1h-1z"/>
<path fill="#f3f8fe" d="M14 13h1v1h-1zM13 12h1v1h-1zM0 11h1v1h-1zM12 11h1v1h-1zM1 10h1v1h-1zM2 9h1v1h-1zM9 9h1v1h-1zM3 8h1v1h-1zM8 8h1v1h-1zM4 7h1v1h-1zM5 7h1v1h-1zM6 7h1v1h-1z"/>
<path fill="#d9e7f5" d="M3 12h1v1h-1z"/>
<path fill="#cee0f2" d="M4 12h1v1h-1z"/>
<path fill="#d1e2f3" d="M7 12h1v1h-1z"/>
<path fill="#f5f9fe" d="M14 12h1v1h-1zM13 11h1v1h-1zM11 10h1v1h-1zM10 9h1v1h-1zM2 8h1v1h-1zM9 8h1v1h-1zM3 7h1v1h-1zM7 7h1v1h-1zM8 7h1v1h-1zM4 6h1v1h-1zM5 6h1v1h-1zM6 6h1v1h-1zM7 6h1v1h-1z"/>
<path fill="#ebf3fb" d="M2 11h1v1h-1z"/>
<path fill="#ddeaf7" d="M4 11h1v1h-1z"/>
<path fill="#dfecf7" d="M7 11h1v1h-1z"/>
<path fill="#f5fafe" d="M14 11h1v1h-1zM0 10h1v1h-1zM12 10h1v1h-1zM13 10h1v1h-1zM14 10h1v1h-1zM0 9h1v1h-1zM1 9h1v1h-1zM11 9h1v1h-1zM12 9h1v1h-1zM1 8h1v1h-1zM10 8h1v1h-1zM11 8h1v1h-1zM2 7h1v1h-1zM9 7h1v1h-1zM10 7h1v1h-1zM2 6h1v1h-1zM3 6h1v1h-1zM8 6h1v1h-1zM9 6h1v1h-1zM3 5h1v1h-1zM4 5h1v1h-1zM5 5h1v1h-1zM6 5h1v1h-1zM7 5h1v1h-1zM8 5h1v1h-1zM4 4h1v1h-1zM5 4h1v1h-1zM6 4h1v1h-1zM7 4h1v1h-1zM5 3h1v1h-1zM6 3h1v1h-1z"/>
<path fill="#f2f8fd" d="M10 10h1v1h-1zM4 8h1v1h-1zM7 8h1v1h-1z"/>
<path fill="#eff6fc" d="M4 9h1v1h-1zM7 9h1v1h-1z"/>
<path fill="#f6faff" d="M13 9h1v1h-1zM14 9h1v1h-1zM0 8h1v1h-1zM12 8h1v1h-1zM13 8h1v1h-1zM14 8h1v1h-1zM0 7h1v1h-1zM1 7h1v1h-1zM11 7h1v1h-1zM12 7h1v1h-1zM13 7h1v1h-1zM14 7h1v1h-1zM0 6h1v1h-1zM1 6h1v1h-1zM10 6h1v1h-1zM11 6h1v1h-1zM12 6h1v1h-1zM13 6h1v1h-1zM14 6h1v1h-1zM0 5h1v1h-1zM1 5h1v1h-1zM2 5h1v1h-1zM9 5h1v1h-1zM10 5h1v1h-1zM11 5h1v1h-1zM12 5h1v1h-1zM13 5h1v1h-1zM14 5h1v1h-1zM0 4h1v1h-1zM1 4h1v1h-1zM2 4h1v1h-1zM3 4h1v1h-1zM8 4h1v1h-1zM9 4h1v1h-1zM10 4h1v1h-1zM11 4h1v1h-1zM12 4h1v1h-1zM13 4h1v1h-1zM14 4h1v1h-1zM0 3h1v1h-1zM1 3h1v1h-1zM2 3h1v1h-1zM3 3h1v1h-1zM4 3h1v1h-1zM7 3h1v1h-1zM8 3h1v1h-1zM9 3h1v1h-1zM10 3h1v1h-1zM11 3h1v1h-1zM12 3h1v1h-1zM13 3h1v1h-1zM14 3h1v1h-1zM0 2h1v1h-1zM1 2h1v1h-1zM2 2h1v1h-1zM3 2h1v1h-1zM4 2h1v1h-1zM5 2h1v1h-1zM6 2h1v1h-1zM7 2h1v1h-1zM8 2h1v1h-1zM9 2h1v1h-1zM10 2h1v1h-1zM11 2h1v1h-1zM12 2h1v1h-1zM13 2h1v1h-1zM14 2h1v1h-1zM0 1h1v1h-1zM1 1h1v1h-1zM2 1h1v1h-1zM3 1h1v1h-1zM4 1h1v1h-1zM5 1h1v1h-1zM6 1h1v1h-1zM7 1h1v1h-1zM8 1h1v1h-1zM9 1h1v1h-1zM10 1h1v1h-1zM11 1h1v1h-1zM12 1h1v1h-1zM13 1h1v1h-1zM14 1h1v1h-1zM0 0h1v1h-1zM1 0h1v1h-1zM2 0h1v1h-1zM3 0h1v1h-1zM4 0h1v1h-1zM5 0h1v1h-1zM6 0h1v1h-1zM7 0h1v1h-1zM8 0h1v1h-1zM9 0h1v1h-1zM10 0h1v1h-1zM11 0h1v1h-1zM12 0h1v1h-1zM13 0h1v1h-1zM14 0h1v1h-1z"/>
</g>
<path stroke="#000" stroke-width="1.5" d="M759.50 1680.90h4.8M770.60 1687.00v4.9M759.50 1624.10h4.8M827.40 1687.00v4.9M759.50 1553.10h4.8M898.40 1687.00v4.9M759.50 1482.10h4.8M969.40 1687.00v4.9"/>
<path fill="#654811" d="M854.38 1651.85L859.98 1660.45L854.38 1669.05L848.78 1660.45z"/>
<path fill="#654811" d="M870.00 1631.60L876.65 1643.80L863.35 1643.80z"/>
<text transform="translate(743.10,1581.50) rotate(-90) translate(-19.42,0.00) scale(1.400,1)" font-size="38.40" font-style="italic">n</text>
<text transform="translate(743.10,1581.50) rotate(-90) translate(4.45,6.00)" font-size="29.00">1</text>
<rect x="1067.20" y="1484.70" width="204.32" height="55.2" fill="#e5471a"/>
<rect x="1067.20" y="1553.90" width="4.31" height="55.2" fill="#7bff78"/>
<rect x="1067.20" y="1623.10" width="60.84" height="55.2" fill="#a493ff"/>
<path stroke="#000" stroke-width="1.5" fill="none" d="M1067.20 1474.00V1687.70H1337.10"/>
<path stroke="#000" stroke-width="1.4" d="M1063.00 1512.30h4.2M1063.00 1581.50h4.2M1063.00 1650.70h4.2M1067.20 1688.00v4.2M1201.80 1688.00v4.2M1336.40 1688.00v4.2"/>
<use href="#calU" x="1008" y="1499.00"/>
<text x="1035.63" y="1513.80" font-size="23.50">1</text>
<text transform="translate(1035.36,1536.00) scale(1.170,1)" font-size="23.60" font-weight="bold">n</text>
<text x="1050.94" y="1538.70" font-size="17.30">0</text>
<use href="#calU" x="1008" y="1568.20"/>
<text x="1036.67" y="1583.00" font-size="23.50">2</text>
<text transform="translate(1035.36,1605.20) scale(1.170,1)" font-size="23.60" font-weight="bold">n</text>
<text x="1050.94" y="1607.90" font-size="17.30">0</text>
<use href="#calU" x="1008" y="1637.40"/>
<text x="1036.58" y="1652.20" font-size="23.50">3</text>
<text transform="translate(1035.36,1674.40) scale(1.170,1)" font-size="23.60" font-weight="bold">n</text>
<text x="1050.94" y="1677.10" font-size="17.30">0</text>
<text x="1045.45" y="1719.30" font-size="34.80">0.0</text>
<text x="1180.07" y="1719.30" font-size="34.80">0.5</text>
<text x="1313.78" y="1719.30" font-size="34.80">1.0</text>
<text transform="translate(0.71,1487.64) scale(0.922,1)" font-size="51.50">(</text>
<text transform="translate(18.11,1487.38) scale(1.141,1)" font-size="45.79" font-weight="bold">c</text>
<text transform="translate(42.38,1487.64) scale(0.915,1)" font-size="51.50">)</text>
<g transform="translate(154.20,1820.00) scale(14.20000)" shape-rendering="crispEdges">
<path fill="#f6fcf4" d="M0 14h1v1h-1zM9 14h1v1h-1zM10 14h1v1h-1zM11 14h1v1h-1zM12 14h1v1h-1zM13 14h1v1h-1zM14 14h1v1h-1zM11 13h1v1h-1zM12 13h1v1h-1zM13 13h1v1h-1zM14 13h1v1h-1zM13 12h1v1h-1zM14 12h1v1h-1zM14 5h1v1h-1zM13 4h1v1h-1zM14 4h1v1h-1zM12 3h1v1h-1zM13 3h1v1h-1zM14 3h1v1h-1zM11 2h1v1h-1zM12 2h1v1h-1zM13 2h1v1h-1zM14 2h1v1h-1zM0 1h1v1h-1zM10 1h1v1h-1zM11 1h1v1h-1zM12 1h1v1h-1zM13 1h1v1h-1zM14 1h1v1h-1zM0 0h1v1h-1zM1 0h1v1h-1zM9 0h1v1h-1zM10 0h1v1h-1zM11 0h1v1h-1zM12 0h1v1h-1zM13 0h1v1h-1zM14 0h1v1h-1z"/>
<path fill="#f5fbf3" d="M1 14h1v1h-1zM10 13h1v1h-1zM12 12h1v1h-1zM13 11h1v1h-1zM14 11h1v1h-1zM14 6h1v1h-1zM13 5h1v1h-1zM12 4h1v1h-1zM11 3h1v1h-1zM0 2h1v1h-1zM10 2h1v1h-1zM1 1h1v1h-1zM9 1h1v1h-1zM8 0h1v1h-1z"/>
<path fill="#f4fbf2" d="M2 14h1v1h-1zM8 14h1v1h-1zM0 13h1v1h-1zM11 12h1v1h-1zM14 10h1v1h-1zM14 9h1v1h-1zM14 8h1v1h-1zM14 7h1v1h-1zM13 6h1v1h-1zM12 5h1v1h-1zM11 4h1v1h-1zM10 3h1v1h-1zM9 2h1v1h-1zM8 1h1v1h-1zM2 0h1v1h-1zM7 0h1v1h-1z"/>
<path fill="#f3faf0" d="M3 14h1v1h-1zM6 14h1v1h-1zM11 5h1v1h-1zM10 4h1v1h-1zM7 1h1v1h-1z"/>
<path fill="#f2faf0" d="M4 14h1v1h-1zM5 14h1v1h-1zM10 12h1v1h-1zM11 11h1v1h-1zM12 10h1v1h-1zM12 7h1v1h-1zM0 4h1v1h-1zM1 3h1v1h-1zM9 3h1v1h-1zM8 2h1v1h-1zM3 1h1v1h-1zM6 1h1v1h-1z"/>
<path fill="#f4fbf1" d="M7 14h1v1h-1zM1 13h1v1h-1zM9 13h1v1h-1zM12 11h1v1h-1zM13 10h1v1h-1zM13 9h1v1h-1zM13 8h1v1h-1zM13 7h1v1h-1zM12 6h1v1h-1zM0 3h1v1h-1zM1 2h1v1h-1zM2 1h1v1h-1zM3 0h1v1h-1zM4 0h1v1h-1zM5 0h1v1h-1zM6 0h1v1h-1z"/>
<path fill="#f0f9ed" d="M2 13h1v1h-1zM7 13h1v1h-1z"/>
<path fill="#eef8ea" d="M3 13h1v1h-1zM1 12h1v1h-1zM11 9h1v1h-1zM11 8h1v1h-1zM10 6h1v1h-1zM2 3h1v1h-1zM4 2h1v1h-1zM5 2h1v1h-1z"/>
<path fill="#ecf8e8" d="M4 13h1v1h-1zM5 13h1v1h-1z"/>
<path fill="#edf8ea" d="M6 13h1v1h-1zM0 11h1v1h-1zM7 3h1v1h-1z"/>
<path fill="#f1faee" d="M8 13h1v1h-1zM0 12h1v1h-1zM12 9h1v1h-1zM12 8h1v1h-1zM11 6h1v1h-1zM10 5h1v1h-1zM2 2h1v1h-1zM7 2h1v1h-1zM4 1h1v1h-1zM5 1h1v1h-1z"/>
<path fill="#e6f5e1" d="M2 12h1v1h-1z"/>
<path fill="#ddf2d8" d="M3 12h1v1h-1zM9 10h1v1h-1zM6 4h1v1h-1z"/>
<path fill="#d6efd0" d="M4 12h1v1h-1zM5 12h1v1h-1zM9 9h1v1h-1zM9 8h1v1h-1z"/>
<path fill="#daf0d4" d="M6 12h1v1h-1zM8 11h1v1h-1zM4 4h1v1h-1zM5 4h1v1h-1z"/>
<path fill="#e4f5df" d="M7 12h1v1h-1zM9 6h1v1h-1z"/>
<path fill="#e9f7e5" d="M8 12h1v1h-1zM10 9h1v1h-1zM10 8h1v1h-1zM6 3h1v1h-1z"/>
<path fill="#eff9eb" d="M9 12h1v1h-1zM10 11h1v1h-1zM1 4h1v1h-1zM6 2h1v1h-1z"/>
<path fill="#e7f6e2" d="M1 11h1v1h-1zM7 4h1v1h-1z"/>
<path fill="#d1edcb" d="M2 11h1v1h-1z"/>
<path fill="#bbe4b4" d="M3 11h1v1h-1z"/>
<path fill="#aadda4" d="M4 11h1v1h-1zM5 11h1v1h-1z"/>
<path fill="#b4e1ad" d="M6 11h1v1h-1z"/>
<path fill="#ccebc6" d="M7 11h1v1h-1zM3 5h1v1h-1z"/>
<path fill="#e7f6e3" d="M9 11h1v1h-1zM0 7h1v1h-1z"/>
<path fill="#e8f6e4" d="M0 10h1v1h-1zM2 4h1v1h-1zM4 3h1v1h-1zM5 3h1v1h-1z"/>
<path fill="#dbf1d5" d="M1 10h1v1h-1zM9 7h1v1h-1z"/>
<path fill="#b5e1ae" d="M2 10h1v1h-1zM8 8h1v1h-1z"/>
<path fill="#90d18d" d="M3 10h1v1h-1z"/>
<path fill="#72c375" d="M4 10h1v1h-1zM5 10h1v1h-1z"/>
<path fill="#83cb82" d="M6 10h1v1h-1z"/>
<path fill="#abdda5" d="M7 10h1v1h-1zM3 6h1v1h-1z"/>
<path fill="#c6e8bf" d="M8 10h1v1h-1z"/>
<path fill="#ebf7e7" d="M10 10h1v1h-1zM0 6h1v1h-1zM9 5h1v1h-1z"/>
<path fill="#eff9ec" d="M11 10h1v1h-1zM11 7h1v1h-1zM0 5h1v1h-1zM9 4h1v1h-1zM8 3h1v1h-1zM3 2h1v1h-1z"/>
<path fill="#e5f5e0" d="M0 9h1v1h-1zM0 8h1v1h-1z"/>
<path fill="#d3eecd" d="M1 9h1v1h-1z"/>
<path fill="#a3da9d" d="M2 9h1v1h-1zM6 6h1v1h-1z"/>
<path fill="#70c274" d="M3 9h1v1h-1z"/>
<path fill="#4aaf61" d="M4 9h1v1h-1zM5 9h1v1h-1z"/>
<path fill="#5db96b" d="M6 9h1v1h-1z"/>
<path fill="#95d391" d="M7 9h1v1h-1zM7 8h1v1h-1z"/>
<path fill="#b6e2af" d="M8 9h1v1h-1z"/>
<path fill="#d2edcc" d="M1 8h1v1h-1zM8 6h1v1h-1z"/>
<path fill="#a0d99b" d="M2 8h1v1h-1z"/>
<path fill="#6ec173" d="M3 8h1v1h-1z"/>
<path fill="#45ad5f" d="M4 8h1v1h-1zM5 8h1v1h-1z"/>
<path fill="#5bb86a" d="M6 8h1v1h-1z"/>
<path fill="#d8f0d2" d="M1 7h1v1h-1z"/>
<path fill="#b0dfaa" d="M2 7h1v1h-1z"/>
<path fill="#86cc85" d="M3 7h1v1h-1z"/>
<path fill="#66bd6f" d="M4 7h1v1h-1zM5 7h1v1h-1z"/>
<path fill="#79c67a" d="M6 7h1v1h-1z"/>
<path fill="#a5db9f" d="M7 7h1v1h-1z"/>
<path fill="#c1e6ba" d="M8 7h1v1h-1zM4 5h1v1h-1zM5 5h1v1h-1z"/>
<path fill="#eaf7e6" d="M10 7h1v1h-1zM1 5h1v1h-1zM8 4h1v1h-1zM3 3h1v1h-1z"/>
<path fill="#e3f4de" d="M1 6h1v1h-1zM8 5h1v1h-1z"/>
<path fill="#c7e9c0" d="M2 6h1v1h-1z"/>
<path fill="#97d492" d="M4 6h1v1h-1zM5 6h1v1h-1z"/>
<path fill="#c0e6b9" d="M7 6h1v1h-1z"/>
<path fill="#dbf1d6" d="M2 5h1v1h-1z"/>
<path fill="#c9eac2" d="M6 5h1v1h-1z"/>
<path fill="#d7efd1" d="M7 5h1v1h-1z"/>
<path fill="#e0f3db" d="M3 4h1v1h-1z"/>
</g>
<path stroke="#000" stroke-width="1.5" d="M150.20 2025.90h4.8M161.30 2032.00v4.9M150.20 1969.10h4.8M218.10 2032.00v4.9M150.20 1898.10h4.8M289.10 2032.00v4.9M150.20 1827.10h4.8M360.10 2032.00v4.9"/>
<path fill="#13321a" d="M232.44 1930.82L238.04 1939.42L232.44 1948.02L226.84 1939.42z"/>
<path fill="#13321a" d="M260.70 1919.80L267.35 1932.00L254.05 1932.00z"/>
<text transform="translate(103.00,1926.50) rotate(-90) translate(-19.42,0.00) scale(1.400,1)" font-size="38.40" font-style="italic">n</text>
<text transform="translate(103.00,1926.50) rotate(-90) translate(5.73,6.00)" font-size="29.00">2</text>
<text transform="translate(140.1,2025.90) rotate(-90) translate(-5.08,0.00)" font-size="34.80">1</text>
<text transform="translate(140.1,1969.10) rotate(-90) translate(-4.93,0.00)" font-size="34.80">5</text>
<text transform="translate(140.1,1898.10) rotate(-90) translate(-20.87,0.00)" font-size="34.80">10</text>
<text transform="translate(140.1,1827.10) rotate(-90) translate(-20.85,0.00)" font-size="34.80">15</text>
<g transform="translate(458.50,1820.00) scale(14.20000)" shape-rendering="crispEdges">
<path fill="#e9f7e5" d="M0 14h1v1h-1zM5 9h1v1h-1zM1 6h1v1h-1z"/>
<path fill="#b6e2af" d="M1 14h1v1h-1z"/>
<path fill="#6abf71" d="M2 14h1v1h-1zM7 14h1v1h-1z"/>
<path fill="#2b934b" d="M3 14h1v1h-1zM5 13h1v1h-1zM3 12h1v1h-1z"/>
<path fill="#137d39" d="M4 14h1v1h-1z"/>
<path fill="#16803c" d="M5 14h1v1h-1z"/>
<path fill="#309950" d="M6 14h1v1h-1zM2 12h1v1h-1z"/>
<path fill="#a0d99b" d="M8 14h1v1h-1z"/>
<path fill="#c9eac2" d="M9 14h1v1h-1zM3 9h1v1h-1z"/>
<path fill="#e3f4de" d="M10 14h1v1h-1zM9 13h1v1h-1zM0 6h1v1h-1z"/>
<path fill="#ecf8e8" d="M11 14h1v1h-1zM10 13h1v1h-1zM9 12h1v1h-1zM7 10h1v1h-1zM4 8h1v1h-1zM0 5h1v1h-1z"/>
<path fill="#f1faee" d="M12 14h1v1h-1zM11 13h1v1h-1zM10 12h1v1h-1zM8 10h1v1h-1zM5 8h1v1h-1zM1 5h1v1h-1zM0 4h1v1h-1z"/>
<path fill="#f4fbf1" d="M13 14h1v1h-1zM12 13h1v1h-1zM11 12h1v1h-1zM10 11h1v1h-1zM9 10h1v1h-1zM8 9h1v1h-1zM6 8h1v1h-1zM5 7h1v1h-1zM4 6h1v1h-1zM2 5h1v1h-1zM1 4h1v1h-1zM0 3h1v1h-1z"/>
<path fill="#f5fbf3" d="M14 14h1v1h-1zM13 13h1v1h-1zM12 12h1v1h-1zM11 11h1v1h-1zM10 10h1v1h-1zM9 9h1v1h-1zM7 8h1v1h-1zM6 7h1v1h-1zM5 6h1v1h-1zM3 5h1v1h-1zM2 4h1v1h-1zM1 3h1v1h-1zM0 2h1v1h-1z"/>
<path fill="#c3e7bc" d="M0 13h1v1h-1zM8 13h1v1h-1zM7 12h1v1h-1zM1 8h1v1h-1z"/>
<path fill="#80ca80" d="M1 13h1v1h-1z"/>
<path fill="#37a055" d="M2 13h1v1h-1z"/>
<path fill="#1c8540" d="M3 13h1v1h-1z"/>
<path fill="#19833e" d="M4 13h1v1h-1z"/>
<path fill="#5db96b" d="M6 13h1v1h-1z"/>
<path fill="#99d595" d="M7 13h1v1h-1zM0 12h1v1h-1z"/>
<path fill="#f6fcf4" d="M14 13h1v1h-1zM13 12h1v1h-1zM14 12h1v1h-1zM12 11h1v1h-1zM13 11h1v1h-1zM14 11h1v1h-1zM11 10h1v1h-1zM12 10h1v1h-1zM13 10h1v1h-1zM14 10h1v1h-1zM10 9h1v1h-1zM11 9h1v1h-1zM12 9h1v1h-1zM13 9h1v1h-1zM14 9h1v1h-1zM8 8h1v1h-1zM9 8h1v1h-1zM10 8h1v1h-1zM11 8h1v1h-1zM12 8h1v1h-1zM13 8h1v1h-1zM14 8h1v1h-1zM7 7h1v1h-1zM8 7h1v1h-1zM9 7h1v1h-1zM10 7h1v1h-1zM11 7h1v1h-1zM12 7h1v1h-1zM13 7h1v1h-1zM14 7h1v1h-1zM6 6h1v1h-1zM7 6h1v1h-1zM8 6h1v1h-1zM9 6h1v1h-1zM10 6h1v1h-1zM11 6h1v1h-1zM12 6h1v1h-1zM13 6h1v1h-1zM14 6h1v1h-1zM4 5h1v1h-1zM5 5h1v1h-1zM6 5h1v1h-1zM7 5h1v1h-1zM8 5h1v1h-1zM9 5h1v1h-1zM10 5h1v1h-1zM11 5h1v1h-1zM12 5h1v1h-1zM13 5h1v1h-1zM14 5h1v1h-1zM3 4h1v1h-1zM4 4h1v1h-1zM5 4h1v1h-1zM6 4h1v1h-1zM7 4h1v1h-1zM8 4h1v1h-1zM9 4h1v1h-1zM10 4h1v1h-1zM11 4h1v1h-1zM12 4h1v1h-1zM13 4h1v1h-1zM14 4h1v1h-1zM2 3h1v1h-1zM3 3h1v1h-1zM4 3h1v1h-1zM5 3h1v1h-1zM6 3h1v1h-1zM7 3h1v1h-1zM8 3h1v1h-1zM9 3h1v1h-1zM10 3h1v1h-1zM11 3h1v1h-1zM12 3h1v1h-1zM13 3h1v1h-1zM14 3h1v1h-1zM1 2h1v1h-1zM2 2h1v1h-1zM3 2h1v1h-1zM4 2h1v1h-1zM5 2h1v1h-1zM6 2h1v1h-1zM7 2h1v1h-1zM8 2h1v1h-1zM9 2h1v1h-1zM10 2h1v1h-1zM11 2h1v1h-1zM12 2h1v1h-1zM13 2h1v1h-1zM14 2h1v1h-1zM0 1h1v1h-1zM1 1h1v1h-1zM2 1h1v1h-1zM3 1h1v1h-1zM4 1h1v1h-1zM5 1h1v1h-1zM6 1h1v1h-1zM7 1h1v1h-1zM8 1h1v1h-1zM9 1h1v1h-1zM10 1h1v1h-1zM11 1h1v1h-1zM12 1h1v1h-1zM13 1h1v1h-1zM14 1h1v1h-1zM0 0h1v1h-1zM1 0h1v1h-1zM2 0h1v1h-1zM3 0h1v1h-1zM4 0h1v1h-1zM5 0h1v1h-1zM6 0h1v1h-1zM7 0h1v1h-1zM8 0h1v1h-1zM9 0h1v1h-1zM10 0h1v1h-1zM11 0h1v1h-1zM12 0h1v1h-1zM13 0h1v1h-1zM14 0h1v1h-1z"/>
<path fill="#52b365" d="M1 12h1v1h-1zM3 11h1v1h-1z"/>
<path fill="#3aa357" d="M4 12h1v1h-1z"/>
<path fill="#62bb6d" d="M5 12h1v1h-1z"/>
<path fill="#9ed798" d="M6 12h1v1h-1zM1 9h1v1h-1z"/>
<path fill="#e0f3db" d="M8 12h1v1h-1z"/>
<path fill="#79c67a" d="M0 11h1v1h-1z"/>
<path fill="#55b567" d="M1 11h1v1h-1z"/>
<path fill="#3fa85b" d="M2 11h1v1h-1z"/>
<path fill="#7dc87e" d="M4 11h1v1h-1zM2 10h1v1h-1z"/>
<path fill="#a4da9e" d="M5 11h1v1h-1z"/>
<path fill="#c6e8bf" d="M6 11h1v1h-1z"/>
<path fill="#e5f5e0" d="M7 11h1v1h-1zM6 10h1v1h-1zM3 8h1v1h-1z"/>
<path fill="#eef8ea" d="M8 11h1v1h-1zM3 7h1v1h-1z"/>
<path fill="#f2faf0" d="M9 11h1v1h-1zM7 9h1v1h-1zM4 7h1v1h-1zM3 6h1v1h-1z"/>
<path fill="#76c578" d="M0 10h1v1h-1z"/>
<path fill="#6ec173" d="M1 10h1v1h-1z"/>
<path fill="#97d492" d="M3 10h1v1h-1z"/>
<path fill="#b4e1ad" d="M4 10h1v1h-1z"/>
<path fill="#cfecc9" d="M5 10h1v1h-1z"/>
<path fill="#8bcf89" d="M0 9h1v1h-1z"/>
<path fill="#b0dfaa" d="M2 9h1v1h-1zM0 8h1v1h-1z"/>
<path fill="#dbf1d6" d="M4 9h1v1h-1zM1 7h1v1h-1z"/>
<path fill="#eff9ec" d="M6 9h1v1h-1zM2 6h1v1h-1z"/>
<path fill="#d5efcf" d="M2 8h1v1h-1z"/>
<path fill="#cdecc7" d="M0 7h1v1h-1z"/>
<path fill="#e7f6e2" d="M2 7h1v1h-1z"/>
</g>
<path stroke="#000" stroke-width="1.5" d="M454.50 2025.90h4.8M465.60 2032.00v4.9M454.50 1969.10h4.8M522.40 2032.00v4.9M454.50 1898.10h4.8M593.40 2032.00v4.9M454.50 1827.10h4.8M664.40 2032.00v4.9"/>
<path fill="#13321a" d="M516.01 1982.37L521.61 1990.97L516.01 1999.57L510.41 1990.97z"/>
<path fill="#13321a" d="M565.00 1976.60L571.65 1988.80L558.35 1988.80z"/>
<text transform="translate(438.10,1926.50) rotate(-90) translate(-19.42,0.00) scale(1.400,1)" font-size="38.40" font-style="italic">n</text>
<text transform="translate(438.10,1926.50) rotate(-90) translate(4.45,6.00)" font-size="29.00">1</text>
<g transform="translate(763.50,1820.00) scale(14.20000)" shape-rendering="crispEdges">
<path fill="#f5fbf3" d="M0 14h1v1h-1zM12 14h1v1h-1zM14 13h1v1h-1zM14 8h1v1h-1zM13 7h1v1h-1zM0 6h1v1h-1zM12 6h1v1h-1zM1 5h1v1h-1zM11 5h1v1h-1zM10 4h1v1h-1zM9 3h1v1h-1zM3 2h1v1h-1zM8 2h1v1h-1zM4 1h1v1h-1zM5 1h1v1h-1zM6 1h1v1h-1zM7 1h1v1h-1zM5 0h1v1h-1zM6 0h1v1h-1z"/>
<path fill="#f3faf0" d="M1 14h1v1h-1zM0 13h1v1h-1zM13 12h1v1h-1zM13 9h1v1h-1zM1 6h1v1h-1zM2 5h1v1h-1zM3 4h1v1h-1zM5 3h1v1h-1zM6 3h1v1h-1z"/>
<path fill="#f0f9ed" d="M2 14h1v1h-1zM12 12h1v1h-1zM1 7h1v1h-1zM2 6h1v1h-1zM3 5h1v1h-1zM5 4h1v1h-1zM6 4h1v1h-1z"/>
<path fill="#e9f7e5" d="M3 14h1v1h-1zM8 14h1v1h-1zM10 13h1v1h-1zM1 9h1v1h-1zM3 6h1v1h-1zM8 6h1v1h-1z"/>
<path fill="#e4f5df" d="M4 14h1v1h-1zM7 14h1v1h-1zM9 7h1v1h-1zM4 6h1v1h-1zM7 6h1v1h-1z"/>
<path fill="#dff3da" d="M5 14h1v1h-1zM6 14h1v1h-1zM10 12h1v1h-1zM5 6h1v1h-1zM6 6h1v1h-1z"/>
<path fill="#edf8ea" d="M9 14h1v1h-1zM11 8h1v1h-1zM9 6h1v1h-1zM4 5h1v1h-1zM7 5h1v1h-1z"/>
<path fill="#f1faee" d="M10 14h1v1h-1zM0 12h1v1h-1zM0 9h1v1h-1zM12 8h1v1h-1zM11 7h1v1h-1zM10 6h1v1h-1zM9 5h1v1h-1zM4 4h1v1h-1zM7 4h1v1h-1z"/>
<path fill="#f4fbf1" d="M11 14h1v1h-1zM13 8h1v1h-1zM0 7h1v1h-1zM12 7h1v1h-1zM11 6h1v1h-1zM10 5h1v1h-1zM9 4h1v1h-1zM4 3h1v1h-1zM7 3h1v1h-1z"/>
<path fill="#f6fcf4" d="M13 14h1v1h-1zM14 14h1v1h-1zM14 7h1v1h-1zM13 6h1v1h-1zM14 6h1v1h-1zM0 5h1v1h-1zM12 5h1v1h-1zM13 5h1v1h-1zM14 5h1v1h-1zM0 4h1v1h-1zM1 4h1v1h-1zM11 4h1v1h-1zM12 4h1v1h-1zM13 4h1v1h-1zM14 4h1v1h-1zM0 3h1v1h-1zM1 3h1v1h-1zM2 3h1v1h-1zM10 3h1v1h-1zM11 3h1v1h-1zM12 3h1v1h-1zM13 3h1v1h-1zM14 3h1v1h-1zM0 2h1v1h-1zM1 2h1v1h-1zM2 2h1v1h-1zM9 2h1v1h-1zM10 2h1v1h-1zM11 2h1v1h-1zM12 2h1v1h-1zM13 2h1v1h-1zM14 2h1v1h-1zM0 1h1v1h-1zM1 1h1v1h-1zM2 1h1v1h-1zM3 1h1v1h-1zM8 1h1v1h-1zM9 1h1v1h-1zM10 1h1v1h-1zM11 1h1v1h-1zM12 1h1v1h-1zM13 1h1v1h-1zM14 1h1v1h-1zM0 0h1v1h-1zM1 0h1v1h-1zM2 0h1v1h-1zM3 0h1v1h-1zM4 0h1v1h-1zM7 0h1v1h-1zM8 0h1v1h-1zM9 0h1v1h-1zM10 0h1v1h-1zM11 0h1v1h-1zM12 0h1v1h-1zM13 0h1v1h-1zM14 0h1v1h-1z"/>
<path fill="#eef8ea" d="M1 13h1v1h-1z"/>
<path fill="#e6f5e1" d="M2 13h1v1h-1zM10 8h1v1h-1z"/>
<path fill="#ceecc8" d="M3 13h1v1h-1z"/>
<path fill="#b6e2af" d="M4 13h1v1h-1zM7 13h1v1h-1zM9 11h1v1h-1zM9 10h1v1h-1z"/>
<path fill="#a8dca2" d="M5 13h1v1h-1zM6 13h1v1h-1zM4 8h1v1h-1zM7 8h1v1h-1z"/>
<path fill="#cbeac4" d="M8 13h1v1h-1zM4 7h1v1h-1zM7 7h1v1h-1z"/>
<path fill="#dbf1d5" d="M9 13h1v1h-1z"/>
<path fill="#eff9eb" d="M11 13h1v1h-1zM12 11h1v1h-1zM12 10h1v1h-1z"/>
<path fill="#f2faf0" d="M12 13h1v1h-1zM13 11h1v1h-1zM13 10h1v1h-1zM0 8h1v1h-1zM8 4h1v1h-1z"/>
<path fill="#f4fbf2" d="M13 13h1v1h-1zM14 12h1v1h-1zM14 11h1v1h-1zM14 10h1v1h-1zM14 9h1v1h-1zM2 4h1v1h-1zM3 3h1v1h-1zM8 3h1v1h-1zM4 2h1v1h-1zM5 2h1v1h-1zM6 2h1v1h-1zM7 2h1v1h-1z"/>
<path fill="#eaf7e6" d="M1 12h1v1h-1zM11 9h1v1h-1zM2 7h1v1h-1z"/>
<path fill="#daf0d4" d="M2 12h1v1h-1z"/>
<path fill="#b2e0ac" d="M3 12h1v1h-1z"/>
<path fill="#86cc85" d="M4 12h1v1h-1zM7 12h1v1h-1z"/>
<path fill="#6bc072" d="M5 12h1v1h-1zM6 12h1v1h-1z"/>
<path fill="#aadda4" d="M8 12h1v1h-1z"/>
<path fill="#c9eac2" d="M9 12h1v1h-1z"/>
<path fill="#ebf7e7" d="M11 12h1v1h-1z"/>
<path fill="#eff9ec" d="M0 11h1v1h-1zM0 10h1v1h-1zM12 9h1v1h-1zM8 5h1v1h-1z"/>
<path fill="#e7f6e3" d="M1 11h1v1h-1zM1 10h1v1h-1z"/>
<path fill="#cfecc9" d="M2 11h1v1h-1zM2 10h1v1h-1z"/>
<path fill="#99d595" d="M3 11h1v1h-1zM3 10h1v1h-1z"/>
<path fill="#5db96b" d="M4 11h1v1h-1zM7 11h1v1h-1zM4 10h1v1h-1zM7 10h1v1h-1zM5 9h1v1h-1zM6 9h1v1h-1z"/>
<path fill="#3ca559" d="M5 11h1v1h-1zM6 11h1v1h-1zM5 10h1v1h-1zM6 10h1v1h-1z"/>
<path fill="#90d18d" d="M8 11h1v1h-1zM8 10h1v1h-1z"/>
<path fill="#d8f0d2" d="M10 11h1v1h-1zM10 10h1v1h-1zM8 7h1v1h-1z"/>
<path fill="#e8f6e4" d="M11 11h1v1h-1zM11 10h1v1h-1z"/>
<path fill="#d7efd1" d="M2 9h1v1h-1z"/>
<path fill="#abdda5" d="M3 9h1v1h-1z"/>
<path fill="#7dc87e" d="M4 9h1v1h-1zM7 9h1v1h-1z"/>
<path fill="#a4da9e" d="M8 9h1v1h-1z"/>
<path fill="#c4e8bd" d="M9 9h1v1h-1z"/>
<path fill="#def2d9" d="M10 9h1v1h-1z"/>
<path fill="#ecf8e8" d="M1 8h1v1h-1zM10 7h1v1h-1zM5 5h1v1h-1zM6 5h1v1h-1z"/>
<path fill="#e2f4dd" d="M2 8h1v1h-1z"/>
<path fill="#c6e8bf" d="M3 8h1v1h-1z"/>
<path fill="#92d28f" d="M5 8h1v1h-1zM6 8h1v1h-1z"/>
<path fill="#c0e6b9" d="M8 8h1v1h-1z"/>
<path fill="#d5efcf" d="M9 8h1v1h-1z"/>
<path fill="#dbf1d6" d="M3 7h1v1h-1z"/>
<path fill="#c1e6ba" d="M5 7h1v1h-1zM6 7h1v1h-1z"/>
</g>
<path stroke="#000" stroke-width="1.5" d="M759.50 2025.90h4.8M770.60 2032.00v4.9M759.50 1969.10h4.8M827.40 2032.00v4.9M759.50 1898.10h4.8M898.40 2032.00v4.9M759.50 1827.10h4.8M969.40 2032.00v4.9"/>
<path fill="#13321a" d="M854.38 1957.23L859.98 1965.83L854.38 1974.43L848.78 1965.83z"/>
<path fill="#13321a" d="M870.00 1976.60L876.65 1988.80L863.35 1988.80z"/>
<text transform="translate(743.10,1926.50) rotate(-90) translate(-19.42,0.00) scale(1.400,1)" font-size="38.40" font-style="italic">n</text>
<text transform="translate(743.10,1926.50) rotate(-90) translate(4.45,6.00)" font-size="29.00">1</text>
<rect x="1067.20" y="1829.70" width="176.86" height="55.2" fill="#e5471a"/>
<rect x="1067.20" y="1898.90" width="4.58" height="55.2" fill="#7bff78"/>
<rect x="1067.20" y="1968.10" width="88.03" height="55.2" fill="#a493ff"/>
<path stroke="#000" stroke-width="1.5" fill="none" d="M1067.20 1819.00V2032.70H1337.10"/>
<path stroke="#000" stroke-width="1.4" d="M1063.00 1857.30h4.2M1063.00 1926.50h4.2M1063.00 1995.70h4.2M1067.20 2033.00v4.2M1201.80 2033.00v4.2M1336.40 2033.00v4.2"/>
<use href="#calU" x="1008" y="1844.00"/>
<text x="1035.63" y="1858.80" font-size="23.50">1</text>
<text transform="translate(1035.36,1881.00) scale(1.170,1)" font-size="23.60" font-weight="bold">n</text>
<text x="1050.94" y="1883.70" font-size="17.30">0</text>
<use href="#calU" x="1008" y="1913.20"/>
<text x="1036.67" y="1928.00" font-size="23.50">2</text>
<text transform="translate(1035.36,1950.20) scale(1.170,1)" font-size="23.60" font-weight="bold">n</text>
<text x="1050.94" y="1952.90" font-size="17.30">0</text>
<use href="#calU" x="1008" y="1982.40"/>
<text x="1036.58" y="1997.20" font-size="23.50">3</text>
<text transform="translate(1035.36,2019.40) scale(1.170,1)" font-size="23.60" font-weight="bold">n</text>
<text x="1050.94" y="2022.10" font-size="17.30">0</text>
<g transform="translate(154.20,2067.00) scale(14.20000)" shape-rendering="crispEdges">
<path fill="#eef5fc" d="M0 14h1v1h-1zM3 13h1v1h-1zM5 12h1v1h-1zM6 11h1v1h-1zM7 9h1v1h-1zM7 8h1v1h-1zM7 7h1v1h-1zM6 6h1v1h-1zM5 4h1v1h-1zM4 3h1v1h-1zM1 2h1v1h-1zM2 2h1v1h-1zM0 1h1v1h-1z"/>
<path fill="#eff6fc" d="M1 14h1v1h-1zM4 13h1v1h-1zM7 10h1v1h-1zM6 5h1v1h-1zM1 1h1v1h-1z"/>
<path fill="#f1f7fd" d="M2 14h1v1h-1zM8 9h1v1h-1zM8 8h1v1h-1zM7 6h1v1h-1zM3 2h1v1h-1zM2 1h1v1h-1zM0 0h1v1h-1zM1 0h1v1h-1z"/>
<path fill="#f2f7fd" d="M3 14h1v1h-1zM5 13h1v1h-1zM6 12h1v1h-1zM7 11h1v1h-1zM8 10h1v1h-1zM8 7h1v1h-1zM7 5h1v1h-1zM6 4h1v1h-1zM5 3h1v1h-1zM4 2h1v1h-1zM3 1h1v1h-1zM2 0h1v1h-1z"/>
<path fill="#f2f8fd" d="M4 14h1v1h-1zM9 9h1v1h-1zM9 8h1v1h-1zM9 7h1v1h-1zM8 6h1v1h-1zM4 1h1v1h-1zM3 0h1v1h-1z"/>
<path fill="#f5f9fe" d="M5 14h1v1h-1zM6 14h1v1h-1zM7 13h1v1h-1zM8 12h1v1h-1zM9 11h1v1h-1zM10 11h1v1h-1zM10 10h1v1h-1zM11 9h1v1h-1zM11 8h1v1h-1zM10 7h1v1h-1zM11 7h1v1h-1zM10 6h1v1h-1zM9 5h1v1h-1zM10 5h1v1h-1zM8 4h1v1h-1zM7 3h1v1h-1zM6 2h1v1h-1zM5 1h1v1h-1zM6 1h1v1h-1zM5 0h1v1h-1z"/>
<path fill="#f5fafe" d="M7 14h1v1h-1zM8 14h1v1h-1zM8 13h1v1h-1zM9 13h1v1h-1zM10 13h1v1h-1zM9 12h1v1h-1zM10 12h1v1h-1zM11 12h1v1h-1zM11 11h1v1h-1zM12 11h1v1h-1zM13 11h1v1h-1zM11 10h1v1h-1zM12 10h1v1h-1zM13 10h1v1h-1zM14 10h1v1h-1zM12 9h1v1h-1zM13 9h1v1h-1zM14 9h1v1h-1zM12 8h1v1h-1zM13 8h1v1h-1zM14 8h1v1h-1zM12 7h1v1h-1zM13 7h1v1h-1zM14 7h1v1h-1zM11 6h1v1h-1zM12 6h1v1h-1zM13 6h1v1h-1zM11 5h1v1h-1zM12 5h1v1h-1zM9 4h1v1h-1zM10 4h1v1h-1zM11 4h1v1h-1zM8 3h1v1h-1zM9 3h1v1h-1zM10 3h1v1h-1zM7 2h1v1h-1zM8 2h1v1h-1zM7 1h1v1h-1zM8 1h1v1h-1zM6 0h1v1h-1zM7 0h1v1h-1z"/>
<path fill="#f6faff" d="M9 14h1v1h-1zM10 14h1v1h-1zM11 14h1v1h-1zM12 14h1v1h-1zM13 14h1v1h-1zM14 14h1v1h-1zM11 13h1v1h-1zM12 13h1v1h-1zM13 13h1v1h-1zM14 13h1v1h-1zM12 12h1v1h-1zM13 12h1v1h-1zM14 12h1v1h-1zM14 11h1v1h-1zM14 6h1v1h-1zM13 5h1v1h-1zM14 5h1v1h-1zM12 4h1v1h-1zM13 4h1v1h-1zM14 4h1v1h-1zM11 3h1v1h-1zM12 3h1v1h-1zM13 3h1v1h-1zM14 3h1v1h-1zM9 2h1v1h-1zM10 2h1v1h-1zM11 2h1v1h-1zM12 2h1v1h-1zM13 2h1v1h-1zM14 2h1v1h-1zM9 1h1v1h-1zM10 1h1v1h-1zM11 1h1v1h-1zM12 1h1v1h-1zM13 1h1v1h-1zM14 1h1v1h-1zM8 0h1v1h-1zM9 0h1v1h-1zM10 0h1v1h-1zM11 0h1v1h-1zM12 0h1v1h-1zM13 0h1v1h-1zM14 0h1v1h-1z"/>
<path fill="#e8f1fa" d="M0 13h1v1h-1zM5 6h1v1h-1z"/>
<path fill="#eaf2fb" d="M1 13h1v1h-1zM6 9h1v1h-1zM6 8h1v1h-1zM2 3h1v1h-1z"/>
<path fill="#ebf3fb" d="M2 13h1v1h-1zM4 12h1v1h-1zM5 5h1v1h-1zM4 4h1v1h-1z"/>
<path fill="#f3f8fe" d="M6 13h1v1h-1zM7 12h1v1h-1zM8 11h1v1h-1zM9 10h1v1h-1zM10 9h1v1h-1zM10 8h1v1h-1zM9 6h1v1h-1zM8 5h1v1h-1zM7 4h1v1h-1zM6 3h1v1h-1zM5 2h1v1h-1zM4 0h1v1h-1z"/>
<path fill="#deebf7" d="M0 12h1v1h-1zM0 4h1v1h-1z"/>
<path fill="#dfecf7" d="M1 12h1v1h-1zM3 11h1v1h-1zM4 10h1v1h-1zM1 4h1v1h-1z"/>
<path fill="#e3eef9" d="M2 12h1v1h-1zM2 4h1v1h-1z"/>
<path fill="#e7f1fa" d="M3 12h1v1h-1zM3 4h1v1h-1zM1 3h1v1h-1z"/>
<path fill="#d3e3f3" d="M0 11h1v1h-1z"/>
<path fill="#d5e5f4" d="M1 11h1v1h-1zM3 7h1v1h-1zM0 5h1v1h-1z"/>
<path fill="#d9e8f5" d="M2 11h1v1h-1zM4 9h1v1h-1z"/>
<path fill="#e5eff9" d="M4 11h1v1h-1z"/>
<path fill="#eaf3fb" d="M5 11h1v1h-1zM6 7h1v1h-1z"/>
<path fill="#c7dcef" d="M0 10h1v1h-1zM2 9h1v1h-1z"/>
<path fill="#cadef0" d="M1 10h1v1h-1z"/>
<path fill="#d1e2f3" d="M2 10h1v1h-1zM3 9h1v1h-1z"/>
<path fill="#d9e7f5" d="M3 10h1v1h-1zM4 8h1v1h-1z"/>
<path fill="#e7f0fa" d="M5 10h1v1h-1zM4 5h1v1h-1zM0 3h1v1h-1z"/>
<path fill="#ecf4fb" d="M6 10h1v1h-1zM3 3h1v1h-1zM0 2h1v1h-1z"/>
<path fill="#b4d3e9" d="M0 9h1v1h-1z"/>
<path fill="#b9d6ea" d="M1 9h1v1h-1z"/>
<path fill="#e3eef8" d="M5 9h1v1h-1zM5 8h1v1h-1z"/>
<path fill="#b2d2e8" d="M0 8h1v1h-1z"/>
<path fill="#b7d4ea" d="M1 8h1v1h-1z"/>
<path fill="#c6dbef" d="M2 8h1v1h-1z"/>
<path fill="#d0e1f2" d="M3 8h1v1h-1z"/>
<path fill="#bed8ec" d="M0 7h1v1h-1z"/>
<path fill="#c3daee" d="M1 7h1v1h-1z"/>
<path fill="#ccdff1" d="M2 7h1v1h-1z"/>
<path fill="#dceaf6" d="M4 7h1v1h-1z"/>
<path fill="#e4eff9" d="M5 7h1v1h-1z"/>
<path fill="#cbdef1" d="M0 6h1v1h-1z"/>
<path fill="#cddff1" d="M1 6h1v1h-1z"/>
<path fill="#d3e4f3" d="M2 6h1v1h-1z"/>
<path fill="#dae8f6" d="M3 6h1v1h-1z"/>
<path fill="#e1edf8" d="M4 6h1v1h-1z"/>
<path fill="#d6e6f4" d="M1 5h1v1h-1z"/>
<path fill="#dce9f6" d="M2 5h1v1h-1z"/>
<path fill="#e0ecf8" d="M3 5h1v1h-1z"/>
</g>
<path stroke="#000" stroke-width="1.5" d="M150.20 2272.90h4.8M161.30 2279.00v4.9M150.20 2216.10h4.8M218.10 2279.00v4.9M150.20 2145.10h4.8M289.10 2279.00v4.9M150.20 2074.10h4.8M360.10 2279.00v4.9"/>
<path fill="#654811" d="M194.81 2177.82L200.41 2186.42L194.81 2195.02L189.21 2186.42z"/>
<path fill="#654811" d="M260.70 2166.80L267.35 2179.00L254.05 2179.00z"/>
<text transform="translate(103.00,2173.50) rotate(-90) translate(-19.42,0.00) scale(1.400,1)" font-size="38.40" font-style="italic">n</text>
<text transform="translate(103.00,2173.50) rotate(-90) translate(5.73,6.00)" font-size="29.00">2</text>
<text transform="translate(140.1,2272.90) rotate(-90) translate(-5.08,0.00)" font-size="34.80">1</text>
<text transform="translate(140.1,2216.10) rotate(-90) translate(-4.93,0.00)" font-size="34.80">5</text>
<text transform="translate(140.1,2145.10) rotate(-90) translate(-20.87,0.00)" font-size="34.80">10</text>
<text transform="translate(140.1,2074.10) rotate(-90) translate(-20.85,0.00)" font-size="34.80">15</text>
<text x="152.12" y="2312.10" font-size="34.80">1</text>
<text x="209.07" y="2312.10" font-size="34.80">5</text>
<text x="270.83" y="2312.10" font-size="34.80">10</text>
<text x="341.85" y="2312.10" font-size="34.80">15</text>
<text transform="translate(241.76,2351.80) scale(1.300,1)" font-size="37.50" font-style="italic">n</text>
<text x="265.23" y="2357.50" font-size="26.50">3</text>
<g transform="translate(458.50,2067.00) scale(14.20000)" shape-rendering="crispEdges">
<path fill="#08306b" d="M0 14h1v1h-1z"/>
<path fill="#08509b" d="M1 14h1v1h-1z"/>
<path fill="#2d7dbb" d="M2 14h1v1h-1z"/>
<path fill="#63a8d3" d="M3 14h1v1h-1z"/>
<path fill="#9dcae1" d="M4 14h1v1h-1zM3 13h1v1h-1z"/>
<path fill="#cbdef1" d="M5 14h1v1h-1z"/>
<path fill="#dae8f6" d="M6 14h1v1h-1z"/>
<path fill="#e4eff9" d="M7 14h1v1h-1zM0 10h1v1h-1z"/>
<path fill="#eaf3fb" d="M8 14h1v1h-1zM3 10h1v1h-1z"/>
<path fill="#eef5fc" d="M9 14h1v1h-1zM8 13h1v1h-1zM7 12h1v1h-1zM4 10h1v1h-1zM2 9h1v1h-1z"/>
<path fill="#f1f7fd" d="M10 14h1v1h-1zM9 13h1v1h-1zM8 12h1v1h-1zM5 10h1v1h-1zM0 8h1v1h-1zM1 8h1v1h-1z"/>
<path fill="#f2f8fd" d="M11 14h1v1h-1zM9 12h1v1h-1zM6 10h1v1h-1zM3 8h1v1h-1zM0 7h1v1h-1zM1 7h1v1h-1zM2 7h1v1h-1z"/>
<path fill="#f3f8fe" d="M12 14h1v1h-1zM11 13h1v1h-1zM10 12h1v1h-1zM8 11h1v1h-1zM7 10h1v1h-1zM5 9h1v1h-1zM4 8h1v1h-1zM3 7h1v1h-1zM0 6h1v1h-1zM1 6h1v1h-1zM2 6h1v1h-1z"/>
<path fill="#f5f9fe" d="M13 14h1v1h-1zM14 14h1v1h-1zM12 13h1v1h-1zM13 13h1v1h-1zM14 13h1v1h-1zM11 12h1v1h-1zM12 12h1v1h-1zM9 11h1v1h-1zM10 11h1v1h-1zM8 10h1v1h-1zM6 9h1v1h-1zM5 8h1v1h-1zM4 7h1v1h-1zM3 6h1v1h-1zM4 6h1v1h-1zM0 5h1v1h-1zM1 5h1v1h-1zM2 5h1v1h-1zM3 5h1v1h-1z"/>
<path fill="#3787c0" d="M0 13h1v1h-1z"/>
<path fill="#4b98ca" d="M1 13h1v1h-1z"/>
<path fill="#6fb0d7" d="M2 13h1v1h-1z"/>
<path fill="#bed8ec" d="M4 13h1v1h-1z"/>
<path fill="#d6e6f4" d="M5 13h1v1h-1zM4 12h1v1h-1z"/>
<path fill="#e1edf8" d="M6 13h1v1h-1z"/>
<path fill="#e8f1fa" d="M7 13h1v1h-1z"/>
<path fill="#f2f7fd" d="M10 13h1v1h-1zM7 11h1v1h-1zM4 9h1v1h-1zM2 8h1v1h-1z"/>
<path fill="#a1cbe2" d="M0 12h1v1h-1z"/>
<path fill="#abd0e6" d="M1 12h1v1h-1z"/>
<path fill="#bdd7ec" d="M2 12h1v1h-1z"/>
<path fill="#ccdff1" d="M3 12h1v1h-1z"/>
<path fill="#e3eef8" d="M5 12h1v1h-1z"/>
<path fill="#eaf2fb" d="M6 12h1v1h-1z"/>
<path fill="#f5fafe" d="M13 12h1v1h-1zM14 12h1v1h-1zM11 11h1v1h-1zM12 11h1v1h-1zM13 11h1v1h-1zM14 11h1v1h-1zM9 10h1v1h-1zM10 10h1v1h-1zM11 10h1v1h-1zM7 9h1v1h-1zM8 9h1v1h-1zM9 9h1v1h-1zM6 8h1v1h-1zM7 8h1v1h-1zM8 8h1v1h-1zM5 7h1v1h-1zM6 7h1v1h-1zM7 7h1v1h-1zM5 6h1v1h-1zM6 6h1v1h-1zM4 5h1v1h-1zM5 5h1v1h-1zM0 4h1v1h-1zM1 4h1v1h-1zM2 4h1v1h-1zM3 4h1v1h-1zM4 4h1v1h-1zM0 3h1v1h-1zM1 3h1v1h-1zM2 3h1v1h-1zM3 3h1v1h-1zM4 3h1v1h-1zM1 2h1v1h-1zM2 2h1v1h-1z"/>
<path fill="#d3e3f3" d="M0 11h1v1h-1z"/>
<path fill="#d6e5f4" d="M1 11h1v1h-1z"/>
<path fill="#d9e8f5" d="M2 11h1v1h-1z"/>
<path fill="#dfecf7" d="M3 11h1v1h-1z"/>
<path fill="#e5eff9" d="M4 11h1v1h-1zM1 10h1v1h-1z"/>
<path fill="#ebf3fb" d="M5 11h1v1h-1z"/>
<path fill="#eff6fc" d="M6 11h1v1h-1zM3 9h1v1h-1z"/>
<path fill="#e7f1fa" d="M2 10h1v1h-1z"/>
<path fill="#f6faff" d="M12 10h1v1h-1zM13 10h1v1h-1zM14 10h1v1h-1zM10 9h1v1h-1zM11 9h1v1h-1zM12 9h1v1h-1zM13 9h1v1h-1zM14 9h1v1h-1zM9 8h1v1h-1zM10 8h1v1h-1zM11 8h1v1h-1zM12 8h1v1h-1zM13 8h1v1h-1zM14 8h1v1h-1zM8 7h1v1h-1zM9 7h1v1h-1zM10 7h1v1h-1zM11 7h1v1h-1zM12 7h1v1h-1zM13 7h1v1h-1zM14 7h1v1h-1zM7 6h1v1h-1zM8 6h1v1h-1zM9 6h1v1h-1zM10 6h1v1h-1zM11 6h1v1h-1zM12 6h1v1h-1zM13 6h1v1h-1zM14 6h1v1h-1zM6 5h1v1h-1zM7 5h1v1h-1zM8 5h1v1h-1zM9 5h1v1h-1zM10 5h1v1h-1zM11 5h1v1h-1zM12 5h1v1h-1zM13 5h1v1h-1zM14 5h1v1h-1zM5 4h1v1h-1zM6 4h1v1h-1zM7 4h1v1h-1zM8 4h1v1h-1zM9 4h1v1h-1zM10 4h1v1h-1zM11 4h1v1h-1zM12 4h1v1h-1zM13 4h1v1h-1zM14 4h1v1h-1zM5 3h1v1h-1zM6 3h1v1h-1zM7 3h1v1h-1zM8 3h1v1h-1zM9 3h1v1h-1zM10 3h1v1h-1zM11 3h1v1h-1zM12 3h1v1h-1zM13 3h1v1h-1zM14 3h1v1h-1zM0 2h1v1h-1zM3 2h1v1h-1zM4 2h1v1h-1zM5 2h1v1h-1zM6 2h1v1h-1zM7 2h1v1h-1zM8 2h1v1h-1zM9 2h1v1h-1zM10 2h1v1h-1zM11 2h1v1h-1zM12 2h1v1h-1zM13 2h1v1h-1zM14 2h1v1h-1zM0 1h1v1h-1zM1 1h1v1h-1zM2 1h1v1h-1zM3 1h1v1h-1zM4 1h1v1h-1zM5 1h1v1h-1zM6 1h1v1h-1zM7 1h1v1h-1zM8 1h1v1h-1zM9 1h1v1h-1zM10 1h1v1h-1zM11 1h1v1h-1zM12 1h1v1h-1zM13 1h1v1h-1zM14 1h1v1h-1zM0 0h1v1h-1zM1 0h1v1h-1zM2 0h1v1h-1zM3 0h1v1h-1zM4 0h1v1h-1zM5 0h1v1h-1zM6 0h1v1h-1zM7 0h1v1h-1zM8 0h1v1h-1zM9 0h1v1h-1zM10 0h1v1h-1zM11 0h1v1h-1zM12 0h1v1h-1zM13 0h1v1h-1zM14 0h1v1h-1z"/>
<path fill="#ecf4fb" d="M0 9h1v1h-1zM1 9h1v1h-1z"/>
</g>
<path stroke="#000" stroke-width="1.5" d="M454.50 2272.90h4.8M465.60 2279.00v4.9M454.50 2216.10h4.8M522.40 2279.00v4.9M454.50 2145.10h4.8M593.40 2279.00v4.9M454.50 2074.10h4.8M664.40 2279.00v4.9"/>
<path fill="#654811" d="M495.85 2248.82L501.45 2257.42L495.85 2266.02L490.25 2257.42z"/>
<path fill="#654811" d="M565.00 2223.60L571.65 2235.80L558.35 2235.80z"/>
<text transform="translate(438.10,2173.50) rotate(-90) translate(-19.42,0.00) scale(1.400,1)" font-size="38.40" font-style="italic">n</text>
<text transform="translate(438.10,2173.50) rotate(-90) translate(4.45,6.00)" font-size="29.00">1</text>
<text x="456.42" y="2312.10" font-size="34.80">1</text>
<text x="513.37" y="2312.10" font-size="34.80">5</text>
<text x="575.13" y="2312.10" font-size="34.80">10</text>
<text x="646.15" y="2312.10" font-size="34.80">15</text>
<text transform="translate(546.06,2351.80) scale(1.300,1)" font-size="37.50" font-style="italic">n</text>
<text x="569.53" y="2357.50" font-size="26.50">3</text>
<g transform="translate(763.50,2067.00) scale(14.20000)" shape-rendering="crispEdges">
<path fill="#eaf3fb" d="M0 14h1v1h-1zM11 13h1v1h-1zM10 12h1v1h-1z"/>
<path fill="#dfecf7" d="M1 14h1v1h-1zM5 11h1v1h-1zM6 11h1v1h-1z"/>
<path fill="#c8dcf0" d="M2 14h1v1h-1z"/>
<path fill="#9cc9e1" d="M3 14h1v1h-1z"/>
<path fill="#61a7d2" d="M4 14h1v1h-1z"/>
<path fill="#4191c6" d="M5 14h1v1h-1z"/>
<path fill="#4997c9" d="M6 14h1v1h-1z"/>
<path fill="#63a8d3" d="M7 14h1v1h-1z"/>
<path fill="#92c4de" d="M8 14h1v1h-1z"/>
<path fill="#bcd7eb" d="M9 14h1v1h-1z"/>
<path fill="#d6e5f4" d="M10 14h1v1h-1zM9 13h1v1h-1z"/>
<path fill="#e3eef8" d="M11 14h1v1h-1zM10 13h1v1h-1zM9 12h1v1h-1zM4 11h1v1h-1zM7 11h1v1h-1z"/>
<path fill="#eaf2fb" d="M12 14h1v1h-1z"/>
<path fill="#eef5fc" d="M13 14h1v1h-1zM12 13h1v1h-1zM1 12h1v1h-1zM2 11h1v1h-1zM4 10h1v1h-1zM7 10h1v1h-1z"/>
<path fill="#f2f7fd" d="M14 14h1v1h-1zM13 13h1v1h-1zM12 12h1v1h-1zM9 10h1v1h-1zM4 9h1v1h-1zM7 9h1v1h-1z"/>
<path fill="#eff6fc" d="M0 13h1v1h-1zM11 12h1v1h-1zM3 10h1v1h-1zM8 10h1v1h-1z"/>
<path fill="#e8f1fa" d="M1 13h1v1h-1zM3 11h1v1h-1z"/>
<path fill="#dae8f6" d="M2 13h1v1h-1z"/>
<path fill="#cadef0" d="M3 13h1v1h-1z"/>
<path fill="#b0d2e7" d="M4 13h1v1h-1z"/>
<path fill="#9dcae1" d="M5 13h1v1h-1z"/>
<path fill="#a1cbe2" d="M6 13h1v1h-1z"/>
<path fill="#b2d2e8" d="M7 13h1v1h-1z"/>
<path fill="#c7dcef" d="M8 13h1v1h-1z"/>
<path fill="#f3f8fe" d="M14 13h1v1h-1zM13 12h1v1h-1zM10 10h1v1h-1zM9 9h1v1h-1zM4 8h1v1h-1zM6 8h1v1h-1zM7 8h1v1h-1z"/>
<path fill="#f2f8fd" d="M0 12h1v1h-1zM1 11h1v1h-1zM11 11h1v1h-1zM2 10h1v1h-1zM3 9h1v1h-1zM8 9h1v1h-1zM5 8h1v1h-1z"/>
<path fill="#e5eff9" d="M2 12h1v1h-1z"/>
<path fill="#dce9f6" d="M3 12h1v1h-1z"/>
<path fill="#d1e2f3" d="M4 12h1v1h-1z"/>
<path fill="#cbdef1" d="M5 12h1v1h-1z"/>
<path fill="#ccdff1" d="M6 12h1v1h-1z"/>
<path fill="#d2e3f3" d="M7 12h1v1h-1z"/>
<path fill="#d9e8f5" d="M8 12h1v1h-1z"/>
<path fill="#f5f9fe" d="M14 12h1v1h-1zM0 11h1v1h-1zM12 11h1v1h-1zM1 10h1v1h-1zM11 10h1v1h-1zM2 9h1v1h-1zM3 8h1v1h-1zM8 8h1v1h-1zM4 7h1v1h-1zM5 7h1v1h-1zM6 7h1v1h-1zM7 7h1v1h-1zM5 6h1v1h-1z"/>
<path fill="#e7f1fa" d="M8 11h1v1h-1z"/>
<path fill="#ecf4fb" d="M9 11h1v1h-1z"/>
<path fill="#f1f7fd" d="M10 11h1v1h-1zM5 9h1v1h-1zM6 9h1v1h-1z"/>
<path fill="#f5fafe" d="M13 11h1v1h-1zM14 11h1v1h-1zM0 10h1v1h-1zM12 10h1v1h-1zM13 10h1v1h-1zM1 9h1v1h-1zM10 9h1v1h-1zM11 9h1v1h-1zM1 8h1v1h-1zM2 8h1v1h-1zM9 8h1v1h-1zM10 8h1v1h-1zM2 7h1v1h-1zM3 7h1v1h-1zM8 7h1v1h-1zM9 7h1v1h-1zM3 6h1v1h-1zM4 6h1v1h-1zM6 6h1v1h-1zM7 6h1v1h-1zM8 6h1v1h-1zM9 6h1v1h-1zM3 5h1v1h-1zM4 5h1v1h-1zM5 5h1v1h-1zM6 5h1v1h-1zM7 5h1v1h-1zM8 5h1v1h-1zM4 4h1v1h-1zM5 4h1v1h-1zM6 4h1v1h-1zM7 4h1v1h-1z"/>
<path fill="#ebf3fb" d="M5 10h1v1h-1zM6 10h1v1h-1z"/>
<path fill="#f6faff" d="M14 10h1v1h-1zM0 9h1v1h-1zM12 9h1v1h-1zM13 9h1v1h-1zM14 9h1v1h-1zM0 8h1v1h-1zM11 8h1v1h-1zM12 8h1v1h-1zM13 8h1v1h-1zM14 8h1v1h-1zM0 7h1v1h-1zM1 7h1v1h-1zM10 7h1v1h-1zM11 7h1v1h-1zM12 7h1v1h-1zM13 7h1v1h-1zM14 7h1v1h-1zM0 6h1v1h-1zM1 6h1v1h-1zM2 6h1v1h-1zM10 6h1v1h-1zM11 6h1v1h-1zM12 6h1v1h-1zM13 6h1v1h-1zM14 6h1v1h-1zM0 5h1v1h-1zM1 5h1v1h-1zM2 5h1v1h-1zM9 5h1v1h-1zM10 5h1v1h-1zM11 5h1v1h-1zM12 5h1v1h-1zM13 5h1v1h-1zM14 5h1v1h-1zM0 4h1v1h-1zM1 4h1v1h-1zM2 4h1v1h-1zM3 4h1v1h-1zM8 4h1v1h-1zM9 4h1v1h-1zM10 4h1v1h-1zM11 4h1v1h-1zM12 4h1v1h-1zM13 4h1v1h-1zM14 4h1v1h-1zM0 3h1v1h-1zM1 3h1v1h-1zM2 3h1v1h-1zM3 3h1v1h-1zM4 3h1v1h-1zM5 3h1v1h-1zM6 3h1v1h-1zM7 3h1v1h-1zM8 3h1v1h-1zM9 3h1v1h-1zM10 3h1v1h-1zM11 3h1v1h-1zM12 3h1v1h-1zM13 3h1v1h-1zM14 3h1v1h-1zM0 2h1v1h-1zM1 2h1v1h-1zM2 2h1v1h-1zM3 2h1v1h-1zM4 2h1v1h-1zM5 2h1v1h-1zM6 2h1v1h-1zM7 2h1v1h-1zM8 2h1v1h-1zM9 2h1v1h-1zM10 2h1v1h-1zM11 2h1v1h-1zM12 2h1v1h-1zM13 2h1v1h-1zM14 2h1v1h-1zM0 1h1v1h-1zM1 1h1v1h-1zM2 1h1v1h-1zM3 1h1v1h-1zM4 1h1v1h-1zM5 1h1v1h-1zM6 1h1v1h-1zM7 1h1v1h-1zM8 1h1v1h-1zM9 1h1v1h-1zM10 1h1v1h-1zM11 1h1v1h-1zM12 1h1v1h-1zM13 1h1v1h-1zM14 1h1v1h-1zM0 0h1v1h-1zM1 0h1v1h-1zM2 0h1v1h-1zM3 0h1v1h-1zM4 0h1v1h-1zM5 0h1v1h-1zM6 0h1v1h-1zM7 0h1v1h-1zM8 0h1v1h-1zM9 0h1v1h-1zM10 0h1v1h-1zM11 0h1v1h-1zM12 0h1v1h-1zM13 0h1v1h-1zM14 0h1v1h-1z"/>
</g>
<path stroke="#000" stroke-width="1.5" d="M759.50 2272.90h4.8M770.60 2279.00v4.9M759.50 2216.10h4.8M827.40 2279.00v4.9M759.50 2145.10h4.8M898.40 2279.00v4.9M759.50 2074.10h4.8M969.40 2279.00v4.9"/>
<path fill="#654811" d="M855.66 2248.82L861.26 2257.42L855.66 2266.02L850.06 2257.42z"/>
<path fill="#654811" d="M870.00 2223.60L876.65 2235.80L863.35 2235.80z"/>
<text transform="translate(743.10,2173.50) rotate(-90) translate(-19.42,0.00) scale(1.400,1)" font-size="38.40" font-style="italic">n</text>
<text transform="translate(743.10,2173.50) rotate(-90) translate(4.45,6.00)" font-size="29.00">1</text>
<text x="761.42" y="2312.10" font-size="34.80">1</text>
<text x="818.37" y="2312.10" font-size="34.80">5</text>
<text x="880.13" y="2312.10" font-size="34.80">10</text>
<text x="951.15" y="2312.10" font-size="34.80">15</text>
<text transform="translate(851.06,2351.80) scale(1.300,1)" font-size="37.50" font-style="italic">n</text>
<text x="874.64" y="2357.50" font-size="26.50">2</text>
<rect x="1067.20" y="2076.70" width="178.75" height="55.2" fill="#e5471a"/>
<rect x="1067.20" y="2145.90" width="1.62" height="55.2" fill="#7bff78"/>
<rect x="1067.20" y="2215.10" width="89.11" height="55.2" fill="#a493ff"/>
<path stroke="#000" stroke-width="1.5" fill="none" d="M1067.20 2066.00V2279.70H1337.10"/>
<path stroke="#000" stroke-width="1.4" d="M1063.00 2104.30h4.2M1063.00 2173.50h4.2M1063.00 2242.70h4.2M1067.20 2280.00v4.2M1201.80 2280.00v4.2M1336.40 2280.00v4.2"/>
<use href="#calU" x="1008" y="2091.00"/>
<text x="1035.63" y="2105.80" font-size="23.50">1</text>
<text transform="translate(1035.36,2128.00) scale(1.170,1)" font-size="23.60" font-weight="bold">n</text>
<text x="1050.94" y="2130.70" font-size="17.30">0</text>
<use href="#calU" x="1008" y="2160.20"/>
<text x="1036.67" y="2175.00" font-size="23.50">2</text>
<text transform="translate(1035.36,2197.20) scale(1.170,1)" font-size="23.60" font-weight="bold">n</text>
<text x="1050.94" y="2199.90" font-size="17.30">0</text>
<use href="#calU" x="1008" y="2229.40"/>
<text x="1036.58" y="2244.20" font-size="23.50">3</text>
<text transform="translate(1035.36,2266.40) scale(1.170,1)" font-size="23.60" font-weight="bold">n</text>
<text x="1050.94" y="2269.10" font-size="17.30">0</text>
<text x="1045.45" y="2311.30" font-size="34.80">0.0</text>
<text x="1180.07" y="2311.30" font-size="34.80">0.5</text>
<text x="1313.78" y="2311.30" font-size="34.80">1.0</text>
<text transform="translate(-2.04,2079.86) scale(0.894,1)" font-size="51.83">(</text>
<text transform="translate(14.79,2079.34) scale(1.054,1)" font-size="47.04" font-weight="bold">d</text>
<text transform="translate(45.51,2079.86) scale(0.894,1)" font-size="51.83">)</text>
<defs><linearGradient id="cg" x1="0" x2="1" y1="0" y2="0"><stop offset="0.0000" stop-color="#f7fcf5"/><stop offset="0.0312" stop-color="#f2faf0"/><stop offset="0.0625" stop-color="#eef8ea"/><stop offset="0.0938" stop-color="#e9f7e5"/><stop offset="0.1250" stop-color="#e5f5e0"/><stop offset="0.1562" stop-color="#ddf2d8"/><stop offset="0.1875" stop-color="#d6efd0"/><stop offset="0.2188" stop-color="#ceecc8"/><stop offset="0.2500" stop-color="#c7e9c0"/><stop offset="0.2812" stop-color="#bde5b6"/><stop offset="0.3125" stop-color="#b4e1ad"/><stop offset="0.3438" stop-color="#aadda4"/><stop offset="0.3750" stop-color="#a0d99b"/><stop offset="0.4062" stop-color="#95d391"/><stop offset="0.4375" stop-color="#8ace88"/><stop offset="0.4688" stop-color="#7fc97f"/><stop offset="0.5000" stop-color="#73c476"/><stop offset="0.5312" stop-color="#66bd6f"/><stop offset="0.5625" stop-color="#5ab769"/><stop offset="0.5938" stop-color="#4db163"/><stop offset="0.6250" stop-color="#40aa5d"/><stop offset="0.6562" stop-color="#39a257"/><stop offset="0.6875" stop-color="#319a50"/><stop offset="0.7188" stop-color="#2a924a"/><stop offset="0.7500" stop-color="#228a44"/><stop offset="0.7812" stop-color="#19833e"/><stop offset="0.8125" stop-color="#117b38"/><stop offset="0.8438" stop-color="#087432"/><stop offset="0.8750" stop-color="#006c2c"/><stop offset="0.9062" stop-color="#006227"/><stop offset="0.9375" stop-color="#005723"/><stop offset="0.9688" stop-color="#004d1f"/><stop offset="1.0000" stop-color="#00441b"/></linearGradient></defs>
<rect x="85.2" y="2376.0" width="503.80" height="12.80" fill="url(#cg)"/>
<defs><linearGradient id="cb" x1="0" x2="1" y1="0" y2="0"><stop offset="0.0000" stop-color="#f7fbff"/><stop offset="0.0312" stop-color="#f1f7fd"/><stop offset="0.0625" stop-color="#eaf3fb"/><stop offset="0.0938" stop-color="#e4eff9"/><stop offset="0.1250" stop-color="#deebf7"/><stop offset="0.1562" stop-color="#d8e7f5"/><stop offset="0.1875" stop-color="#d2e3f3"/><stop offset="0.2188" stop-color="#ccdff1"/><stop offset="0.2500" stop-color="#c6dbef"/><stop offset="0.2812" stop-color="#bcd7eb"/><stop offset="0.3125" stop-color="#b2d2e8"/><stop offset="0.3438" stop-color="#a8cee4"/><stop offset="0.3750" stop-color="#9dcae1"/><stop offset="0.4062" stop-color="#91c3de"/><stop offset="0.4375" stop-color="#84bcdb"/><stop offset="0.4688" stop-color="#77b5d9"/><stop offset="0.5000" stop-color="#6aaed6"/><stop offset="0.5312" stop-color="#60a7d2"/><stop offset="0.5625" stop-color="#56a0ce"/><stop offset="0.5938" stop-color="#4b98ca"/><stop offset="0.6250" stop-color="#4191c6"/><stop offset="0.6562" stop-color="#3989c1"/><stop offset="0.6875" stop-color="#3181bd"/><stop offset="0.7188" stop-color="#2979b9"/><stop offset="0.7500" stop-color="#2070b4"/><stop offset="0.7812" stop-color="#1a68ae"/><stop offset="0.8125" stop-color="#1460a8"/><stop offset="0.8438" stop-color="#0e58a2"/><stop offset="0.8750" stop-color="#08509b"/><stop offset="0.9062" stop-color="#08488e"/><stop offset="0.9375" stop-color="#084082"/><stop offset="0.9688" stop-color="#083776"/><stop offset="1.0000" stop-color="#08306b"/></linearGradient></defs>
<rect x="767.7" y="2376.0" width="503.70" height="12.80" fill="url(#cb)"/>
<text x="56.33" y="2420.50" font-size="33.00">0.00</text>
<text x="190.09" y="2420.50" font-size="33.00">0.01</text>
<text x="323.41" y="2420.50" font-size="33.00">0.02</text>
<text x="456.54" y="2420.50" font-size="33.00">0.03</text>
<text x="738.83" y="2420.50" font-size="33.00">0.00</text>
<text x="975.14" y="2420.50" font-size="33.00">0.05</text>
<text x="1211.43" y="2420.50" font-size="33.00">0.10</text>
<path stroke="#000" stroke-width="1.1" d="M85.20 2388.8v4M218.60 2388.8v4M352.00 2388.8v4M485.40 2388.8v4M767.70 2388.8v4M1004.00 2388.8v4M1240.30 2388.8v4"/>
<text transform="translate(94.19,2463.20) scale(0.973,1)" font-size="43.20">Probability (hard niche case)</text>
<text transform="translate(784.90,2463.20) scale(0.964,1)" font-size="43.20">Probability (soft niche case)</text>
</svg></body></html>
